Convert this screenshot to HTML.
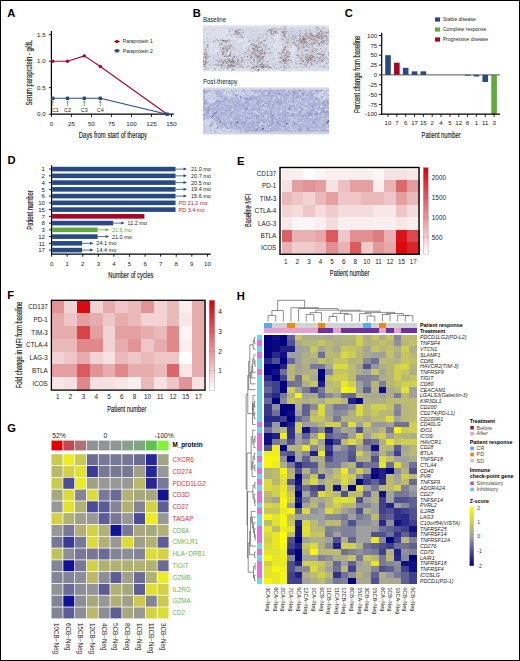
<!DOCTYPE html>
<html><head><meta charset="utf-8"><style>
html,body{margin:0;padding:0;background:#fff;}
svg{display:block;font-family:"Liberation Sans",sans-serif;}
.ce rect{shape-rendering:crispEdges;}
</style></head><body>
<svg width="520" height="661" viewBox="0 0 520 661">
<rect x="0" y="0" width="520" height="661" fill="#fff"/>
<text x="7.3" y="16.7" font-size="11.2" font-weight="bold" fill="#000">A</text>
<line x1="51.40" y1="31.10" x2="51.40" y2="114.80" stroke="#000" stroke-width="1.2" />
<line x1="50.80" y1="114.20" x2="173.80" y2="114.20" stroke="#000" stroke-width="1.2" />
<line x1="48.80" y1="114.20" x2="51.40" y2="114.20" stroke="#000" stroke-width="0.9" />
<text x="45.60" y="116.40" font-size="6.2" text-anchor="end" fill="#222">0.0</text>
<line x1="48.80" y1="87.70" x2="51.40" y2="87.70" stroke="#000" stroke-width="0.9" />
<text x="45.60" y="89.90" font-size="6.2" text-anchor="end" fill="#222">0.5</text>
<line x1="48.80" y1="61.20" x2="51.40" y2="61.20" stroke="#000" stroke-width="0.9" />
<text x="45.60" y="63.40" font-size="6.2" text-anchor="end" fill="#222">1.0</text>
<line x1="48.80" y1="34.70" x2="51.40" y2="34.70" stroke="#000" stroke-width="0.9" />
<text x="45.60" y="36.90" font-size="6.2" text-anchor="end" fill="#222">1.5</text>
<line x1="51.50" y1="114.20" x2="51.50" y2="116.80" stroke="#000" stroke-width="0.9" />
<text x="51.50" y="125.80" font-size="6.2" text-anchor="middle" fill="#222">0</text>
<line x1="71.50" y1="114.20" x2="71.50" y2="116.80" stroke="#000" stroke-width="0.9" />
<text x="71.50" y="125.80" font-size="6.2" text-anchor="middle" fill="#222">25</text>
<line x1="91.50" y1="114.20" x2="91.50" y2="116.80" stroke="#000" stroke-width="0.9" />
<text x="91.50" y="125.80" font-size="6.2" text-anchor="middle" fill="#222">50</text>
<line x1="111.50" y1="114.20" x2="111.50" y2="116.80" stroke="#000" stroke-width="0.9" />
<text x="111.50" y="125.80" font-size="6.2" text-anchor="middle" fill="#222">75</text>
<line x1="131.50" y1="114.20" x2="131.50" y2="116.80" stroke="#000" stroke-width="0.9" />
<text x="131.50" y="125.80" font-size="6.2" text-anchor="middle" fill="#222">100</text>
<line x1="151.50" y1="114.20" x2="151.50" y2="116.80" stroke="#000" stroke-width="0.9" />
<text x="151.50" y="125.80" font-size="6.2" text-anchor="middle" fill="#222">125</text>
<line x1="171.50" y1="114.20" x2="171.50" y2="116.80" stroke="#000" stroke-width="0.9" />
<text x="171.50" y="125.80" font-size="6.2" text-anchor="middle" fill="#222">150</text>
<text x="112.90" y="137.50" font-size="9.0" font-weight="normal" text-anchor="middle" fill="#222" stroke="#222" stroke-width="0.16" textLength="68.2" lengthAdjust="spacingAndGlyphs">Days from start of therapy</text>
<text x="0" y="0" font-size="9.0" font-weight="normal" text-anchor="middle" fill="#222" stroke="#222" stroke-width="0.16" textLength="65.4" lengthAdjust="spacingAndGlyphs" transform="translate(31.60,72.80) rotate(-90)">Serum paraprotein - g/dL</text>
<polyline fill="none" stroke="#284a84" stroke-width="1.1" points="52.70,98.30 67.50,98.30 84.30,98.30 100.30,98.30 167.18,114.20"/>
<polyline fill="none" stroke="#a80424" stroke-width="1.1" points="52.70,61.20 67.50,61.20 84.30,55.90 100.30,66.50 167.18,114.20"/>
<rect x="51.00" y="96.60" width="3.40" height="3.40" fill="#284a84" />
<rect x="65.80" y="96.60" width="3.40" height="3.40" fill="#284a84" />
<rect x="82.60" y="96.60" width="3.40" height="3.40" fill="#284a84" />
<rect x="98.60" y="96.60" width="3.40" height="3.40" fill="#284a84" />
<rect x="165.48" y="112.50" width="3.40" height="3.40" fill="#284a84" />
<circle cx="52.70" cy="61.20" r="1.7" fill="#a80424"/>
<circle cx="67.50" cy="61.20" r="1.7" fill="#a80424"/>
<circle cx="84.30" cy="55.90" r="1.7" fill="#a80424"/>
<circle cx="100.30" cy="66.50" r="1.7" fill="#a80424"/>
<line x1="52.70" y1="106.20" x2="52.70" y2="101.80" stroke="#64a840" stroke-width="0.8" />
<path d="M51.30,102.60 L52.70,100.30 L54.10,102.60 Z" fill="#64a840"/>
<text x="55.40" y="111.72" font-size="5.4" text-anchor="middle" fill="#222">C1</text>
<line x1="67.50" y1="106.20" x2="67.50" y2="101.80" stroke="#64a840" stroke-width="0.8" />
<path d="M66.10,102.60 L67.50,100.30 L68.90,102.60 Z" fill="#64a840"/>
<text x="67.50" y="111.72" font-size="5.4" text-anchor="middle" fill="#222">C2</text>
<line x1="84.30" y1="106.20" x2="84.30" y2="101.80" stroke="#64a840" stroke-width="0.8" />
<path d="M82.90,102.60 L84.30,100.30 L85.70,102.60 Z" fill="#64a840"/>
<text x="84.30" y="111.72" font-size="5.4" text-anchor="middle" fill="#222">C3</text>
<line x1="100.30" y1="106.20" x2="100.30" y2="101.80" stroke="#64a840" stroke-width="0.8" />
<path d="M98.90,102.60 L100.30,100.30 L101.70,102.60 Z" fill="#64a840"/>
<text x="100.30" y="111.72" font-size="5.4" text-anchor="middle" fill="#222">C4</text>
<line x1="114.20" y1="41.50" x2="119.80" y2="41.50" stroke="#a80424" stroke-width="1.1" />
<circle cx="117" cy="41.5" r="1.7" fill="#a80424"/>
<line x1="114.20" y1="50.80" x2="119.80" y2="50.80" stroke="#284a84" stroke-width="1.1" />
<rect x="115.30" y="49.10" width="3.40" height="3.40" fill="#284a84" />
<text x="122.80" y="43.27" font-size="5.0" text-anchor="start" fill="#222">Paraprotein 1</text>
<text x="122.80" y="52.57" font-size="5.0" text-anchor="start" fill="#222">Paraprotein 2</text>
<text x="192.8" y="16.7" font-size="11.2" font-weight="bold" fill="#000">B</text>
<text x="202.90" y="22.27" font-size="6.4" text-anchor="start" fill="#222" textLength="23.2" lengthAdjust="spacingAndGlyphs">Baseline</text>
<text x="202.90" y="84.27" font-size="6.4" text-anchor="start" fill="#222" textLength="34.5" lengthAdjust="spacingAndGlyphs">Post-therapy</text>
<svg x="203" y="25.2" width="126.3" height="46.2" viewBox="0 0 126.3 46.2" overflow="hidden"><defs><filter id="hb0" x="0" y="0" width="1" height="1"><feGaussianBlur stdDeviation="0.35"/></filter></defs><g filter="url(#hb0)">
<rect width="126.3" height="46.2" fill="#d5d8e6"/>
<rect width="126.3" height="2.5" fill="#dfe2ec"/>
<rect y="43.2" width="126.3" height="3" fill="#dde0ea"/>
<ellipse cx="14" cy="9" rx="16" ry="6" fill="#dfe1ec" opacity="0.9"/>
<ellipse cx="74" cy="20" rx="4" ry="13" fill="#dfe1ec" opacity="0.9"/>
<ellipse cx="90" cy="26" rx="4" ry="10" fill="#dfe1ec" opacity="0.9"/>
<ellipse cx="40" cy="18" rx="7" ry="5" fill="#dfe1ec" opacity="0.9"/>
<ellipse cx="12" cy="24" rx="8" ry="6" fill="#dfe1ec" opacity="0.9"/>
<ellipse cx="30" cy="12" rx="4" ry="3" fill="#dfe1ec" opacity="0.9"/>
<path d="M40.9 9.1h0M11.5 20.1h0M72.9 18.9h0M14.9 15.4h0M83.2 3.5h0M3.2 38.1h0M43.3 13.6h0M77.5 34.7h0M101.8 35.9h0M25.2 22.8h0M2.7 35.1h0M19.2 23.5h0M111.8 9.5h0M10.6 13.9h0M118.5 28.5h0M78.5 4.7h0M92.1 8.6h0M40.9 4.4h0M10.7 41.5h0M106.9 12.4h0M48.9 39.8h0M8.2 18.7h0M15.9 23.2h0M56.3 41.3h0M28.3 9.1h0M13.8 28.1h0M45.8 16.5h0M119.5 5.6h0M99.8 39.7h0M10.0 10.9h0M41.1 42.4h0M29.2 35.5h0M6.4 27.1h0M76.2 34.2h0M13.4 27.0h0M4.8 32.4h0M39.7 27.4h0M114.2 27.9h0M15.5 12.9h0M5.2 25.6h0M113.0 29.2h0M108.2 43.0h0M113.1 9.8h0M70.1 26.3h0M56.0 40.7h0M1.6 25.1h0M122.7 14.9h0M78.6 6.1h0M4.2 7.5h0M119.9 39.6h0M67.9 11.7h0M25.5 33.6h0M43.9 6.8h0M104.4 27.8h0M125.7 9.6h0M88.6 26.6h0M65.9 19.5h0M24.4 28.8h0M98.5 21.9h0M104.6 39.4h0M76.8 26.3h0M20.8 27.1h0M9.5 28.6h0M103.8 22.1h0M53.2 7.0h0M40.2 20.3h0M2.0 3.2h0M16.3 3.7h0M41.9 27.4h0M47.6 30.5h0M33.9 9.3h0M73.0 17.4h0M7.0 8.8h0M100.9 9.3h0M118.0 37.8h0M62.0 15.8h0M116.9 25.5h0" stroke="#e4e6ee" stroke-opacity="0.75" stroke-width="1.6" stroke-linecap="round" fill="none"/>
<path d="M103.7 6.8h0M70.3 8.4h0M88.3 12.8h0M62.5 16.8h0M8.7 6.8h0M73.0 30.4h0M59.4 16.6h0M63.3 33.7h0M53.1 39.9h0M56.0 27.6h0M34.2 8.2h0M86.9 42.5h0M94.5 23.2h0M118.2 13.0h0M59.6 16.8h0M11.7 39.1h0M119.2 10.7h0M18.5 18.8h0M37.6 32.0h0M41.4 15.8h0M51.5 29.1h0M37.1 25.8h0M8.2 13.1h0M103.4 19.4h0M38.8 41.3h0M11.2 28.0h0M124.5 21.7h0M77.1 13.1h0M121.8 22.3h0M71.6 15.2h0M103.7 38.9h0M22.2 43.1h0M106.3 24.6h0M88.1 37.5h0M25.2 41.4h0M72.6 14.5h0M29.5 21.5h0M65.9 37.9h0M73.1 8.1h0M30.1 10.7h0M15.7 20.4h0M57.5 28.0h0M65.6 7.1h0M67.0 16.9h0M106.2 21.8h0M37.5 21.7h0M11.9 29.5h0M50.4 25.3h0M68.2 22.5h0M121.2 13.3h0M85.5 15.0h0" stroke="#bfc2da" stroke-opacity="0.75" stroke-width="1.2" stroke-linecap="round" fill="none"/>
<path d="M27.1 6.5h0M119.7 28.4h0M74.0 21.2h0M44.9 27.6h0M65.5 39.5h0M67.3 34.3h0M120.6 17.7h0M83.0 17.1h0M66.5 40.5h0M86.2 24.3h0M97.5 23.4h0M17.3 7.9h0M81.3 17.7h0M2.5 25.3h0M48.5 23.8h0M14.3 39.9h0M76.8 11.9h0M63.2 10.2h0M109.9 30.0h0M35.2 29.4h0M5.3 3.9h0M17.6 24.1h0M30.9 13.6h0M66.4 33.0h0M9.7 39.6h0M16.7 36.0h0M45.6 20.2h0M61.3 39.7h0M93.3 29.2h0M38.0 25.4h0M54.0 25.0h0M108.0 42.1h0M84.3 40.2h0M8.5 22.9h0M56.8 31.6h0M126.0 40.5h0M115.5 4.6h0M81.4 18.7h0M51.3 38.5h0M116.9 7.4h0M11.6 20.8h0M24.5 42.5h0M28.3 26.5h0M104.2 28.4h0M65.5 7.0h0M32.9 40.9h0M91.3 27.2h0M35.5 38.6h0M98.3 18.6h0M125.1 10.4h0M59.1 14.8h0M19.3 15.2h0M111.5 25.3h0M102.1 6.8h0M72.7 39.9h0M123.9 22.1h0M124.6 37.5h0M58.2 40.5h0M99.1 25.8h0M75.9 15.4h0M86.5 39.7h0M94.9 34.8h0M40.5 23.3h0M31.1 40.1h0M75.4 16.9h0M70.4 38.0h0M11.3 40.0h0M13.3 16.0h0M47.4 18.3h0M115.5 38.9h0M57.0 38.8h0" stroke="#e4e6ee" stroke-opacity="0.75" stroke-width="1.2" stroke-linecap="round" fill="none"/>
<path d="M13.0 26.0h0M69.2 5.5h0M121.0 9.1h0M20.5 16.7h0M58.5 32.9h0M76.9 34.2h0M111.6 5.3h0M72.1 31.2h0M120.8 28.8h0M77.9 28.8h0M94.8 36.7h0M10.7 34.2h0M111.8 29.0h0M55.9 7.4h0M44.4 41.4h0M5.1 4.4h0M38.3 30.8h0M124.8 42.1h0M32.9 20.7h0M69.5 28.7h0M54.8 9.3h0M21.7 17.0h0M106.9 36.3h0M63.9 15.8h0M18.5 16.3h0M28.7 29.3h0M46.3 36.3h0M118.3 12.8h0M20.9 3.0h0M51.3 12.6h0M10.8 23.4h0M43.6 8.7h0M17.5 28.9h0M13.5 11.3h0M37.6 14.0h0M4.8 24.8h0M16.1 42.1h0M6.3 15.1h0M96.3 7.1h0M89.7 37.7h0M55.4 30.2h0M121.7 13.2h0M125.6 18.2h0M7.5 25.2h0" stroke="#e4e6ee" stroke-opacity="0.75" stroke-width="0.8" stroke-linecap="round" fill="none"/>
<path d="M62.7 24.4h0M9.8 25.4h0M120.0 29.3h0M50.6 10.7h0M80.1 41.4h0M15.5 37.1h0M65.2 11.2h0M120.8 21.0h0M42.0 35.2h0M101.9 8.9h0M52.9 8.3h0M122.2 11.8h0M101.0 10.4h0M68.9 38.7h0M105.7 3.6h0M54.4 5.2h0M83.0 31.8h0M9.7 23.4h0M88.8 12.3h0M39.9 34.1h0M16.1 20.1h0M118.9 32.0h0M29.4 40.0h0M0.1 24.6h0M121.1 28.9h0M29.2 11.9h0M3.8 19.5h0M32.5 33.0h0M60.0 41.5h0M68.0 34.1h0M12.9 22.1h0M117.5 18.0h0M5.1 8.2h0M97.0 5.0h0M4.3 9.0h0M8.0 8.8h0M94.1 21.7h0M24.2 18.6h0M29.5 38.6h0M8.3 37.9h0M16.8 34.8h0M117.5 4.9h0M117.3 38.9h0M76.2 19.3h0M90.0 9.3h0M83.5 38.1h0M92.1 27.7h0M122.7 43.0h0M44.6 28.7h0M85.7 22.4h0M54.1 28.6h0M1.4 41.3h0M2.6 4.8h0M4.3 31.9h0M53.3 25.3h0M62.9 24.0h0M56.9 32.9h0M92.1 9.7h0M45.9 28.9h0M24.3 10.3h0M32.6 23.6h0M98.3 41.5h0M72.1 14.9h0" stroke="#c4c7dc" stroke-opacity="0.75" stroke-width="1.6" stroke-linecap="round" fill="none"/>
<path d="M123.8 7.7h0M43.0 17.1h0M97.0 8.2h0M35.2 19.7h0M33.2 3.2h0M104.3 11.5h0M59.8 32.2h0M25.2 14.1h0M64.1 13.0h0M116.5 38.9h0M84.8 20.2h0M20.4 20.3h0M57.3 16.6h0M79.4 24.3h0M69.6 10.6h0M13.4 35.9h0M45.0 3.0h0M96.5 32.0h0M93.4 42.2h0M122.8 7.0h0M36.7 23.8h0M96.9 42.9h0M73.4 8.7h0M47.5 7.9h0M90.1 39.2h0M81.2 6.0h0M69.5 21.2h0M43.2 6.7h0M48.4 33.0h0M42.7 5.5h0M121.6 28.2h0M87.9 31.9h0M82.4 24.1h0M83.9 18.2h0M48.0 33.9h0M116.1 10.8h0M33.1 31.8h0M19.4 38.5h0M84.4 16.0h0M69.5 28.2h0M38.9 13.0h0M50.6 5.7h0M86.7 32.0h0M51.0 28.6h0M93.1 5.6h0M97.2 27.2h0M78.1 4.2h0M99.4 28.2h0M112.2 4.0h0M95.1 29.0h0M93.7 9.8h0M33.8 18.1h0M45.2 29.3h0M104.5 22.0h0M59.0 8.8h0M70.0 39.7h0M44.9 22.8h0M110.3 16.9h0M100.0 16.3h0M95.9 14.8h0M86.7 27.9h0M60.2 34.3h0M61.4 25.8h0M28.0 4.6h0M106.4 28.3h0" stroke="#c4c7dc" stroke-opacity="0.75" stroke-width="1.2" stroke-linecap="round" fill="none"/>
<path d="M19.2 22.7h0M77.0 15.8h0M49.6 19.0h0M60.7 15.5h0M18.5 24.8h0M99.8 22.0h0M94.7 22.2h0M99.0 39.1h0M103.4 13.4h0M125.6 4.5h0M11.5 35.8h0M91.5 28.9h0M69.4 31.9h0M122.3 22.7h0M88.2 7.5h0M61.3 39.6h0M11.1 31.4h0M56.4 20.6h0M98.2 23.6h0M34.7 35.8h0M22.3 32.9h0M50.8 13.6h0M119.1 13.6h0M118.5 12.3h0M54.1 24.9h0M99.5 36.7h0M90.6 3.5h0M18.0 11.9h0" stroke="#bfc2da" stroke-opacity="0.75" stroke-width="0.8" stroke-linecap="round" fill="none"/>
<path d="M83.9 5.4h0M69.4 38.5h0M113.6 34.4h0M71.6 24.6h0M106.1 22.3h0M10.7 29.6h0M113.4 29.6h0M56.3 13.6h0M112.7 28.2h0M104.4 26.5h0M70.5 28.2h0M41.9 29.2h0M49.8 9.4h0M35.4 5.1h0M111.7 35.6h0M25.0 35.0h0M117.2 10.4h0M52.6 27.9h0M39.4 11.2h0M61.1 19.4h0M50.2 13.9h0M80.9 37.4h0M31.8 24.5h0M100.7 13.6h0M32.0 28.7h0M117.3 39.0h0M52.2 23.8h0M8.1 28.2h0M4.9 16.5h0M69.9 20.5h0M114.6 28.4h0M122.2 26.8h0M96.8 22.7h0M41.4 10.6h0M48.5 42.6h0M50.4 34.8h0M84.4 29.2h0M88.4 37.3h0M12.4 19.9h0M115.6 28.3h0M33.5 12.0h0M26.8 8.2h0M100.0 9.8h0M123.4 6.6h0M26.9 6.2h0M99.7 39.6h0M18.6 30.1h0M10.5 4.6h0M46.6 36.1h0M85.9 26.9h0M10.5 22.0h0M97.8 31.7h0M76.9 15.7h0M78.5 29.2h0M36.4 8.7h0M18.6 42.2h0M117.7 12.4h0M50.0 31.5h0M73.2 39.1h0M11.9 11.2h0M53.8 41.0h0M109.0 28.7h0M56.6 9.4h0M19.4 23.6h0" stroke="#bfc2da" stroke-opacity="0.75" stroke-width="1.6" stroke-linecap="round" fill="none"/>
<path d="M48.7 29.9h0M115.8 23.0h0M37.6 28.8h0M21.5 8.1h0M53.2 17.3h0M122.4 13.5h0M87.5 4.8h0M16.8 17.5h0M71.7 3.5h0M123.5 40.6h0M56.9 15.1h0M51.9 27.7h0M102.2 11.1h0M66.5 25.0h0M89.0 15.4h0M17.9 5.1h0M33.5 6.4h0M4.7 16.7h0M111.6 19.6h0M16.4 5.1h0M38.1 36.7h0M5.3 40.7h0M98.5 21.4h0M52.8 17.6h0M81.0 35.7h0M98.9 31.8h0M106.3 11.2h0M40.3 20.0h0M123.9 14.9h0M25.9 22.1h0M34.7 19.1h0M98.0 16.9h0M102.0 14.4h0M67.7 17.3h0M46.9 21.6h0M40.7 12.4h0M33.6 19.6h0" stroke="#c4c7dc" stroke-opacity="0.75" stroke-width="0.8" stroke-linecap="round" fill="none"/>
<path d="M2.4 39.2h0M4.2 29.3h0M3.0 37.2h0M28.9 20.7h0M24.7 25.1h0M25.6 40.3h0M18.5 39.1h0M25.0 40.5h0M35.3 34.5h0M54.8 15.0h0M51.2 25.6h0M60.2 31.3h0M57.2 17.8h0M51.2 23.5h0M70.6 9.4h0M82.4 8.9h0M83.2 42.3h0M80.4 23.8h0M102.6 8.5h0M106.1 12.6h0M97.0 15.1h0M91.0 6.5h0M109.2 21.2h0M121.7 16.0h0M117.8 10.3h0M116.0 20.6h0M102.4 41.3h0M86.2 28.0h0M102.9 31.0h0M128.6 32.9h0M119.5 35.6h0M117.8 34.2h0M102.9 25.9h0M107.8 30.9h0M105.4 33.8h0M104.1 33.9h0M119.1 33.0h0M88.3 35.4h0M123.4 32.4h0M50.4 46.3h0M49.1 46.0h0M13.6 14.7h0" stroke="#6c5450" stroke-opacity="0.75" stroke-width="0.8" stroke-linecap="round" fill="none"/>
<path d="M3.2 32.4h0M3.7 24.5h0M2.7 32.2h0M3.6 26.6h0M3.1 26.1h0M-0.5 31.8h0M5.0 19.3h0M35.0 7.2h0M32.5 5.2h0M34.7 5.4h0M33.8 6.4h0M24.4 25.8h0M20.5 22.7h0M19.2 24.9h0M21.9 23.5h0M27.2 21.8h0M19.7 27.2h0M23.2 23.9h0M28.6 21.1h0M30.5 35.7h0M35.6 42.0h0M43.5 32.9h0M38.8 34.5h0M24.8 43.1h0M23.4 38.2h0M33.9 37.4h0M29.4 40.7h0M41.1 36.7h0M29.4 39.5h0M33.8 38.7h0M25.5 30.7h0M24.8 34.6h0M26.1 35.2h0M27.7 40.2h0M23.9 37.5h0M34.9 39.8h0M25.4 40.1h0M44.5 38.5h0M42.4 36.6h0M24.2 38.6h0M37.0 39.7h0M25.5 37.0h0M15.8 30.2h0M58.6 27.7h0M59.0 31.9h0M61.7 24.7h0M58.7 38.9h0M61.7 30.8h0M58.3 18.4h0M59.5 39.4h0M51.6 34.1h0M56.5 34.3h0M51.1 34.5h0M42.5 22.5h0M59.7 32.3h0M58.9 28.4h0M55.7 35.0h0M68.3 4.0h0M71.9 3.9h0M80.3 4.3h0M81.6 5.6h0M85.1 31.7h0M81.4 33.2h0M83.5 26.9h0M87.6 35.7h0M83.8 41.2h0M81.0 30.7h0M81.5 27.6h0M100.0 8.0h0M112.8 14.7h0M107.2 1.5h0M94.7 21.4h0M90.1 17.2h0M114.4 8.9h0M110.1 10.9h0M106.8 24.6h0M100.9 14.0h0M98.6 17.7h0M103.6 16.2h0M110.1 11.3h0M87.3 20.5h0M98.5 16.7h0M92.8 12.9h0M104.0 18.0h0M108.6 10.0h0M97.3 20.7h0M106.5 12.5h0M110.3 5.8h0M96.3 15.5h0M102.9 4.6h0M96.6 19.5h0M117.3 18.0h0M112.5 9.7h0M112.1 18.5h0M114.6 5.1h0M113.4 20.8h0M116.1 9.1h0M124.7 7.7h0M114.7 12.4h0M122.0 11.8h0M119.2 6.6h0M113.0 44.3h0M115.0 34.2h0M98.4 26.8h0M106.6 34.1h0M122.6 37.8h0M105.8 32.8h0M117.2 41.1h0M114.5 31.8h0M98.4 35.0h0M106.8 40.4h0M112.2 24.5h0M102.6 37.0h0M110.1 32.5h0M106.5 43.0h0M65.7 41.0h0M58.2 46.3h0M64.5 39.1h0M65.0 41.4h0M14.2 14.1h0M25.4 14.8h0M14.7 15.4h0" stroke="#806860" stroke-opacity="0.5" stroke-width="0.8" stroke-linecap="round" fill="none"/>
<path d="M2.3 27.6h0M5.1 43.5h0M0.4 36.3h0M1.9 28.4h0M3.3 28.9h0M3.0 41.9h0M33.8 6.5h0M37.2 4.0h0M19.8 15.1h0M16.1 22.4h0M19.4 18.5h0M23.6 25.6h0M22.1 34.7h0M16.4 36.4h0M39.2 32.4h0M25.2 35.6h0M25.2 41.0h0M39.2 35.4h0M32.7 41.3h0M29.5 40.7h0M26.2 36.0h0M31.0 44.4h0M26.7 41.8h0M27.0 39.6h0M38.1 36.6h0M30.9 37.8h0M25.3 40.0h0M26.3 33.5h0M28.6 40.0h0M17.9 39.9h0M35.3 37.0h0M46.0 34.7h0M30.2 42.1h0M7.0 39.5h0M29.8 35.5h0M41.5 31.5h0M58.9 31.7h0M59.8 12.4h0M59.3 26.4h0M46.4 30.1h0M50.0 23.5h0M58.6 28.1h0M56.3 41.8h0M54.7 36.2h0M63.8 13.5h0M62.4 21.8h0M53.5 33.4h0M57.7 29.5h0M50.5 42.7h0M52.0 26.4h0M53.4 42.7h0M56.1 30.7h0M63.1 19.4h0M61.8 27.4h0M51.3 38.8h0M60.0 27.9h0M52.1 27.8h0M71.3 17.2h0M52.4 21.2h0M58.6 32.7h0M70.4 33.5h0M54.1 15.2h0M60.7 31.4h0M59.3 33.1h0M61.1 29.2h0M70.3 2.8h0M65.0 5.3h0M69.1 5.2h0M81.4 7.6h0M79.7 6.7h0M78.3 13.9h0M83.6 25.4h0M78.3 37.8h0M81.2 38.0h0M85.7 31.0h0M76.8 29.0h0M76.5 43.3h0M80.2 35.3h0M78.2 35.9h0M83.7 14.1h0M81.2 21.4h0M109.1 14.5h0M90.0 14.3h0M79.8 13.5h0M103.9 11.4h0M102.5 6.1h0M99.5 17.2h0M97.8 15.3h0M95.8 24.8h0M101.9 16.5h0M104.2 7.5h0M87.7 6.2h0M99.3 14.3h0M98.1 26.6h0M113.4 14.3h0M106.6 19.3h0M92.0 17.5h0M101.2 14.9h0M123.7 18.6h0M114.8 15.3h0M119.1 17.1h0M113.2 10.1h0M122.5 15.1h0M103.8 13.8h0M129.0 -4.8h0M110.0 25.2h0M121.0 11.6h0M117.3 -1.8h0M129.1 10.1h0M126.4 11.5h0M108.1 34.3h0M109.5 32.0h0M107.3 30.3h0M120.5 34.7h0M92.5 33.6h0M119.3 35.5h0M97.3 33.3h0M92.6 37.3h0M104.9 28.7h0M104.7 37.2h0M98.4 30.2h0M105.6 34.4h0M110.8 34.0h0M107.1 33.9h0M102.8 36.7h0M117.7 23.4h0M61.7 40.8h0M62.4 41.0h0M56.9 39.1h0M67.3 41.9h0" stroke="#7a6058" stroke-opacity="0.5" stroke-width="1.2" stroke-linecap="round" fill="none"/>
<path d="M0.6 33.5h0M0.5 39.2h0M5.0 23.2h0M5.6 26.0h0M3.2 44.2h0M2.7 23.7h0M2.0 29.5h0M1.8 36.1h0M2.7 31.4h0M35.5 11.5h0M32.6 6.0h0M23.7 26.3h0M18.4 27.1h0M19.8 26.4h0M26.5 23.0h0M21.3 27.8h0M24.1 25.2h0M23.2 24.1h0M5.0 32.7h0M20.8 29.7h0M16.3 40.4h0M37.0 30.4h0M28.0 40.1h0M13.0 36.8h0M25.4 37.3h0M40.8 41.3h0M27.7 41.1h0M29.3 40.3h0M36.5 41.8h0M20.5 37.3h0M21.5 39.7h0M39.9 43.3h0M37.8 33.8h0M29.3 34.1h0M22.5 32.8h0M14.1 40.0h0M31.3 38.1h0M61.1 35.4h0M47.9 15.1h0M54.5 24.3h0M53.8 37.3h0M56.7 25.8h0M57.5 27.5h0M68.1 27.0h0M51.6 29.9h0M56.7 25.7h0M71.8 6.5h0M81.2 3.9h0M79.9 14.5h0M80.2 14.7h0M84.7 39.1h0M88.8 31.6h0M84.6 27.0h0M85.1 30.8h0M81.9 38.0h0M83.2 28.0h0M105.9 22.5h0M92.6 20.6h0M108.8 21.7h0M105.7 9.8h0M96.0 23.0h0M97.0 13.4h0M105.1 17.8h0M102.7 10.6h0M95.4 10.4h0M108.7 9.6h0M91.9 10.5h0M105.7 13.9h0M108.6 12.1h0M97.4 16.5h0M97.3 14.9h0M103.9 20.9h0M113.0 15.6h0M125.0 16.0h0M112.4 13.0h0M110.0 18.7h0M129.1 7.6h0M115.1 17.7h0M119.6 25.4h0M120.4 26.0h0M107.4 13.3h0M94.4 28.2h0M102.4 30.9h0M97.5 37.9h0M110.3 39.3h0M99.8 24.1h0M105.9 31.9h0M105.1 30.5h0M111.6 25.5h0M112.8 33.4h0M120.5 29.5h0M90.9 31.4h0M113.7 24.8h0M100.4 32.1h0M104.4 25.5h0M66.5 42.3h0M53.9 41.4h0M65.5 42.5h0M51.4 42.1h0M55.5 45.4h0M19.2 13.7h0M20.8 16.2h0M20.2 15.3h0M22.1 15.6h0M23.8 16.5h0" stroke="#7a6470" stroke-opacity="0.5" stroke-width="0.8" stroke-linecap="round" fill="none"/>
<path d="M2.2 35.7h0M2.7 38.9h0M0.9 40.9h0M3.9 32.0h0M0.8 17.7h0M0.9 37.7h0M-0.4 31.3h0M3.7 37.1h0M2.2 26.9h0M30.0 9.3h0M34.5 9.5h0M34.2 9.7h0M24.6 22.3h0M24.6 25.9h0M17.4 24.1h0M16.8 19.9h0M22.2 22.9h0M21.5 21.1h0M22.0 24.7h0M21.3 42.3h0M41.2 38.9h0M49.2 42.9h0M24.4 38.1h0M26.2 39.0h0M30.3 38.8h0M24.4 31.0h0M39.6 35.7h0M22.9 35.4h0M35.3 38.9h0M27.4 30.2h0M30.3 36.3h0M39.0 40.1h0M54.9 34.6h0M57.0 18.8h0M57.7 28.2h0M53.2 29.2h0M61.5 28.0h0M58.7 26.8h0M53.5 20.6h0M48.3 43.5h0M48.6 19.5h0M55.1 13.1h0M58.2 24.9h0M61.0 31.3h0M51.4 23.5h0M57.1 21.5h0M55.1 28.0h0M57.4 12.6h0M46.6 15.8h0M61.3 20.1h0M59.9 36.1h0M55.9 25.0h0M45.6 28.5h0M58.9 28.9h0M63.0 8.8h0M63.5 41.7h0M60.6 32.9h0M48.9 33.3h0M60.5 19.7h0M48.3 26.9h0M52.1 42.1h0M54.5 22.6h0M53.4 22.2h0M70.6 7.6h0M73.3 6.1h0M82.4 5.9h0M81.7 8.0h0M80.5 6.6h0M77.2 2.8h0M79.1 32.4h0M81.4 44.4h0M81.0 35.2h0M82.7 34.6h0M81.5 32.5h0M78.9 26.6h0M82.3 47.3h0M74.9 28.6h0M84.4 26.2h0M79.0 36.8h0M81.5 29.8h0M80.5 34.5h0M84.5 35.2h0M97.8 18.1h0M103.4 11.2h0M100.0 21.8h0M101.9 18.0h0M95.0 19.0h0M99.5 12.4h0M85.0 15.0h0M94.0 7.3h0M90.2 12.1h0M105.0 11.9h0M103.6 9.5h0M93.9 20.7h0M97.1 7.7h0M110.3 19.5h0M100.0 11.3h0M108.7 13.9h0M98.5 16.9h0M118.7 20.7h0M124.5 15.2h0M108.7 14.8h0M121.5 17.1h0M120.7 19.3h0M111.5 16.4h0M116.7 18.2h0M119.3 8.9h0M124.6 12.6h0M119.0 11.9h0M118.9 16.5h0M115.3 19.6h0M117.0 11.4h0M110.4 9.5h0M107.2 7.7h0M111.6 15.4h0M106.0 30.9h0M116.6 36.7h0M99.2 36.0h0M109.6 32.6h0M121.4 40.7h0M108.0 34.3h0M105.3 25.6h0M97.8 38.9h0M108.3 26.1h0M110.6 36.8h0M110.5 32.1h0M96.5 30.9h0M102.9 32.7h0M105.3 34.7h0M115.0 37.8h0M113.7 38.4h0M51.9 40.8h0M52.5 44.2h0M57.2 40.5h0M65.9 42.0h0M56.9 42.5h0M68.2 42.8h0M52.0 43.3h0M50.9 41.3h0M58.6 42.0h0M18.8 15.1h0M15.1 15.5h0M20.0 15.3h0" stroke="#6c5450" stroke-opacity="0.5" stroke-width="0.8" stroke-linecap="round" fill="none"/>
<path d="M3.2 37.7h0M2.9 37.8h0M2.8 33.6h0M1.8 36.4h0M2.0 38.7h0M3.9 33.5h0M4.9 22.0h0M39.0 4.9h0M37.1 4.9h0M33.0 5.6h0M37.4 9.7h0M35.6 4.4h0M21.3 26.0h0M23.1 29.3h0M14.7 27.1h0M19.9 26.0h0M27.6 20.4h0M23.3 16.6h0M17.1 33.4h0M12.0 43.5h0M24.6 34.1h0M39.3 35.3h0M30.1 36.7h0M19.7 39.7h0M30.6 35.8h0M36.1 38.9h0M13.8 39.4h0M24.2 37.8h0M29.8 36.5h0M29.1 35.5h0M31.1 30.0h0M34.6 35.0h0M27.0 36.8h0M38.6 32.4h0M7.7 31.1h0M20.3 38.0h0M15.5 37.1h0M30.8 31.3h0M22.0 37.4h0M35.3 34.5h0M15.9 39.8h0M44.9 26.4h0M59.3 37.9h0M49.7 39.1h0M56.6 35.7h0M58.4 16.9h0M48.9 18.9h0M60.7 42.9h0M65.3 40.0h0M62.5 28.0h0M60.2 39.8h0M55.7 30.6h0M73.8 24.0h0M58.1 21.9h0M54.8 27.3h0M54.8 32.7h0M56.0 22.2h0M45.7 23.6h0M53.9 34.8h0M58.5 25.8h0M51.1 24.0h0M63.2 27.6h0M41.7 27.7h0M56.8 28.6h0M74.2 7.8h0M72.4 3.4h0M83.2 5.8h0M81.7 10.0h0M78.5 10.2h0M82.9 36.3h0M84.0 47.0h0M80.9 24.7h0M82.1 42.9h0M86.2 41.1h0M78.1 33.0h0M77.7 36.7h0M97.8 10.9h0M88.1 17.9h0M106.5 15.6h0M88.7 3.4h0M101.5 14.1h0M102.7 13.6h0M93.8 15.6h0M96.1 23.1h0M108.7 19.0h0M101.9 22.2h0M87.9 15.2h0M89.0 19.4h0M102.6 13.8h0M97.4 16.6h0M102.9 12.8h0M110.9 13.3h0M102.7 20.8h0M100.0 22.4h0M119.9 8.7h0M123.2 5.8h0M114.3 15.9h0M108.9 9.5h0M125.2 14.6h0M115.1 13.1h0M109.2 12.0h0M118.4 10.1h0M115.4 10.6h0M116.9 13.3h0M112.8 18.2h0M111.5 27.4h0M110.5 26.5h0M116.5 32.8h0M113.7 37.1h0M86.5 35.3h0M101.4 39.9h0M108.2 37.1h0M101.3 33.3h0M100.4 36.2h0M102.6 29.7h0M120.6 29.3h0M105.9 21.0h0M113.7 29.0h0M111.0 35.7h0M106.9 32.2h0M112.0 32.1h0M100.0 28.9h0M115.0 29.2h0M119.8 26.8h0M63.2 42.2h0M65.3 40.3h0M17.6 16.6h0" stroke="#806860" stroke-opacity="0.5" stroke-width="1.2" stroke-linecap="round" fill="none"/>
<path d="M3.1 35.6h0M2.7 36.7h0M39.1 12.2h0M30.4 22.7h0M22.5 22.7h0M29.5 44.3h0M21.0 40.8h0M24.3 42.3h0M2.7 37.9h0M18.8 39.2h0M29.1 37.5h0M19.8 28.1h0M27.6 36.9h0M56.8 32.0h0M46.7 25.8h0M48.6 27.3h0M63.9 9.9h0M49.8 23.5h0M54.3 20.8h0M54.5 31.8h0M79.9 6.7h0M81.8 33.8h0M100.0 13.5h0M81.2 6.6h0M93.2 13.2h0M107.4 8.1h0M107.7 17.8h0M100.3 11.4h0M89.0 18.6h0M124.4 18.5h0M111.9 11.8h0M107.8 9.7h0M130.3 15.4h0M116.1 11.9h0M109.3 11.6h0M119.8 30.0h0M122.4 33.6h0M107.0 32.6h0M102.8 31.6h0M115.8 28.3h0M98.5 33.2h0M56.1 46.3h0M57.6 40.6h0M11.0 16.0h0" stroke="#907a74" stroke-opacity="0.75" stroke-width="1.2" stroke-linecap="round" fill="none"/>
<path d="M3.7 27.2h0M3.6 30.1h0M3.0 33.5h0M0.1 37.4h0M3.1 34.2h0M39.8 5.1h0M31.2 8.7h0M33.2 11.3h0M28.1 11.0h0M33.1 8.5h0M39.0 7.6h0M20.9 23.6h0M23.7 23.7h0M19.1 19.5h0M26.5 23.0h0M29.9 24.3h0M20.1 43.8h0M28.7 31.5h0M17.1 44.9h0M24.5 38.6h0M18.1 36.7h0M31.7 32.2h0M26.1 36.3h0M31.8 40.9h0M22.5 30.2h0M27.2 36.4h0M26.4 33.9h0M14.2 31.8h0M18.6 34.9h0M24.7 34.1h0M33.3 47.5h0M27.5 39.9h0M32.7 36.3h0M53.9 30.4h0M52.9 31.3h0M55.9 12.8h0M61.2 29.5h0M45.8 31.1h0M47.8 34.8h0M58.0 44.5h0M62.2 24.4h0M68.6 29.5h0M54.3 22.6h0M47.8 30.6h0M62.7 25.1h0M51.8 22.8h0M67.4 27.8h0M51.4 24.4h0M51.3 34.5h0M58.7 23.9h0M58.2 22.6h0M52.0 26.4h0M62.4 14.7h0M50.0 29.3h0M59.3 38.1h0M55.4 27.6h0M54.1 39.6h0M61.8 15.2h0M63.7 5.6h0M70.4 7.7h0M69.0 8.4h0M62.9 8.4h0M81.5 3.8h0M85.3 13.9h0M82.9 15.3h0M80.9 10.5h0M82.3 7.9h0M79.4 3.2h0M80.7 4.3h0M81.6 19.2h0M81.0 41.2h0M85.0 48.4h0M87.2 28.7h0M78.8 32.4h0M79.0 29.4h0M81.6 36.1h0M85.0 26.0h0M77.1 29.3h0M84.3 32.4h0M79.4 24.6h0M103.9 21.8h0M82.2 17.2h0M100.2 14.0h0M92.3 9.1h0M108.0 13.9h0M98.2 17.5h0M95.1 18.4h0M103.2 13.8h0M99.0 14.8h0M106.7 17.8h0M103.4 14.1h0M99.4 24.6h0M110.1 18.9h0M110.2 22.9h0M102.6 20.0h0M101.3 18.2h0M82.3 21.4h0M105.4 12.4h0M102.9 14.8h0M119.2 16.2h0M125.0 9.7h0M110.9 18.5h0M116.9 2.6h0M120.3 6.6h0M115.6 19.1h0M116.2 4.3h0M104.0 10.7h0M116.0 12.1h0M119.7 3.7h0M113.3 32.5h0M112.0 37.9h0M118.2 26.7h0M109.3 35.5h0M93.2 43.1h0M103.4 28.7h0M101.0 39.1h0M112.8 25.4h0M108.0 26.6h0M103.0 18.9h0M113.5 48.0h0M97.7 33.2h0M99.4 32.6h0M100.4 35.1h0M94.2 29.3h0M102.1 33.8h0M119.2 37.0h0M86.4 32.8h0M105.5 32.4h0M119.9 27.7h0M116.9 42.1h0M58.8 43.2h0M59.7 38.2h0M52.5 44.8h0M59.8 40.4h0M59.5 41.8h0M46.7 44.6h0M66.2 43.8h0M62.9 41.1h0M23.5 17.8h0" stroke="#907a74" stroke-opacity="0.5" stroke-width="0.8" stroke-linecap="round" fill="none"/>
<path d="M1.9 28.9h0M1.9 24.3h0M2.8 31.9h0M0.8 36.5h0M32.7 8.1h0M32.1 8.6h0M35.5 7.5h0M36.8 7.5h0M26.3 23.0h0M26.9 21.7h0M18.4 18.6h0M22.2 30.6h0M19.7 28.9h0M25.3 30.9h0M15.8 39.0h0M28.7 39.4h0M17.7 36.4h0M30.3 37.2h0M31.7 31.6h0M34.3 38.9h0M24.3 34.0h0M16.3 35.6h0M12.2 44.6h0M27.3 29.6h0M24.3 31.2h0M27.0 36.3h0M24.9 40.1h0M11.2 33.5h0M54.6 24.6h0M53.4 45.9h0M54.5 23.8h0M55.7 37.1h0M59.7 10.2h0M50.0 27.0h0M50.6 34.1h0M60.1 33.3h0M55.7 17.4h0M50.0 42.7h0M57.0 33.9h0M58.4 33.9h0M54.8 38.7h0M48.2 20.6h0M44.4 31.3h0M48.1 37.9h0M52.9 31.1h0M54.4 41.4h0M54.1 30.3h0M53.1 21.0h0M53.4 41.2h0M61.2 27.1h0M72.6 8.3h0M68.1 6.6h0M66.2 3.9h0M72.2 6.0h0M73.0 6.7h0M68.5 5.2h0M75.7 4.6h0M83.1 7.7h0M81.1 1.6h0M80.3 6.6h0M80.3 8.2h0M81.4 9.5h0M76.0 32.5h0M80.0 31.0h0M80.4 35.4h0M79.9 25.8h0M83.7 28.3h0M85.3 38.8h0M82.0 33.3h0M82.1 24.3h0M95.0 15.2h0M104.9 17.3h0M96.2 9.5h0M91.5 18.6h0M106.6 10.7h0M101.4 24.3h0M106.7 11.9h0M103.2 20.6h0M114.6 12.0h0M108.5 8.3h0M103.7 9.7h0M93.2 20.6h0M102.4 17.6h0M101.0 15.7h0M101.9 12.3h0M91.2 14.7h0M120.2 15.3h0M127.5 16.8h0M115.0 12.2h0M119.7 13.7h0M118.2 12.4h0M113.1 15.6h0M129.9 4.5h0M121.4 9.0h0M125.6 6.6h0M120.2 3.1h0M122.6 7.4h0M109.4 10.4h0M120.8 2.6h0M107.2 12.4h0M121.0 29.9h0M104.2 35.1h0M115.6 28.4h0M106.4 36.0h0M125.6 36.8h0M120.2 34.6h0M105.3 36.8h0M103.3 34.8h0M102.2 37.6h0M109.6 30.9h0M113.5 25.1h0M93.9 29.9h0M93.4 38.6h0M119.5 30.3h0M108.5 40.0h0M78.6 44.8h0M55.5 44.7h0M62.6 41.2h0M60.6 42.0h0M50.1 41.9h0M60.9 44.8h0" stroke="#6c5450" stroke-opacity="0.5" stroke-width="1.2" stroke-linecap="round" fill="none"/>
<path d="M0.7 37.1h0M5.4 36.3h0M0.0 38.7h0M18.9 25.4h0M26.1 21.3h0M29.4 33.2h0M39.3 28.3h0M44.0 42.5h0M20.4 36.8h0M47.7 37.0h0M49.0 28.4h0M57.7 22.4h0M55.5 22.2h0M48.7 19.1h0M62.0 38.8h0M52.0 18.9h0M52.6 28.9h0M51.8 32.5h0M75.6 4.2h0M70.1 4.1h0M81.2 16.0h0M79.9 8.2h0M78.5 29.7h0M83.0 36.9h0M101.4 17.1h0M90.5 13.8h0M103.2 5.1h0M102.7 16.8h0M100.2 15.4h0M126.1 5.9h0M110.3 10.7h0M117.6 13.8h0M103.0 8.9h0M109.2 8.1h0M108.5 30.0h0M114.9 36.7h0M104.8 38.8h0M120.4 31.8h0M107.9 34.1h0M120.7 30.8h0M97.5 35.8h0M59.1 42.9h0M25.8 16.3h0M20.9 15.8h0" stroke="#806860" stroke-opacity="0.75" stroke-width="0.8" stroke-linecap="round" fill="none"/>
<path d="M3.4 28.9h0M4.6 12.6h0M3.3 36.8h0M24.8 9.5h0M33.7 8.0h0M31.9 9.3h0M33.3 8.1h0M21.3 21.3h0M20.5 28.0h0M19.7 24.3h0M20.2 26.5h0M25.7 23.8h0M28.4 36.0h0M29.2 34.1h0M16.5 43.8h0M33.7 32.0h0M34.8 33.5h0M31.0 41.6h0M31.7 44.1h0M29.1 36.5h0M35.4 34.7h0M27.1 33.5h0M33.8 38.3h0M55.4 11.8h0M43.0 27.0h0M50.9 28.5h0M48.1 29.3h0M49.8 22.5h0M52.9 29.5h0M61.1 20.8h0M58.1 41.1h0M56.7 22.5h0M48.8 29.1h0M50.8 35.8h0M58.4 40.1h0M45.4 21.8h0M50.5 31.1h0M51.4 45.6h0M55.1 45.8h0M72.0 5.9h0M82.2 11.9h0M82.3 9.8h0M83.2 40.1h0M81.7 36.7h0M84.9 37.5h0M78.7 33.8h0M83.9 30.0h0M83.4 36.0h0M77.4 41.4h0M80.5 38.6h0M101.5 16.4h0M107.3 5.6h0M111.9 23.3h0M97.8 6.4h0M96.3 11.0h0M90.9 17.2h0M84.7 20.7h0M101.7 13.6h0M101.4 17.2h0M106.3 5.6h0M120.5 11.6h0M101.3 16.1h0M95.4 19.9h0M107.5 19.5h0M95.9 18.7h0M103.5 9.6h0M110.0 14.7h0M115.7 17.7h0M125.1 18.3h0M127.6 16.9h0M109.8 13.8h0M128.6 9.5h0M126.0 8.5h0M121.7 10.7h0M113.4 17.4h0M114.1 9.2h0M119.5 12.1h0M105.8 35.3h0M99.8 42.2h0M99.3 36.2h0M117.1 33.3h0M109.2 38.9h0M116.3 28.9h0M102.4 31.8h0M127.0 37.2h0M111.5 29.4h0M96.5 38.3h0M107.4 32.6h0M104.6 21.2h0M102.5 31.3h0M109.5 28.6h0M104.2 29.1h0M95.0 32.0h0M94.6 37.0h0M128.8 35.3h0M108.9 39.4h0M105.0 32.0h0M103.4 35.1h0M124.4 38.3h0M54.5 44.5h0M48.4 43.1h0M54.8 41.4h0M58.8 39.1h0M54.6 38.6h0M56.0 40.9h0M60.8 42.2h0M60.4 41.6h0M71.1 42.3h0M56.1 43.7h0M23.4 15.3h0M26.4 14.8h0M22.7 17.5h0M20.2 15.2h0M12.6 16.3h0M12.4 13.6h0" stroke="#907a74" stroke-opacity="0.5" stroke-width="1.2" stroke-linecap="round" fill="none"/>
<path d="M0.1 28.3h0M26.5 23.9h0M20.2 24.0h0M17.1 26.7h0M20.5 38.5h0M30.3 34.8h0M20.0 28.6h0M37.9 39.0h0M33.0 38.8h0M27.9 42.5h0M29.2 48.5h0M57.8 17.0h0M54.4 24.6h0M55.6 19.8h0M61.2 27.6h0M56.2 36.2h0M51.3 20.1h0M44.4 34.9h0M51.8 30.0h0M77.9 3.9h0M85.5 8.9h0M85.5 26.4h0M80.8 42.3h0M80.6 35.0h0M100.3 14.6h0M98.1 8.7h0M111.2 17.3h0M120.9 17.7h0M128.0 9.8h0M116.0 7.4h0M117.7 31.6h0M104.2 32.8h0M117.9 36.9h0M98.8 34.5h0M117.5 31.0h0M95.7 35.1h0M58.5 39.8h0M27.6 15.4h0" stroke="#7a6058" stroke-opacity="0.75" stroke-width="0.8" stroke-linecap="round" fill="none"/>
<path d="M1.2 39.2h0M1.3 31.1h0M2.1 25.6h0M1.3 29.5h0M-3.1 27.3h0M0.8 34.7h0M34.1 5.7h0M32.7 5.9h0M26.7 6.3h0M37.0 12.2h0M25.8 5.3h0M18.0 22.5h0M20.3 23.3h0M24.4 24.5h0M20.7 23.2h0M27.6 29.1h0M28.8 40.5h0M18.8 39.6h0M23.0 41.6h0M30.4 41.9h0M29.8 35.1h0M27.5 29.4h0M18.9 42.3h0M14.7 40.4h0M28.3 36.7h0M29.6 31.9h0M20.0 35.8h0M28.4 38.7h0M30.4 41.4h0M20.6 28.7h0M13.3 35.1h0M30.7 32.5h0M9.8 46.6h0M50.1 19.8h0M53.2 30.0h0M57.3 29.5h0M57.7 35.2h0M48.7 32.6h0M55.3 31.4h0M58.5 16.9h0M62.7 23.0h0M66.8 28.2h0M59.1 34.7h0M52.6 21.6h0M55.7 25.2h0M49.3 24.1h0M55.5 17.8h0M46.0 40.7h0M60.3 22.8h0M63.6 20.6h0M64.8 24.1h0M38.5 19.4h0M70.2 6.4h0M81.3 11.0h0M76.9 28.0h0M78.7 33.3h0M80.8 34.7h0M79.4 27.8h0M80.5 45.8h0M83.0 34.5h0M82.5 17.8h0M81.5 27.1h0M84.2 18.1h0M100.6 20.8h0M92.3 11.8h0M83.8 16.8h0M103.2 18.9h0M98.4 11.6h0M96.5 13.4h0M100.1 18.1h0M109.0 24.2h0M99.0 16.6h0M104.3 13.4h0M100.6 12.0h0M115.2 7.9h0M100.8 14.2h0M95.6 17.2h0M108.0 14.4h0M111.8 17.5h0M103.9 15.6h0M94.6 25.7h0M101.3 14.6h0M98.0 17.4h0M119.1 17.9h0M96.5 14.7h0M116.9 13.3h0M123.3 13.3h0M118.0 6.5h0M127.1 12.5h0M120.6 -0.2h0M127.7 2.2h0M128.0 22.3h0M115.8 14.6h0M123.7 12.6h0M108.8 17.7h0M110.0 18.3h0M107.3 10.5h0M119.7 13.6h0M115.1 9.1h0M114.7 10.5h0M112.2 10.7h0M115.8 3.7h0M114.1 4.5h0M110.4 14.5h0M124.9 11.4h0M113.3 2.0h0M113.0 12.5h0M103.8 34.8h0M118.3 28.7h0M109.5 34.8h0M107.4 31.1h0M118.8 29.4h0M113.3 31.8h0M96.9 22.9h0M127.0 37.0h0M106.6 42.3h0M125.2 42.2h0M103.8 32.7h0M120.0 35.8h0M105.0 30.8h0M107.7 33.3h0M102.9 32.3h0M106.4 33.8h0M94.0 30.4h0M120.8 41.0h0M110.9 31.9h0M104.1 33.7h0M62.4 41.5h0M66.6 42.2h0M73.1 43.2h0M54.6 40.8h0M70.9 40.5h0M53.4 41.1h0M55.2 41.7h0M59.6 43.1h0M64.0 39.8h0M68.2 42.3h0M60.3 41.5h0" stroke="#7a6470" stroke-opacity="0.5" stroke-width="1.2" stroke-linecap="round" fill="none"/>
<path d="M1.6 41.2h0M4.8 20.2h0M35.4 8.9h0M40.2 7.0h0M23.5 36.9h0M27.9 35.6h0M21.3 31.3h0M25.2 43.1h0M64.8 6.6h0M48.5 31.0h0M53.7 26.1h0M53.1 21.7h0M51.0 36.7h0M47.6 32.1h0M67.7 8.3h0M85.4 34.5h0M81.8 22.7h0M82.6 21.9h0M90.3 17.6h0M92.5 19.6h0M101.3 13.3h0M116.3 19.4h0M116.8 9.0h0M113.8 10.5h0M118.2 16.7h0M125.2 34.3h0M100.3 35.8h0M117.3 29.3h0M125.7 27.7h0M59.5 41.1h0M66.0 42.8h0M20.2 15.2h0" stroke="#6c5450" stroke-opacity="0.75" stroke-width="1.2" stroke-linecap="round" fill="none"/>
<path d="M5.3 31.4h0M0.3 32.3h0M17.0 19.7h0M27.1 28.9h0M21.2 16.1h0M14.5 28.6h0M31.3 36.8h0M40.0 42.0h0M18.3 41.0h0M26.3 35.0h0M28.6 45.9h0M19.5 36.7h0M27.1 40.7h0M21.6 35.4h0M37.4 41.5h0M30.7 40.4h0M22.9 36.3h0M10.9 39.8h0M36.0 36.8h0M39.9 34.3h0M56.6 35.4h0M48.0 46.6h0M66.4 23.5h0M44.2 31.2h0M52.5 24.9h0M57.1 39.2h0M66.9 5.4h0M80.6 11.0h0M82.3 35.2h0M82.9 38.0h0M82.7 35.2h0M95.1 21.6h0M90.2 10.7h0M101.2 14.4h0M88.0 13.0h0M98.8 21.0h0M120.7 17.0h0M119.9 10.9h0M106.1 8.8h0M117.6 5.8h0M114.2 2.0h0M114.3 2.4h0M123.7 7.6h0M103.5 41.3h0M118.7 35.9h0M102.7 39.2h0M111.5 35.1h0M123.7 37.8h0M108.7 35.9h0M120.3 32.4h0M109.6 26.2h0M58.1 41.4h0M54.8 45.0h0M23.9 15.7h0" stroke="#7a6058" stroke-opacity="0.75" stroke-width="1.2" stroke-linecap="round" fill="none"/>
<path d="M2.5 43.5h0M1.6 17.3h0M2.2 32.3h0M2.4 33.4h0M27.4 3.5h0M31.4 6.2h0M34.4 5.4h0M35.9 6.7h0M23.6 21.9h0M22.9 20.7h0M27.9 28.2h0M24.5 23.6h0M19.1 16.3h0M33.6 25.3h0M24.4 23.0h0M32.7 40.9h0M27.4 39.0h0M30.2 37.8h0M21.9 37.9h0M45.1 40.9h0M25.4 49.8h0M20.5 36.5h0M32.4 40.2h0M33.0 36.5h0M19.9 44.2h0M24.6 43.7h0M31.8 39.8h0M27.6 35.2h0M12.5 39.3h0M36.8 26.7h0M15.2 35.0h0M35.4 30.7h0M54.9 30.4h0M50.6 19.7h0M61.7 27.1h0M58.2 28.0h0M55.7 33.3h0M60.0 18.9h0M52.4 19.8h0M60.0 32.0h0M52.2 22.8h0M56.9 28.6h0M53.8 23.5h0M54.6 37.3h0M43.8 24.8h0M49.8 23.8h0M48.7 33.1h0M57.8 33.5h0M56.2 25.6h0M40.9 17.9h0M73.2 5.8h0M72.2 7.1h0M66.4 4.7h0M69.3 9.3h0M73.4 3.8h0M67.2 5.7h0M68.5 3.8h0M78.8 -0.5h0M82.8 6.4h0M79.6 7.6h0M82.1 27.7h0M81.1 45.3h0M76.9 37.1h0M83.7 13.0h0M88.4 34.0h0M79.1 34.4h0M85.3 35.5h0M78.2 33.5h0M82.6 24.1h0M82.3 31.0h0M79.5 27.0h0M77.7 41.7h0M79.6 19.2h0M99.5 13.5h0M102.6 6.8h0M100.6 14.9h0M106.9 15.5h0M93.5 11.5h0M98.4 19.1h0M108.5 10.0h0M95.8 23.0h0M111.3 14.7h0M100.3 16.1h0M97.1 5.6h0M99.6 15.9h0M97.6 10.5h0M85.9 11.3h0M114.9 16.7h0M96.4 12.1h0M85.3 16.3h0M106.7 7.7h0M99.0 22.7h0M96.8 6.0h0M116.6 8.4h0M116.0 12.8h0M122.2 23.5h0M120.4 18.1h0M118.5 19.5h0M119.4 13.4h0M107.9 12.8h0M110.5 23.9h0M110.6 11.6h0M114.3 11.8h0M114.6 11.6h0M114.9 18.6h0M112.5 6.7h0M125.0 16.0h0M111.4 13.4h0M117.5 5.5h0M118.2 5.7h0M120.8 11.0h0M113.9 11.9h0M121.4 10.9h0M118.8 8.2h0M119.1 6.7h0M110.6 18.1h0M118.7 14.2h0M125.4 7.6h0M108.6 30.2h0M102.6 29.2h0M108.0 37.6h0M106.7 30.9h0M129.6 36.9h0M107.9 32.9h0M116.7 35.8h0M86.8 28.2h0M127.3 33.3h0M108.3 28.3h0M117.9 34.6h0M107.7 26.9h0M105.5 38.0h0M103.7 39.8h0M107.2 35.6h0M111.5 36.8h0M124.2 33.4h0M105.0 25.5h0M105.9 29.5h0M117.2 27.8h0M98.5 35.4h0M104.3 36.1h0M127.7 29.4h0M97.1 31.3h0M100.8 35.0h0M129.5 34.3h0M69.7 44.2h0M51.8 40.9h0M64.1 44.9h0M63.9 40.9h0M17.1 15.0h0M24.6 15.9h0" stroke="#7a6058" stroke-opacity="0.5" stroke-width="0.8" stroke-linecap="round" fill="none"/>
<path d="M1.7 44.6h0M2.4 50.6h0M4.4 37.7h0M38.3 8.8h0M23.6 21.5h0M22.7 27.1h0M33.7 32.0h0M28.4 26.0h0M27.9 37.4h0M31.6 34.7h0M32.0 40.2h0M62.2 28.8h0M60.8 40.5h0M58.5 25.6h0M57.2 20.1h0M60.5 15.8h0M57.2 31.6h0M67.3 5.0h0M83.7 6.2h0M78.0 6.0h0M81.8 43.1h0M86.5 41.9h0M73.5 43.3h0M104.5 19.1h0M94.0 16.0h0M101.3 13.7h0M91.4 16.3h0M109.6 20.8h0M99.7 14.4h0M85.7 10.8h0M91.7 12.0h0M101.6 10.2h0M97.9 16.4h0M107.9 8.1h0M98.9 15.9h0M116.8 11.4h0M111.4 14.1h0M119.0 13.0h0M118.4 16.0h0M113.9 26.8h0M107.2 32.9h0M120.5 41.8h0M126.4 32.0h0M119.6 29.3h0M108.2 33.7h0M60.6 39.6h0M60.8 42.4h0" stroke="#7a6470" stroke-opacity="0.75" stroke-width="0.8" stroke-linecap="round" fill="none"/>
<path d="M3.8 30.7h0M0.8 39.8h0M28.2 9.8h0M25.5 20.1h0M26.6 30.4h0M38.9 37.0h0M59.6 24.7h0M55.2 31.9h0M56.8 26.3h0M62.0 15.1h0M55.5 45.5h0M61.3 15.4h0M57.0 29.3h0M58.6 37.5h0M79.2 7.0h0M77.6 32.3h0M80.6 25.3h0M75.3 27.1h0M76.6 36.9h0M82.9 30.2h0M100.2 19.0h0M94.8 24.6h0M100.8 21.9h0M97.4 13.7h0M74.9 8.3h0M122.8 10.7h0M114.2 8.0h0M118.4 10.6h0M119.0 8.5h0M98.3 38.1h0M116.6 34.6h0M114.8 31.9h0M116.3 32.8h0M105.2 35.7h0M109.8 30.6h0M95.3 30.1h0M108.4 32.6h0M55.5 44.1h0M49.7 41.6h0" stroke="#806860" stroke-opacity="0.75" stroke-width="1.2" stroke-linecap="round" fill="none"/>
<path d="M33.2 7.5h0M20.2 23.1h0M19.8 29.2h0M31.9 36.3h0M18.8 34.9h0M29.7 44.7h0M26.9 31.2h0M64.8 36.5h0M51.2 28.3h0M56.0 31.7h0M50.6 16.3h0M55.0 26.8h0M45.9 16.2h0M50.8 20.7h0M54.2 20.1h0M49.6 27.3h0M59.2 25.5h0M54.9 31.6h0M72.0 7.0h0M68.3 7.0h0M68.2 8.7h0M82.2 1.9h0M86.1 31.1h0M84.3 31.3h0M85.8 29.3h0M80.1 27.2h0M80.3 36.2h0M83.7 32.2h0M85.6 46.6h0M111.7 10.8h0M87.7 21.8h0M104.6 11.3h0M84.7 17.0h0M88.0 8.4h0M116.8 7.9h0M123.5 14.3h0M120.3 7.0h0M115.3 11.9h0M123.4 10.6h0M115.3 11.2h0M120.9 15.5h0M110.8 31.6h0M103.2 24.8h0M113.1 23.7h0M107.8 38.4h0M125.8 29.9h0M82.2 30.0h0M22.3 15.4h0" stroke="#7a6470" stroke-opacity="0.75" stroke-width="1.2" stroke-linecap="round" fill="none"/>
<path d="M27.7 26.5h0M34.3 36.3h0M25.8 41.2h0M22.7 31.4h0M34.5 42.5h0M27.3 41.8h0M53.9 31.3h0M49.7 18.2h0M58.6 30.7h0M59.9 31.2h0M61.0 39.3h0M52.9 16.0h0M45.7 24.7h0M83.4 12.3h0M82.1 4.1h0M81.4 47.7h0M76.8 32.7h0M83.4 33.2h0M81.5 35.8h0M78.6 31.2h0M83.4 34.7h0M80.6 40.3h0M81.6 35.5h0M81.6 23.9h0M81.6 40.3h0M86.5 26.6h0M87.4 35.5h0M85.6 14.0h0M82.2 11.5h0M103.7 17.7h0M93.7 19.6h0M101.0 12.9h0M91.9 18.5h0M93.8 16.0h0M106.9 14.6h0M102.5 9.4h0M103.2 15.7h0M116.4 7.0h0M128.1 17.1h0M108.9 10.5h0M109.4 16.2h0M107.9 12.9h0M116.1 24.9h0M98.0 38.9h0M112.5 35.4h0M87.7 29.3h0M94.7 32.5h0M128.1 27.9h0M104.0 34.3h0M100.2 30.4h0M56.5 42.4h0M17.4 14.2h0M15.9 16.0h0" stroke="#907a74" stroke-opacity="0.75" stroke-width="0.8" stroke-linecap="round" fill="none"/>
<path d="M110.3 40.4h0M104.5 25.1h0M100.3 38.9h0M119.4 18.0h0M24.2 37.2h0M28.3 41.4h0M76.1 40.1h0M5.8 24.6h0M36.0 30.8h0M35.9 39.7h0M87.5 17.7h0M75.2 16.6h0M82.8 3.1h0M103.4 37.9h0M39.0 41.4h0M114.3 5.3h0M72.4 39.9h0M56.6 9.7h0M101.4 25.9h0M121.1 41.7h0M118.3 20.7h0M36.1 7.3h0M33.3 10.7h0M46.5 3.1h0M69.7 4.2h0M3.2 21.9h0M122.7 17.8h0M52.3 34.6h0M28.6 21.1h0M125.1 16.5h0M49.0 38.2h0M122.8 25.7h0M44.4 12.3h0M69.9 9.8h0M37.6 18.0h0M123.1 24.2h0M66.0 23.6h0M23.4 11.6h0M35.9 4.6h0M57.1 28.1h0M100.3 30.3h0M46.8 12.0h0M124.5 7.8h0M117.6 5.0h0M123.1 15.8h0M27.2 3.2h0M78.3 38.9h0M33.9 38.8h0M50.5 5.9h0M27.4 27.8h0M63.5 35.9h0M36.3 19.6h0M92.9 30.3h0M42.7 28.2h0M117.4 24.3h0M84.1 22.4h0M102.9 25.3h0M22.6 19.7h0M54.6 13.3h0M72.5 7.1h0M89.7 10.9h0" stroke="#8a7a88" stroke-opacity="0.5" stroke-width="0.8" stroke-linecap="round" fill="none"/>
<path d="M20.3 22.3h0M53.8 24.7h0M29.5 4.0h0M17.2 23.9h0M18.8 26.9h0M50.0 18.9h0M38.0 10.7h0M28.2 20.1h0M122.7 32.0h0M44.4 41.4h0M34.7 34.0h0M27.0 18.7h0M110.5 13.5h0M0.2 7.7h0M114.8 35.9h0M39.7 11.7h0M68.2 11.7h0M122.8 35.7h0M65.5 27.1h0M41.3 27.4h0M82.1 32.4h0M85.3 18.5h0M50.6 25.0h0M72.4 7.6h0M69.3 13.6h0M54.7 30.3h0M83.8 27.1h0M38.6 22.9h0M4.8 22.0h0" stroke="#8a7a88" stroke-opacity="0.5" stroke-width="1.2" stroke-linecap="round" fill="none"/>
</g></svg>
<svg x="203" y="87.4" width="126.3" height="47.0" viewBox="0 0 126.3 47.0" overflow="hidden"><defs><filter id="hb1" x="0" y="0" width="1" height="1"><feGaussianBlur stdDeviation="0.35"/></filter></defs><g filter="url(#hb1)">
<rect width="126.3" height="47.0" fill="#aeb5d8"/>
<rect width="126.3" height="2.5" fill="#d4d8e7"/>
<rect y="44.5" width="126.3" height="2.5" fill="#cdd2e4"/>
<ellipse cx="6" cy="38" rx="8" ry="7" fill="#cfd3e5" opacity="0.85"/>
<ellipse cx="35" cy="6" rx="16" ry="4" fill="#cfd3e5" opacity="0.85"/>
<ellipse cx="20" cy="44" rx="15" ry="3" fill="#cfd3e5" opacity="0.85"/>
<ellipse cx="120" cy="8" rx="8" ry="4" fill="#cfd3e5" opacity="0.85"/>
<ellipse cx="8" cy="10" rx="6" ry="6" fill="#cfd3e5" opacity="0.85"/>
<ellipse cx="5" cy="22" rx="1.5" ry="3" fill="#a89098" opacity="0.6"/>
<ellipse cx="31" cy="36" rx="3" ry="1.5" fill="#a89098" opacity="0.5"/>
<path d="M9,30 L13,24" stroke="#4a4a98" stroke-width="1"/>
<path d="M52.0 27.3h0M10.8 13.9h0M1.3 7.2h0M24.6 23.0h0M28.8 22.7h0M38.4 14.7h0M18.2 31.1h0M102.2 18.6h0M30.5 30.1h0M22.0 12.0h0M91.2 11.8h0M23.4 33.1h0M46.4 40.6h0M13.4 16.9h0M41.9 9.4h0M52.5 8.0h0M19.1 34.0h0M37.9 30.5h0M80.0 41.3h0M65.1 21.1h0M40.1 14.1h0M26.6 43.0h0M112.5 27.7h0M51.3 33.9h0M38.3 6.9h0M49.2 6.0h0M76.6 9.0h0M17.8 24.7h0M28.0 32.2h0M10.0 44.1h0M111.5 8.3h0M27.8 24.9h0M97.7 13.2h0M25.3 10.2h0M46.8 14.6h0M2.7 29.1h0M90.2 2.7h0M115.3 44.7h0M53.7 25.6h0M62.4 13.2h0M67.7 40.2h0M46.3 35.0h0M40.8 32.6h0M79.8 11.2h0M73.3 28.7h0M14.1 10.6h0M91.8 35.4h0M63.0 5.4h0M40.7 10.3h0M5.1 17.6h0M73.8 18.6h0M101.3 24.7h0M84.5 6.7h0M14.4 30.6h0M16.8 18.1h0M48.4 12.2h0M34.0 33.0h0M64.6 9.9h0M88.5 13.0h0M105.1 18.3h0M21.3 19.8h0M121.6 6.0h0M51.7 15.9h0M63.2 27.6h0M115.6 9.7h0M99.6 9.6h0M43.9 27.6h0M58.7 17.3h0M10.3 36.3h0M12.5 24.4h0M123.8 22.1h0M10.2 36.9h0M117.0 8.2h0M24.1 27.6h0M75.9 10.7h0M92.8 25.0h0M11.1 13.2h0M120.7 26.2h0M27.3 7.6h0M116.6 43.0h0M118.4 13.0h0M95.7 35.8h0M65.4 30.5h0M91.2 2.7h0M116.5 23.3h0M33.6 6.4h0M103.0 42.1h0M84.5 23.6h0M105.1 4.6h0M72.6 26.0h0M35.3 17.8h0M96.7 26.7h0M86.6 9.7h0M0.5 43.4h0M27.7 32.9h0M41.7 10.3h0M121.4 3.8h0M109.8 27.1h0M2.6 37.6h0M102.1 20.4h0M121.6 2.0h0M10.8 39.9h0M43.4 27.4h0M8.7 10.1h0M89.0 30.1h0M24.8 3.1h0M69.3 15.9h0M30.5 44.1h0M9.2 32.7h0M103.7 44.0h0" stroke="#dde1ef" stroke-opacity="0.75" stroke-width="1.6" stroke-linecap="round" fill="none"/>
<path d="M17.4 36.6h0M66.4 31.7h0M119.7 18.5h0M98.0 5.0h0M56.5 26.6h0M90.9 43.4h0M1.1 25.1h0M123.0 21.6h0M6.8 27.6h0M96.7 6.4h0M20.2 41.3h0M88.5 12.9h0M101.8 21.3h0M94.5 24.4h0M25.5 10.9h0M95.4 21.0h0M112.8 19.9h0M6.1 9.4h0M6.3 42.8h0M93.9 33.3h0M9.3 3.0h0M41.1 12.9h0M101.5 7.3h0M113.9 5.3h0M107.0 36.1h0M26.8 3.8h0M65.7 36.8h0M86.8 41.9h0M48.2 14.7h0M99.3 25.8h0M122.5 5.8h0M18.4 12.8h0M31.3 18.6h0M15.2 42.1h0M81.8 28.6h0M9.9 41.3h0M100.5 19.6h0M57.7 38.7h0M8.8 40.8h0M30.9 27.2h0M28.7 44.9h0M17.0 44.0h0M12.0 39.4h0M71.2 32.6h0M92.7 41.3h0M96.5 35.0h0M93.9 15.9h0M50.7 27.9h0M45.2 35.0h0M119.3 35.0h0M89.0 19.3h0M23.3 42.7h0M119.7 31.4h0M89.9 22.4h0M42.6 36.2h0M45.8 29.1h0M102.1 8.0h0M81.9 17.0h0M40.3 42.2h0M84.2 3.2h0M21.9 4.8h0M53.6 7.0h0M59.6 36.7h0M71.0 44.1h0M53.3 40.1h0M27.9 16.8h0M87.9 17.6h0M36.7 43.2h0M36.0 11.1h0M25.3 7.5h0M104.1 2.8h0M5.7 5.9h0M6.6 14.2h0M60.0 10.6h0M125.8 8.9h0M98.2 14.6h0M48.5 14.0h0M59.9 24.2h0M124.8 4.3h0M102.4 10.2h0M38.6 26.6h0M27.5 30.8h0M64.4 21.4h0M113.7 28.1h0M92.6 33.2h0M63.6 29.4h0M62.8 29.1h0M103.0 17.0h0M115.8 29.3h0M123.7 38.2h0M58.1 36.2h0M53.0 6.9h0M38.5 23.3h0" stroke="#e4e7f2" stroke-opacity="0.75" stroke-width="1.6" stroke-linecap="round" fill="none"/>
<path d="M89.2 21.2h0M84.3 14.8h0M68.8 35.5h0M28.1 31.0h0M80.9 6.6h0M96.4 17.8h0M117.7 38.1h0M10.9 8.0h0M16.3 20.7h0M81.1 7.9h0M2.0 34.8h0M119.8 10.3h0M88.9 8.1h0M70.2 7.0h0M76.0 43.8h0M61.0 23.6h0M119.5 3.8h0M90.2 19.6h0M122.7 10.2h0M23.1 17.6h0M97.2 10.8h0M95.9 25.2h0M55.7 5.1h0M31.5 40.2h0M40.5 4.3h0M118.7 17.2h0M101.5 40.6h0M89.7 2.3h0M117.7 6.2h0M38.0 44.0h0M103.4 42.6h0M36.4 21.6h0M11.6 39.8h0M72.5 28.6h0M80.3 11.7h0M125.6 31.8h0M36.6 37.9h0M35.3 43.1h0M95.1 19.8h0M39.4 6.1h0M11.1 39.4h0M50.4 32.6h0M85.0 43.7h0M106.2 38.3h0M89.0 7.3h0M117.6 33.2h0M19.2 32.8h0M31.4 41.3h0M103.4 30.9h0M23.8 18.5h0M122.1 2.3h0M27.5 37.1h0M113.2 22.5h0M89.7 17.8h0M102.2 33.5h0M107.5 41.0h0M36.8 10.9h0M89.0 37.9h0M119.9 29.0h0M21.0 36.6h0M25.5 28.3h0M54.6 4.6h0M11.6 30.7h0M16.3 22.0h0M79.3 19.2h0M21.5 32.1h0M88.2 32.4h0M3.9 2.3h0M80.9 44.7h0M83.7 39.9h0M48.6 32.0h0M79.9 19.4h0M67.8 38.2h0M57.4 12.9h0M15.4 40.6h0M9.9 12.0h0M58.0 9.2h0M12.2 18.6h0M87.1 8.3h0M23.9 33.2h0M2.5 31.7h0M10.7 29.0h0M106.7 42.4h0M49.4 22.7h0M117.9 20.6h0M55.3 26.6h0M59.9 14.0h0M15.0 37.9h0M108.2 20.1h0M116.5 19.8h0M76.6 9.5h0M26.8 3.5h0M84.3 18.9h0M47.3 28.8h0M93.6 11.2h0M35.1 42.6h0M89.1 21.8h0" stroke="#d6dbec" stroke-opacity="0.75" stroke-width="1.2" stroke-linecap="round" fill="none"/>
<path d="M50.6 40.2h0M113.2 41.3h0M49.8 4.3h0M69.6 23.6h0M98.9 19.4h0M53.3 44.2h0M64.7 40.0h0M72.8 26.7h0M67.0 9.6h0M29.3 18.0h0M73.0 33.4h0M112.5 30.5h0M23.6 5.7h0M101.4 35.7h0M95.9 5.4h0M41.1 28.6h0M82.9 26.2h0M52.7 18.5h0M33.6 20.0h0M78.2 22.0h0M104.8 3.3h0M62.8 14.1h0M87.4 3.6h0M1.5 11.4h0M14.4 27.3h0M56.9 36.9h0M92.9 38.9h0M69.8 22.9h0M62.6 16.5h0M111.1 6.4h0M29.0 23.7h0M27.7 32.2h0M57.4 8.0h0M86.3 4.5h0M72.4 23.7h0M78.0 29.7h0M14.6 7.8h0M89.1 32.7h0M7.5 19.8h0M108.4 34.7h0M14.1 26.6h0M118.9 9.7h0M35.1 25.4h0M92.6 12.9h0M78.4 40.2h0M41.4 7.4h0M59.2 34.2h0M107.3 14.7h0M114.7 19.3h0M29.3 4.6h0M57.7 41.0h0M90.0 15.8h0M48.0 31.6h0M12.7 40.6h0M48.7 19.3h0M42.4 16.8h0M100.7 23.8h0M86.2 36.9h0M53.6 7.6h0M113.5 2.7h0M78.7 42.5h0M26.4 43.9h0M55.8 42.7h0M43.0 8.2h0M81.6 27.1h0M35.3 33.9h0M63.5 41.7h0M29.0 28.8h0M30.4 41.8h0M38.5 2.5h0" stroke="#dde1ef" stroke-opacity="0.75" stroke-width="1.2" stroke-linecap="round" fill="none"/>
<path d="M10.0 18.7h0M40.3 11.8h0M50.4 35.7h0M82.5 45.0h0M94.0 35.9h0M17.8 3.8h0M99.7 33.6h0M120.8 5.4h0M123.8 40.9h0M100.7 43.5h0M57.8 23.7h0M20.4 18.5h0M93.0 29.7h0M105.3 10.3h0M57.0 30.3h0M91.2 24.5h0M112.8 24.8h0M31.3 11.7h0M26.2 25.1h0M110.1 10.4h0M113.2 27.1h0M44.8 5.1h0M21.1 10.5h0M87.2 38.0h0M40.7 27.2h0M125.6 23.9h0M62.6 18.8h0M0.4 34.4h0M19.3 10.8h0M7.2 6.5h0M92.3 25.3h0M5.7 37.7h0M123.2 2.6h0M125.0 8.1h0M106.9 44.9h0M16.0 27.0h0M68.4 19.2h0M109.9 4.8h0M103.0 36.8h0M19.1 23.1h0M45.8 21.1h0M74.7 13.5h0M73.0 22.0h0M72.6 16.7h0M58.8 19.9h0M60.0 20.4h0M9.1 37.9h0M84.5 37.8h0M110.5 30.2h0M52.8 25.5h0M46.5 19.8h0M86.5 36.3h0M26.5 43.6h0M1.7 24.3h0M87.7 34.2h0M29.4 32.4h0M92.8 8.7h0M110.2 37.4h0M103.4 5.1h0M65.8 42.0h0M116.8 37.3h0M53.5 29.8h0M22.9 30.2h0M119.4 6.8h0M43.3 8.6h0M65.8 29.3h0M88.9 3.5h0M81.1 5.7h0M77.0 43.4h0M111.6 44.7h0M98.6 3.9h0M31.3 34.4h0M23.0 31.2h0M110.2 41.9h0M66.4 23.1h0M29.5 2.8h0M52.9 24.3h0M103.5 20.8h0M117.7 10.3h0M32.6 31.9h0M87.4 9.1h0M40.8 36.0h0M92.3 18.3h0M63.0 6.8h0M61.2 12.5h0M104.7 44.2h0M22.7 20.3h0M40.3 43.0h0M97.7 35.8h0M121.1 32.7h0M28.1 8.3h0M54.4 43.1h0M51.6 2.2h0" stroke="#d6dbec" stroke-opacity="0.75" stroke-width="1.6" stroke-linecap="round" fill="none"/>
<path d="M10.9 14.3h0M43.4 3.8h0M110.9 15.4h0M93.5 31.3h0M14.7 14.9h0M57.2 44.5h0M83.3 20.7h0M46.3 33.0h0M65.2 18.7h0M88.2 32.8h0M120.0 6.1h0M104.4 10.1h0M107.0 18.6h0M90.1 40.4h0M94.5 40.1h0M91.4 32.9h0M22.5 2.9h0M125.9 14.9h0M28.3 23.6h0M18.0 12.7h0M103.9 15.7h0M46.0 35.9h0M68.8 29.3h0M4.5 21.0h0M20.9 5.9h0M93.9 25.4h0M38.5 34.9h0M100.9 31.5h0M85.5 18.4h0M37.1 20.0h0M58.1 2.6h0M99.7 19.6h0M32.1 16.2h0M115.5 15.6h0M114.1 9.4h0M14.1 5.1h0M52.0 44.1h0M80.0 44.1h0M16.4 40.1h0M88.8 24.7h0M64.5 23.3h0M58.3 20.2h0M16.3 35.3h0M62.9 37.0h0M117.8 20.3h0M6.6 31.1h0M74.9 25.5h0M73.7 20.3h0M27.2 41.8h0M80.4 15.6h0M74.5 3.7h0M61.4 39.3h0M106.3 8.7h0M0.2 8.8h0M76.7 40.0h0M30.3 38.6h0M119.8 15.4h0M83.8 24.3h0M42.9 27.5h0M123.8 9.5h0M7.9 16.1h0M78.9 14.3h0M40.3 2.5h0M89.8 3.4h0M88.6 31.9h0M102.6 22.5h0M9.3 33.3h0M119.2 11.8h0M120.0 5.5h0M104.7 21.8h0M61.6 37.2h0M102.3 31.5h0M12.7 44.5h0M94.6 12.1h0M39.3 42.1h0M74.9 23.6h0M29.6 44.5h0M68.3 14.9h0M9.0 12.5h0M41.8 14.0h0M11.5 27.4h0M5.3 12.4h0M17.2 38.2h0M22.5 19.7h0M56.4 5.3h0M79.3 16.7h0M27.2 24.8h0M41.0 30.3h0M28.1 15.3h0M48.3 11.9h0M89.6 11.5h0M111.4 27.7h0M48.2 32.9h0M68.9 42.0h0M0.9 42.1h0M52.7 35.6h0M63.7 19.7h0M114.2 40.1h0M81.3 39.7h0" stroke="#d0d5ea" stroke-opacity="0.75" stroke-width="1.2" stroke-linecap="round" fill="none"/>
<path d="M33.3 3.4h0M96.4 25.1h0M126.0 37.3h0M54.9 35.1h0M119.0 21.4h0M35.0 34.0h0M96.4 20.0h0M22.6 12.0h0M53.6 30.5h0M37.2 9.2h0M17.5 14.6h0M70.1 31.2h0M47.3 11.2h0M69.7 28.6h0M68.2 23.8h0M110.3 41.1h0M76.4 6.5h0M21.9 11.1h0M103.9 31.2h0M54.4 15.2h0M59.2 13.9h0M1.0 3.1h0M1.8 16.1h0M33.3 9.0h0M53.6 43.2h0M46.4 31.1h0M124.8 30.7h0M96.2 2.6h0M23.4 20.1h0M24.3 23.5h0M62.8 26.2h0M89.7 18.7h0M100.8 28.9h0M111.5 16.3h0M74.4 15.3h0M12.4 44.0h0M114.4 25.1h0M53.3 29.1h0M125.0 40.0h0M42.9 11.0h0M101.0 27.2h0M7.3 9.8h0M38.0 44.4h0M23.9 17.7h0M95.7 34.4h0M36.5 18.1h0M87.2 18.3h0M97.6 3.7h0M76.1 31.2h0M40.4 2.6h0M91.5 5.4h0M24.4 13.9h0M104.7 41.4h0M66.9 38.0h0M103.1 28.5h0M111.1 21.4h0M118.3 3.4h0M1.5 4.8h0M119.0 25.0h0M73.5 31.8h0M15.3 27.1h0M96.1 23.9h0M44.1 21.4h0M77.1 16.4h0M116.9 20.0h0M90.3 26.6h0M60.9 34.6h0M66.2 6.1h0M13.2 25.5h0M50.1 35.8h0M18.3 25.4h0M121.8 17.7h0M69.0 34.4h0M51.6 28.1h0M40.2 35.1h0M121.5 6.0h0M28.7 3.4h0M7.1 38.5h0M62.9 15.9h0M45.2 13.2h0M43.9 7.4h0M50.4 40.6h0M46.2 40.3h0M68.3 26.2h0M27.0 23.0h0M100.7 7.9h0M89.7 13.6h0M32.9 7.5h0M112.1 14.9h0M27.8 25.3h0M97.9 41.7h0M88.5 18.6h0M49.0 38.1h0" stroke="#7e88c0" stroke-opacity="0.75" stroke-width="1.6" stroke-linecap="round" fill="none"/>
<path d="M7.2 15.4h0M114.7 23.0h0M52.4 6.4h0M109.0 14.0h0M11.1 39.3h0M83.6 38.9h0M118.0 36.5h0M34.0 41.4h0M95.4 4.2h0M78.2 4.9h0M3.8 40.7h0M86.4 11.5h0M60.8 20.2h0M13.0 43.3h0M21.0 40.5h0M108.0 20.8h0M60.8 40.9h0M112.6 22.3h0M72.1 36.1h0M10.0 27.2h0M117.5 23.0h0M103.1 17.8h0M45.3 2.9h0M14.8 28.0h0M53.7 25.2h0M66.7 15.6h0M77.9 24.4h0M16.4 4.2h0M101.4 43.3h0M88.3 25.3h0M31.6 44.9h0M55.1 10.7h0M86.6 35.6h0M62.4 9.2h0M113.0 3.1h0M110.5 41.5h0M29.8 22.0h0M75.4 44.3h0M33.6 23.1h0M116.0 35.6h0M32.2 27.0h0M20.2 13.0h0M119.4 41.4h0M2.0 7.1h0M95.4 17.2h0M100.5 15.3h0M62.7 40.3h0M125.3 36.8h0M51.2 13.3h0M27.0 9.7h0M103.2 19.7h0M9.3 4.1h0M107.1 13.9h0M116.1 5.3h0M40.1 13.4h0M110.8 28.8h0M84.6 12.5h0M46.7 6.3h0M103.4 31.9h0M124.1 30.7h0M17.3 24.9h0M101.0 3.7h0M4.5 31.9h0M30.0 36.9h0M13.2 2.3h0M64.0 30.9h0M45.1 34.1h0M77.1 9.7h0M65.6 12.2h0M88.2 23.5h0M20.7 39.1h0M23.4 29.1h0M79.0 26.5h0M124.0 5.2h0M105.5 23.4h0M103.0 23.8h0M30.3 29.5h0M90.3 25.0h0M64.4 10.5h0M99.8 41.6h0M72.2 19.4h0" stroke="#d0d5ea" stroke-opacity="0.75" stroke-width="1.6" stroke-linecap="round" fill="none"/>
<path d="M78.2 17.2h0M45.4 31.7h0M16.1 12.4h0M27.9 3.6h0M92.4 16.6h0M119.1 34.1h0M50.4 16.7h0M89.2 18.6h0M51.3 33.0h0M36.0 9.3h0M70.0 10.1h0M33.5 32.9h0M58.5 37.0h0M44.1 23.5h0M99.7 34.7h0M8.5 31.1h0M85.2 16.3h0M115.4 24.9h0M93.6 43.7h0M40.7 22.4h0M85.7 27.1h0M30.4 22.1h0M109.0 41.5h0M43.1 42.7h0M102.0 6.8h0M80.3 25.4h0M20.2 24.1h0M52.2 24.5h0M119.0 32.2h0M48.1 38.8h0M93.4 32.3h0M33.2 12.1h0M44.0 25.6h0M25.1 39.3h0M90.2 16.7h0M68.3 5.8h0M52.3 37.0h0M70.1 25.5h0M19.0 15.5h0M80.2 41.4h0M28.6 30.7h0M36.7 42.7h0M24.5 35.9h0M11.4 24.6h0M59.0 39.6h0M58.0 20.4h0M3.4 8.3h0M17.6 7.6h0M16.2 24.7h0M54.7 25.9h0M46.8 33.5h0M76.0 11.1h0M39.3 10.6h0M97.6 7.2h0M124.9 40.1h0M94.8 14.4h0M48.5 24.4h0M125.6 23.4h0M52.9 5.8h0M58.8 35.4h0M35.0 22.5h0M104.8 4.2h0M94.6 11.6h0M47.9 20.7h0M52.7 14.0h0M78.4 20.3h0M98.8 20.4h0M109.8 25.4h0M34.4 4.5h0M125.9 13.3h0M66.3 40.4h0M91.9 14.5h0M48.6 16.5h0M44.8 24.1h0M29.8 36.3h0M74.9 8.7h0M9.5 13.6h0M54.9 7.5h0M107.9 13.3h0M112.8 45.0h0M34.2 2.3h0M84.9 13.2h0M7.6 9.5h0M113.2 13.7h0M30.3 8.7h0M112.9 34.0h0M100.3 31.9h0M49.6 40.9h0" stroke="#e4e7f2" stroke-opacity="0.75" stroke-width="1.2" stroke-linecap="round" fill="none"/>
<path d="M49.0 42.7h0M80.5 38.3h0M47.4 8.9h0M64.9 44.7h0M69.8 18.9h0M102.5 31.2h0M105.6 44.2h0M99.5 11.6h0M71.9 13.7h0M40.9 10.9h0M116.5 11.9h0M8.0 18.3h0M86.9 19.8h0M123.9 7.4h0M108.3 7.2h0M69.7 35.3h0M14.0 18.8h0M31.1 42.6h0M66.3 13.5h0M92.4 3.9h0M70.1 36.3h0M21.9 30.6h0M89.0 28.2h0M90.3 11.7h0M56.9 2.0h0M66.0 19.8h0M89.6 13.2h0M90.8 18.4h0M42.9 4.0h0M89.2 3.5h0M54.0 10.7h0M11.6 27.2h0M34.4 21.9h0M75.8 37.4h0M68.6 10.3h0M56.4 16.2h0M43.5 32.9h0M113.1 16.3h0M61.0 7.0h0M41.9 34.6h0M78.7 15.7h0M111.4 12.9h0M61.7 13.6h0M63.5 9.0h0M50.2 34.3h0M98.4 12.3h0M125.8 38.0h0M17.9 36.7h0M111.4 2.8h0M110.2 10.3h0M34.9 15.6h0M13.2 15.8h0M74.6 2.8h0M22.0 18.0h0M45.7 8.5h0M52.4 3.9h0M28.1 22.2h0M51.3 27.0h0M95.4 27.6h0M21.1 43.3h0M11.7 5.4h0M46.8 35.5h0M55.8 19.7h0M55.3 5.5h0M67.1 6.2h0M110.1 23.0h0M11.5 10.6h0M20.1 19.9h0M103.7 14.0h0M121.6 25.8h0M49.4 25.3h0M47.0 5.6h0M38.5 35.1h0M70.2 17.0h0M102.1 19.5h0M59.5 37.7h0M18.5 9.5h0M111.5 34.3h0M105.1 41.4h0M78.0 2.1h0M99.9 27.2h0M107.1 18.2h0M42.0 23.9h0M124.5 36.9h0M86.2 28.1h0M52.2 36.3h0M19.8 13.8h0M82.3 2.2h0M28.4 44.0h0M55.5 9.7h0M32.5 37.8h0M15.7 16.6h0M20.3 36.2h0M14.0 26.1h0" stroke="#8a94c6" stroke-opacity="0.75" stroke-width="1.2" stroke-linecap="round" fill="none"/>
<path d="M15.7 13.9h0M64.2 19.4h0M93.6 10.0h0M87.8 21.9h0M108.9 7.9h0M103.3 43.5h0M121.5 20.6h0M88.2 38.1h0M108.1 24.9h0M82.7 7.5h0M99.1 21.4h0M124.6 14.1h0M118.9 15.9h0M102.4 7.9h0M66.9 15.6h0M90.0 7.8h0M6.2 22.6h0M93.6 36.3h0M102.7 18.4h0M59.1 19.0h0M40.3 2.6h0M93.8 32.5h0M102.1 11.1h0M75.6 36.0h0M84.5 25.4h0M82.2 39.1h0M16.1 22.5h0M75.5 6.0h0M14.6 13.5h0M115.1 40.9h0M55.7 13.2h0M125.6 33.9h0M120.1 37.1h0M13.6 29.7h0M13.4 4.6h0M28.9 19.7h0M25.6 4.9h0M3.2 12.9h0M117.3 26.9h0M99.2 21.5h0M41.5 10.4h0M9.6 35.0h0M7.5 42.8h0M97.3 43.7h0M24.6 41.1h0M27.5 37.5h0M3.2 13.9h0M61.4 39.4h0M52.2 43.6h0M67.7 2.1h0M119.4 15.2h0M1.9 27.7h0M44.7 43.6h0M69.3 8.3h0M85.7 3.5h0M55.1 29.5h0M81.5 33.2h0M84.8 7.8h0M42.6 35.9h0M27.9 34.9h0M122.5 24.7h0M64.8 30.0h0M125.2 15.6h0M8.7 38.6h0M45.8 35.3h0M38.4 37.3h0M82.0 34.8h0M64.6 8.4h0M28.9 30.4h0M120.1 16.4h0M5.0 25.1h0M51.1 10.7h0" stroke="#8a94c6" stroke-opacity="0.75" stroke-width="1.6" stroke-linecap="round" fill="none"/>
<path d="M110.5 35.6h0M112.9 32.3h0M30.6 7.1h0M22.1 37.0h0M41.4 36.7h0M109.9 18.9h0M89.8 27.6h0M34.2 7.9h0M100.5 6.4h0M75.3 14.0h0M45.2 12.7h0M15.2 31.7h0M48.9 11.8h0M89.0 37.8h0M91.1 2.1h0" stroke="#8a94c6" stroke-opacity="0.75" stroke-width="2.0" stroke-linecap="round" fill="none"/>
<path d="M88.5 38.9h0M120.8 23.8h0M86.2 21.3h0M50.0 21.8h0M82.0 27.9h0M91.8 35.9h0M32.5 32.2h0M32.7 18.3h0M9.0 36.7h0M56.0 20.9h0M108.3 27.4h0M42.8 22.0h0M59.0 33.2h0M54.2 41.9h0M106.4 26.2h0M59.5 41.9h0M79.5 25.8h0M124.8 24.6h0M74.7 34.8h0M113.8 3.7h0" stroke="#7e88c0" stroke-opacity="0.75" stroke-width="2.0" stroke-linecap="round" fill="none"/>
<path d="M114.4 28.9h0M48.6 11.1h0M56.6 41.9h0M81.1 3.3h0M114.7 5.5h0M44.0 30.9h0M90.6 12.5h0M67.5 40.9h0M58.8 38.4h0M68.3 36.5h0M78.3 17.6h0M106.2 27.4h0M101.9 8.1h0M20.7 12.8h0M42.0 42.3h0M41.6 8.5h0M25.2 27.6h0M100.6 27.7h0M56.1 40.2h0M35.2 40.6h0M69.6 28.0h0M19.9 29.4h0M75.2 26.9h0M59.9 28.5h0M67.0 5.4h0M88.1 37.7h0M15.3 31.9h0M15.4 17.8h0M79.4 6.8h0M61.9 38.3h0M63.4 23.8h0M64.7 39.6h0M100.2 5.9h0M69.2 20.1h0M0.4 8.6h0M82.1 24.3h0M95.2 8.9h0M37.5 38.5h0M56.8 8.0h0M58.2 26.6h0M97.2 42.6h0M109.6 26.3h0M30.0 4.5h0M43.5 44.6h0M15.4 40.6h0M99.9 32.0h0M77.9 13.5h0M121.0 14.3h0M90.8 3.9h0M81.8 28.5h0M51.0 33.9h0M69.0 32.2h0M32.7 21.4h0M75.1 11.2h0M11.1 17.1h0M100.1 2.0h0M28.2 26.5h0M125.1 33.1h0M87.4 21.1h0M21.3 12.8h0M44.1 20.3h0M76.3 31.0h0M52.8 44.9h0M110.4 34.7h0M18.7 24.6h0M81.7 24.6h0M42.6 15.3h0M14.6 40.2h0M69.0 36.5h0M64.6 30.7h0M49.8 2.2h0M41.8 4.8h0M61.4 22.6h0M66.0 38.5h0M42.4 26.9h0M44.0 11.2h0M44.3 36.7h0M119.4 18.5h0M71.4 28.7h0M70.6 12.6h0M40.3 17.8h0" stroke="#7e88c0" stroke-opacity="0.75" stroke-width="1.2" stroke-linecap="round" fill="none"/>
<path d="M17.5 44.0h0M125.1 41.1h0M21.6 40.8h0M62.7 5.6h0M11.5 4.6h0M88.0 39.3h0M4.3 36.2h0M120.9 12.2h0M88.3 38.9h0M78.3 23.8h0M89.1 42.0h0M125.5 4.5h0M23.6 14.5h0M56.4 6.6h0M16.3 10.5h0M86.2 30.3h0M25.6 37.5h0M3.3 18.8h0M112.6 14.9h0M62.4 38.5h0M119.2 4.5h0M119.1 27.7h0M62.6 30.1h0M96.1 22.6h0M40.4 23.6h0M7.2 24.6h0" stroke="#e4e7f2" stroke-opacity="0.75" stroke-width="2.0" stroke-linecap="round" fill="none"/>
<path d="M51.1 21.2h0M0.3 36.3h0M72.8 11.4h0M73.7 38.9h0M22.3 12.5h0M55.1 8.4h0M94.3 29.9h0M94.1 10.9h0M36.0 19.4h0M63.0 23.5h0M71.9 9.8h0M39.2 39.0h0M6.5 34.1h0M32.7 5.8h0M121.3 40.0h0M73.7 40.3h0M43.5 36.6h0M20.1 3.4h0M54.2 4.0h0" stroke="#d0d5ea" stroke-opacity="0.75" stroke-width="0.8" stroke-linecap="round" fill="none"/>
<path d="M43.4 16.0h0M119.5 42.7h0M69.1 42.7h0M1.1 22.0h0M37.0 8.2h0M11.6 40.7h0M35.7 31.3h0M104.6 24.3h0M18.6 41.9h0M54.1 27.3h0M85.7 43.6h0M64.3 38.6h0M109.7 11.0h0M118.2 43.6h0M101.7 34.0h0M0.1 42.2h0M36.0 40.5h0M60.6 17.1h0M11.2 41.3h0" stroke="#7e88c0" stroke-opacity="0.75" stroke-width="0.8" stroke-linecap="round" fill="none"/>
<path d="M125.0 30.5h0M37.0 25.2h0M52.5 30.3h0M101.4 29.6h0M85.4 23.7h0M61.4 22.0h0M77.4 24.2h0M62.2 17.4h0M23.9 45.0h0M122.2 22.6h0M39.2 44.5h0M46.0 9.6h0M63.1 36.2h0M11.9 8.6h0M6.0 33.1h0M96.0 12.7h0" stroke="#d0d5ea" stroke-opacity="0.75" stroke-width="2.0" stroke-linecap="round" fill="none"/>
<path d="M49.9 11.5h0M87.3 18.7h0M39.2 43.0h0M27.6 21.9h0M51.0 15.8h0M84.0 22.6h0M87.0 14.6h0M102.6 35.4h0M40.7 15.7h0M58.8 32.6h0M108.7 24.9h0M70.2 39.2h0M49.7 7.1h0M104.1 3.4h0M40.7 41.8h0M80.6 21.4h0M52.6 11.7h0M77.8 18.8h0M97.6 30.9h0M40.6 41.6h0M15.9 37.4h0" stroke="#d6dbec" stroke-opacity="0.75" stroke-width="0.8" stroke-linecap="round" fill="none"/>
<path d="M13.9 41.2h0M62.4 2.9h0M106.1 42.3h0M94.0 9.6h0M41.2 36.8h0M27.8 36.8h0M55.6 20.7h0M107.8 24.5h0M31.0 39.0h0M125.7 8.1h0M73.4 10.7h0M98.4 21.8h0M75.7 32.8h0M62.4 2.6h0M31.1 17.4h0M61.0 18.5h0M68.6 29.0h0M106.6 42.6h0" stroke="#8a94c6" stroke-opacity="0.75" stroke-width="0.8" stroke-linecap="round" fill="none"/>
<path d="M24.8 16.6h0M115.0 41.8h0M55.0 19.8h0M20.6 29.5h0M87.3 24.8h0M103.4 13.2h0M111.4 11.1h0M79.8 12.0h0M100.7 26.6h0M82.9 4.0h0M51.2 23.8h0M37.8 38.3h0M101.4 8.7h0M115.9 24.5h0M118.9 19.4h0M80.4 37.2h0M72.2 10.4h0M62.1 21.0h0M16.3 40.7h0M53.8 7.2h0M75.0 31.0h0M102.8 15.3h0" stroke="#d6dbec" stroke-opacity="0.75" stroke-width="2.0" stroke-linecap="round" fill="none"/>
<path d="M103.6 15.0h0M40.5 30.1h0M95.6 30.2h0M111.4 20.5h0M60.4 21.2h0M83.8 19.2h0M24.7 23.9h0M38.0 15.1h0M60.1 29.9h0M14.5 31.7h0M62.0 6.4h0M46.7 7.4h0M9.1 40.1h0M93.8 19.5h0M94.2 35.3h0M47.0 4.0h0M75.9 32.0h0M62.1 27.8h0M100.0 44.1h0M70.1 20.5h0" stroke="#e4e7f2" stroke-opacity="0.75" stroke-width="0.8" stroke-linecap="round" fill="none"/>
<path d="M79.7 9.3h0M89.3 11.6h0M44.5 37.4h0M21.1 23.3h0M92.1 27.1h0M81.9 12.7h0M97.5 11.9h0M115.8 28.0h0M52.1 32.7h0M48.9 37.3h0M69.9 37.9h0M6.4 44.5h0M25.2 26.7h0M76.0 29.5h0M57.3 21.1h0M84.9 13.2h0M0.5 21.1h0M94.4 39.3h0M49.3 9.8h0" stroke="#dde1ef" stroke-opacity="0.75" stroke-width="0.8" stroke-linecap="round" fill="none"/>
<path d="M59.8 15.9h0M118.4 14.7h0M126.3 18.3h0M93.5 32.6h0M107.5 29.5h0M2.5 33.4h0M87.5 16.4h0M111.3 4.1h0M117.8 19.2h0M89.6 31.5h0M70.2 12.6h0M5.3 34.9h0M88.7 36.7h0M120.8 9.9h0" stroke="#dde1ef" stroke-opacity="0.75" stroke-width="2.0" stroke-linecap="round" fill="none"/>
<path d="M113.0 27.0h0M17.6 34.4h0M125.5 33.9h0M124.2 35.1h0M34.3 34.7h0M60.0 41.2h0M83.8 36.3h0" stroke="#4a4a98" stroke-opacity="1.0" stroke-width="1.6" stroke-linecap="round" fill="none"/>
<path d="M38.1 9.7h0M119.1 9.5h0M113.8 10.8h0" stroke="#4a4a98" stroke-opacity="1.0" stroke-width="1.2" stroke-linecap="round" fill="none"/>
<path d="M81.1 12.0h0M97.4 26.5h0M67.8 29.2h0M15.2 30.8h0" stroke="#4a4a98" stroke-opacity="1.0" stroke-width="0.8" stroke-linecap="round" fill="none"/>
</g></svg>
<text x="344.8" y="17.1" font-size="11.2" font-weight="bold" fill="#000">C</text>
<line x1="381.70" y1="32.80" x2="381.70" y2="114.80" stroke="#000" stroke-width="1.2" />
<line x1="378.80" y1="35.50" x2="381.70" y2="35.50" stroke="#000" stroke-width="0.9" />
<text x="377.20" y="37.67" font-size="6.1" text-anchor="end" fill="#222">100</text>
<line x1="378.80" y1="45.35" x2="381.70" y2="45.35" stroke="#000" stroke-width="0.9" />
<text x="377.20" y="47.52" font-size="6.1" text-anchor="end" fill="#222">75</text>
<line x1="378.80" y1="55.20" x2="381.70" y2="55.20" stroke="#000" stroke-width="0.9" />
<text x="377.20" y="57.37" font-size="6.1" text-anchor="end" fill="#222">50</text>
<line x1="378.80" y1="65.05" x2="381.70" y2="65.05" stroke="#000" stroke-width="0.9" />
<text x="377.20" y="67.22" font-size="6.1" text-anchor="end" fill="#222">25</text>
<line x1="378.80" y1="74.90" x2="381.70" y2="74.90" stroke="#000" stroke-width="0.9" />
<text x="377.20" y="77.07" font-size="6.1" text-anchor="end" fill="#222">0</text>
<line x1="378.80" y1="84.75" x2="381.70" y2="84.75" stroke="#000" stroke-width="0.9" />
<text x="377.20" y="86.92" font-size="6.1" text-anchor="end" fill="#222">-25</text>
<line x1="378.80" y1="94.60" x2="381.70" y2="94.60" stroke="#000" stroke-width="0.9" />
<text x="377.20" y="96.77" font-size="6.1" text-anchor="end" fill="#222">-50</text>
<line x1="378.80" y1="104.45" x2="381.70" y2="104.45" stroke="#000" stroke-width="0.9" />
<text x="377.20" y="106.62" font-size="6.1" text-anchor="end" fill="#222">-75</text>
<line x1="378.80" y1="114.30" x2="381.70" y2="114.30" stroke="#000" stroke-width="0.9" />
<text x="377.20" y="116.47" font-size="6.1" text-anchor="end" fill="#222">-100</text>
<rect x="385.20" y="55.20" width="5.60" height="19.70" fill="#284a84" />
<line x1="388.00" y1="114.20" x2="388.00" y2="116.80" stroke="#000" stroke-width="0.9" />
<text x="388.00" y="125.17" font-size="6.1" text-anchor="middle" fill="#222">10</text>
<rect x="394.04" y="62.69" width="5.60" height="12.21" fill="#a80424" />
<line x1="396.84" y1="114.20" x2="396.84" y2="116.80" stroke="#000" stroke-width="0.9" />
<text x="396.84" y="125.17" font-size="6.1" text-anchor="middle" fill="#222">7</text>
<rect x="402.88" y="67.81" width="5.60" height="7.09" fill="#284a84" />
<line x1="405.68" y1="114.20" x2="405.68" y2="116.80" stroke="#000" stroke-width="0.9" />
<text x="405.68" y="125.17" font-size="6.1" text-anchor="middle" fill="#222">6</text>
<rect x="411.72" y="71.35" width="5.60" height="3.55" fill="#284a84" />
<line x1="414.52" y1="114.20" x2="414.52" y2="116.80" stroke="#000" stroke-width="0.9" />
<text x="414.52" y="125.17" font-size="6.1" text-anchor="middle" fill="#222">17</text>
<rect x="420.56" y="71.35" width="5.60" height="3.55" fill="#284a84" />
<line x1="423.36" y1="114.20" x2="423.36" y2="116.80" stroke="#000" stroke-width="0.9" />
<text x="423.36" y="125.17" font-size="6.1" text-anchor="middle" fill="#222">15</text>
<line x1="432.20" y1="114.20" x2="432.20" y2="116.80" stroke="#000" stroke-width="0.9" />
<text x="432.20" y="125.17" font-size="6.1" text-anchor="middle" fill="#222">2</text>
<line x1="441.04" y1="114.20" x2="441.04" y2="116.80" stroke="#000" stroke-width="0.9" />
<text x="441.04" y="125.17" font-size="6.1" text-anchor="middle" fill="#222">4</text>
<line x1="449.88" y1="114.20" x2="449.88" y2="116.80" stroke="#000" stroke-width="0.9" />
<text x="449.88" y="125.17" font-size="6.1" text-anchor="middle" fill="#222">5</text>
<line x1="458.72" y1="114.20" x2="458.72" y2="116.80" stroke="#000" stroke-width="0.9" />
<text x="458.72" y="125.17" font-size="6.1" text-anchor="middle" fill="#222">12</text>
<rect x="464.76" y="74.90" width="5.60" height="0.79" fill="#284a84" />
<line x1="467.56" y1="114.20" x2="467.56" y2="116.80" stroke="#000" stroke-width="0.9" />
<text x="467.56" y="125.17" font-size="6.1" text-anchor="middle" fill="#222">8</text>
<rect x="473.60" y="74.90" width="5.60" height="1.58" fill="#284a84" />
<line x1="476.40" y1="114.20" x2="476.40" y2="116.80" stroke="#000" stroke-width="0.9" />
<text x="476.40" y="125.17" font-size="6.1" text-anchor="middle" fill="#222">1</text>
<rect x="482.44" y="74.90" width="5.60" height="7.09" fill="#284a84" />
<line x1="485.24" y1="114.20" x2="485.24" y2="116.80" stroke="#000" stroke-width="0.9" />
<text x="485.24" y="125.17" font-size="6.1" text-anchor="middle" fill="#222">11</text>
<rect x="491.28" y="74.90" width="5.60" height="39.40" fill="#64a840" />
<line x1="494.08" y1="114.20" x2="494.08" y2="116.80" stroke="#000" stroke-width="0.9" />
<text x="494.08" y="125.17" font-size="6.1" text-anchor="middle" fill="#222">3</text>
<line x1="381.70" y1="74.90" x2="500.00" y2="74.90" stroke="#444" stroke-width="0.9" />
<line x1="381.10" y1="114.20" x2="500.00" y2="114.20" stroke="#000" stroke-width="1.2" />
<text x="441.10" y="138.30" font-size="9.0" font-weight="normal" text-anchor="middle" fill="#222" stroke="#222" stroke-width="0.16" textLength="39.1" lengthAdjust="spacingAndGlyphs">Patient number</text>
<text x="0" y="0" font-size="9.0" font-weight="normal" text-anchor="middle" fill="#222" stroke="#222" stroke-width="0.16" textLength="77.2" lengthAdjust="spacingAndGlyphs" transform="translate(359.80,74.40) rotate(-90)">Percent change from baseline</text>
<rect x="435.00" y="17.40" width="5.00" height="4.20" fill="#284a84" />
<text x="443.00" y="21.27" font-size="5.0" text-anchor="start" fill="#222">Stable disease</text>
<rect x="435.00" y="27.40" width="5.00" height="4.20" fill="#64a840" />
<text x="443.00" y="31.27" font-size="5.0" text-anchor="start" fill="#222">Complete response</text>
<rect x="435.00" y="37.40" width="5.00" height="4.20" fill="#a80424" />
<text x="443.00" y="41.27" font-size="5.0" text-anchor="start" fill="#222">Progressive disease</text>
<text x="7.5" y="164.4" font-size="11.2" font-weight="bold" fill="#000">D</text>
<line x1="51.60" y1="165.20" x2="51.60" y2="254.70" stroke="#000" stroke-width="1.2" />
<line x1="51.00" y1="254.10" x2="210.80" y2="254.10" stroke="#000" stroke-width="1.2" />
<line x1="49.00" y1="169.10" x2="51.60" y2="169.10" stroke="#000" stroke-width="0.9" />
<text x="45.00" y="171.27" font-size="6.1" text-anchor="end" fill="#222">1</text>
<rect x="52.10" y="166.80" width="123.44" height="4.60" fill="#284a84" />
<line x1="175.54" y1="169.10" x2="184.54" y2="169.10" stroke="#284a84" stroke-width="0.8" />
<path d="M183.54,167.60 L187.04,169.10 L183.54,170.60 Z" fill="#284a84"/>
<text x="191.04" y="171.05" font-size="5.5" text-anchor="start" fill="#222">21.0 mo</text>
<line x1="49.00" y1="175.85" x2="51.60" y2="175.85" stroke="#000" stroke-width="0.9" />
<text x="45.00" y="178.02" font-size="6.1" text-anchor="end" fill="#222">2</text>
<rect x="52.10" y="173.55" width="123.44" height="4.60" fill="#284a84" />
<line x1="175.54" y1="175.85" x2="184.54" y2="175.85" stroke="#284a84" stroke-width="0.8" />
<path d="M183.54,174.35 L187.04,175.85 L183.54,177.35 Z" fill="#284a84"/>
<text x="191.04" y="177.80" font-size="5.5" text-anchor="start" fill="#222">20.7 mo</text>
<line x1="49.00" y1="182.60" x2="51.60" y2="182.60" stroke="#000" stroke-width="0.9" />
<text x="45.00" y="184.77" font-size="6.1" text-anchor="end" fill="#222">4</text>
<rect x="52.10" y="180.30" width="123.44" height="4.60" fill="#284a84" />
<line x1="175.54" y1="182.60" x2="184.54" y2="182.60" stroke="#284a84" stroke-width="0.8" />
<path d="M183.54,181.10 L187.04,182.60 L183.54,184.10 Z" fill="#284a84"/>
<text x="191.04" y="184.55" font-size="5.5" text-anchor="start" fill="#222">20.5 mo</text>
<line x1="49.00" y1="189.35" x2="51.60" y2="189.35" stroke="#000" stroke-width="0.9" />
<text x="45.00" y="191.52" font-size="6.1" text-anchor="end" fill="#222">5</text>
<rect x="52.10" y="187.05" width="123.44" height="4.60" fill="#284a84" />
<line x1="175.54" y1="189.35" x2="184.54" y2="189.35" stroke="#284a84" stroke-width="0.8" />
<path d="M183.54,187.85 L187.04,189.35 L183.54,190.85 Z" fill="#284a84"/>
<text x="191.04" y="191.30" font-size="5.5" text-anchor="start" fill="#222">19.4 mo</text>
<line x1="49.00" y1="196.10" x2="51.60" y2="196.10" stroke="#000" stroke-width="0.9" />
<text x="45.00" y="198.27" font-size="6.1" text-anchor="end" fill="#222">6</text>
<rect x="52.10" y="193.80" width="123.44" height="4.60" fill="#284a84" />
<line x1="175.54" y1="196.10" x2="184.54" y2="196.10" stroke="#284a84" stroke-width="0.8" />
<path d="M183.54,194.60 L187.04,196.10 L183.54,197.60 Z" fill="#284a84"/>
<text x="191.04" y="198.05" font-size="5.5" text-anchor="start" fill="#222">15.6 mo</text>
<line x1="49.00" y1="202.85" x2="51.60" y2="202.85" stroke="#000" stroke-width="0.9" />
<text x="45.00" y="205.02" font-size="6.1" text-anchor="end" fill="#222">10</text>
<rect x="52.10" y="200.55" width="123.44" height="4.60" fill="#284a84" />
<text x="178.50" y="204.80" font-size="5.5" text-anchor="start" fill="#b8183c">PD 21.2 mo</text>
<line x1="49.00" y1="209.60" x2="51.60" y2="209.60" stroke="#000" stroke-width="0.9" />
<text x="45.00" y="211.77" font-size="6.1" text-anchor="end" fill="#222">15</text>
<rect x="52.10" y="207.30" width="123.44" height="4.60" fill="#284a84" />
<text x="178.50" y="211.55" font-size="5.5" text-anchor="start" fill="#b8183c">PD 3.4 mo</text>
<line x1="49.00" y1="216.35" x2="51.60" y2="216.35" stroke="#000" stroke-width="0.9" />
<text x="45.00" y="218.52" font-size="6.1" text-anchor="end" fill="#222">7</text>
<rect x="52.10" y="214.05" width="92.28" height="4.60" fill="#a80424" />
<line x1="49.00" y1="223.10" x2="51.60" y2="223.10" stroke="#000" stroke-width="0.9" />
<text x="45.00" y="225.27" font-size="6.1" text-anchor="end" fill="#222">8</text>
<rect x="52.10" y="220.80" width="61.12" height="4.60" fill="#284a84" />
<line x1="113.22" y1="223.10" x2="122.22" y2="223.10" stroke="#284a84" stroke-width="0.8" />
<path d="M121.22,221.60 L124.72,223.10 L121.22,224.60 Z" fill="#284a84"/>
<text x="127.52" y="225.05" font-size="5.5" text-anchor="start" fill="#222">11.2 mo</text>
<line x1="49.00" y1="229.85" x2="51.60" y2="229.85" stroke="#000" stroke-width="0.9" />
<text x="45.00" y="232.02" font-size="6.1" text-anchor="end" fill="#222">3</text>
<rect x="52.10" y="227.55" width="45.54" height="4.60" fill="#64a840" />
<line x1="97.64" y1="229.85" x2="106.64" y2="229.85" stroke="#64a840" stroke-width="0.8" />
<path d="M105.64,228.35 L109.14,229.85 L105.64,231.35 Z" fill="#64a840"/>
<text x="111.94" y="231.80" font-size="5.5" text-anchor="start" fill="#64a840">21.6 mo</text>
<line x1="49.00" y1="236.60" x2="51.60" y2="236.60" stroke="#000" stroke-width="0.9" />
<text x="45.00" y="238.77" font-size="6.1" text-anchor="end" fill="#222">12</text>
<rect x="52.10" y="234.30" width="45.54" height="4.60" fill="#284a84" />
<line x1="97.64" y1="236.60" x2="106.64" y2="236.60" stroke="#284a84" stroke-width="0.8" />
<path d="M105.64,235.10 L109.14,236.60 L105.64,238.10 Z" fill="#284a84"/>
<text x="111.94" y="238.55" font-size="5.5" text-anchor="start" fill="#222">21.0 mo</text>
<line x1="49.00" y1="243.35" x2="51.60" y2="243.35" stroke="#000" stroke-width="0.9" />
<text x="45.00" y="245.52" font-size="6.1" text-anchor="end" fill="#222">11</text>
<rect x="52.10" y="241.05" width="29.96" height="4.60" fill="#284a84" />
<line x1="82.06" y1="243.35" x2="91.06" y2="243.35" stroke="#284a84" stroke-width="0.8" />
<path d="M90.06,241.85 L93.56,243.35 L90.06,244.85 Z" fill="#284a84"/>
<text x="96.36" y="245.30" font-size="5.5" text-anchor="start" fill="#222">24.1 mo</text>
<line x1="49.00" y1="250.10" x2="51.60" y2="250.10" stroke="#000" stroke-width="0.9" />
<text x="45.00" y="252.27" font-size="6.1" text-anchor="end" fill="#222">17</text>
<rect x="52.10" y="247.80" width="29.96" height="4.60" fill="#284a84" />
<line x1="82.06" y1="250.10" x2="91.06" y2="250.10" stroke="#284a84" stroke-width="0.8" />
<path d="M90.06,248.60 L93.56,250.10 L90.06,251.60 Z" fill="#284a84"/>
<text x="96.36" y="252.05" font-size="5.5" text-anchor="start" fill="#222">14.4 mo</text>
<line x1="51.60" y1="254.10" x2="51.60" y2="256.70" stroke="#000" stroke-width="0.9" />
<text x="51.60" y="266.27" font-size="6.1" text-anchor="middle" fill="#222">0</text>
<line x1="67.18" y1="254.10" x2="67.18" y2="256.70" stroke="#000" stroke-width="0.9" />
<text x="67.18" y="266.27" font-size="6.1" text-anchor="middle" fill="#222">1</text>
<line x1="82.76" y1="254.10" x2="82.76" y2="256.70" stroke="#000" stroke-width="0.9" />
<text x="82.76" y="266.27" font-size="6.1" text-anchor="middle" fill="#222">2</text>
<line x1="98.34" y1="254.10" x2="98.34" y2="256.70" stroke="#000" stroke-width="0.9" />
<text x="98.34" y="266.27" font-size="6.1" text-anchor="middle" fill="#222">3</text>
<line x1="113.92" y1="254.10" x2="113.92" y2="256.70" stroke="#000" stroke-width="0.9" />
<text x="113.92" y="266.27" font-size="6.1" text-anchor="middle" fill="#222">4</text>
<line x1="129.50" y1="254.10" x2="129.50" y2="256.70" stroke="#000" stroke-width="0.9" />
<text x="129.50" y="266.27" font-size="6.1" text-anchor="middle" fill="#222">5</text>
<line x1="145.08" y1="254.10" x2="145.08" y2="256.70" stroke="#000" stroke-width="0.9" />
<text x="145.08" y="266.27" font-size="6.1" text-anchor="middle" fill="#222">6</text>
<line x1="160.66" y1="254.10" x2="160.66" y2="256.70" stroke="#000" stroke-width="0.9" />
<text x="160.66" y="266.27" font-size="6.1" text-anchor="middle" fill="#222">7</text>
<line x1="176.24" y1="254.10" x2="176.24" y2="256.70" stroke="#000" stroke-width="0.9" />
<text x="176.24" y="266.27" font-size="6.1" text-anchor="middle" fill="#222">8</text>
<line x1="191.82" y1="254.10" x2="191.82" y2="256.70" stroke="#000" stroke-width="0.9" />
<text x="191.82" y="266.27" font-size="6.1" text-anchor="middle" fill="#222">9</text>
<line x1="207.40" y1="254.10" x2="207.40" y2="256.70" stroke="#000" stroke-width="0.9" />
<text x="207.40" y="266.27" font-size="6.1" text-anchor="middle" fill="#222">10</text>
<text x="130.80" y="278.40" font-size="9.0" font-weight="normal" text-anchor="middle" fill="#222" stroke="#222" stroke-width="0.16" textLength="45.0" lengthAdjust="spacingAndGlyphs">Number of cycles</text>
<text x="0" y="0" font-size="9.0" font-weight="normal" text-anchor="middle" fill="#222" stroke="#222" stroke-width="0.16" textLength="39.4" lengthAdjust="spacingAndGlyphs" transform="translate(32.60,210.00) rotate(-90)">Patient number</text>
<text x="236.9" y="164.8" font-size="11.2" font-weight="bold" fill="#000">E</text>
<g class="ce">
<rect x="280.00" y="167.50" width="12.08" height="12.90" fill="#faeff0" />
<rect x="291.58" y="167.50" width="12.08" height="12.90" fill="#faeff0" />
<rect x="303.17" y="167.50" width="12.08" height="12.90" fill="#ffffff" />
<rect x="314.75" y="167.50" width="12.08" height="12.90" fill="#fcf5f6" />
<rect x="326.33" y="167.50" width="12.08" height="12.90" fill="#faeff0" />
<rect x="337.92" y="167.50" width="12.08" height="12.90" fill="#faeff0" />
<rect x="349.50" y="167.50" width="12.08" height="12.90" fill="#faeff0" />
<rect x="361.08" y="167.50" width="12.08" height="12.90" fill="#faeff0" />
<rect x="372.67" y="167.50" width="12.08" height="12.90" fill="#fcf5f6" />
<rect x="384.25" y="167.50" width="12.08" height="12.90" fill="#f5e1e2" />
<rect x="395.83" y="167.50" width="12.08" height="12.90" fill="#f5e1e2" />
<rect x="407.42" y="167.50" width="12.08" height="12.90" fill="#f7e7e7" />
<text x="276.30" y="175.94" font-size="6.3" text-anchor="end" fill="#222">CD137</text>
<rect x="280.00" y="179.90" width="12.08" height="12.90" fill="#f5e1e2" />
<rect x="291.58" y="179.90" width="12.08" height="12.90" fill="#e4a0a1" />
<rect x="303.17" y="179.90" width="12.08" height="12.90" fill="#e29396" />
<rect x="314.75" y="179.90" width="12.08" height="12.90" fill="#e4a0a1" />
<rect x="326.33" y="179.90" width="12.08" height="12.90" fill="#f5e1e2" />
<rect x="337.92" y="179.90" width="12.08" height="12.90" fill="#ecc0c2" />
<rect x="349.50" y="179.90" width="12.08" height="12.90" fill="#e4a0a1" />
<rect x="361.08" y="179.90" width="12.08" height="12.90" fill="#e4a0a1" />
<rect x="372.67" y="179.90" width="12.08" height="12.90" fill="#f9eded" />
<rect x="384.25" y="179.90" width="12.08" height="12.90" fill="#e9b3b5" />
<rect x="395.83" y="179.90" width="12.08" height="12.90" fill="#db6a6d" />
<rect x="407.42" y="179.90" width="12.08" height="12.90" fill="#e39b9d" />
<text x="276.30" y="188.34" font-size="6.3" text-anchor="end" fill="#222">PD-1</text>
<rect x="280.00" y="192.30" width="12.08" height="12.90" fill="#eab9ba" />
<rect x="291.58" y="192.30" width="12.08" height="12.90" fill="#eec6c7" />
<rect x="303.17" y="192.30" width="12.08" height="12.90" fill="#f1d3d4" />
<rect x="314.75" y="192.30" width="12.08" height="12.90" fill="#eab9ba" />
<rect x="326.33" y="192.30" width="12.08" height="12.90" fill="#e4a0a1" />
<rect x="337.92" y="192.30" width="12.08" height="12.90" fill="#eec6c7" />
<rect x="349.50" y="192.30" width="12.08" height="12.90" fill="#eec6c7" />
<rect x="361.08" y="192.30" width="12.08" height="12.90" fill="#eab9ba" />
<rect x="372.67" y="192.30" width="12.08" height="12.90" fill="#eab9ba" />
<rect x="384.25" y="192.30" width="12.08" height="12.90" fill="#eec6c7" />
<rect x="395.83" y="192.30" width="12.08" height="12.90" fill="#e4a0a1" />
<rect x="407.42" y="192.30" width="12.08" height="12.90" fill="#eab9ba" />
<text x="276.30" y="200.74" font-size="6.3" text-anchor="end" fill="#222">TIM-3</text>
<rect x="280.00" y="204.70" width="12.08" height="12.90" fill="#f1d3d4" />
<rect x="291.58" y="204.70" width="12.08" height="12.90" fill="#f4dbdc" />
<rect x="303.17" y="204.70" width="12.08" height="12.90" fill="#eec6c7" />
<rect x="314.75" y="204.70" width="12.08" height="12.90" fill="#f4dbdc" />
<rect x="326.33" y="204.70" width="12.08" height="12.90" fill="#efcbcc" />
<rect x="337.92" y="204.70" width="12.08" height="12.90" fill="#f4dbdc" />
<rect x="349.50" y="204.70" width="12.08" height="12.90" fill="#f4dbdc" />
<rect x="361.08" y="204.70" width="12.08" height="12.90" fill="#f4dbdc" />
<rect x="372.67" y="204.70" width="12.08" height="12.90" fill="#f7e7e7" />
<rect x="384.25" y="204.70" width="12.08" height="12.90" fill="#f7e7e7" />
<rect x="395.83" y="204.70" width="12.08" height="12.90" fill="#eec6c7" />
<rect x="407.42" y="204.70" width="12.08" height="12.90" fill="#f4dbdc" />
<text x="276.30" y="213.14" font-size="6.3" text-anchor="end" fill="#222">CTLA-4</text>
<rect x="280.00" y="217.10" width="12.08" height="12.90" fill="#f7e7e7" />
<rect x="291.58" y="217.10" width="12.08" height="12.90" fill="#fcf5f6" />
<rect x="303.17" y="217.10" width="12.08" height="12.90" fill="#fcf5f6" />
<rect x="314.75" y="217.10" width="12.08" height="12.90" fill="#faeff0" />
<rect x="326.33" y="217.10" width="12.08" height="12.90" fill="#f4dbdc" />
<rect x="337.92" y="217.10" width="12.08" height="12.90" fill="#faeff0" />
<rect x="349.50" y="217.10" width="12.08" height="12.90" fill="#faeff0" />
<rect x="361.08" y="217.10" width="12.08" height="12.90" fill="#faeff0" />
<rect x="372.67" y="217.10" width="12.08" height="12.90" fill="#faeff0" />
<rect x="384.25" y="217.10" width="12.08" height="12.90" fill="#faeff0" />
<rect x="395.83" y="217.10" width="12.08" height="12.90" fill="#f7e7e7" />
<rect x="407.42" y="217.10" width="12.08" height="12.90" fill="#faeff0" />
<text x="276.30" y="225.54" font-size="6.3" text-anchor="end" fill="#222">LAG-3</text>
<rect x="280.00" y="229.50" width="12.08" height="12.90" fill="#da6164" />
<rect x="291.58" y="229.50" width="12.08" height="12.90" fill="#e8b1b2" />
<rect x="303.17" y="229.50" width="12.08" height="12.90" fill="#e8b1b2" />
<rect x="314.75" y="229.50" width="12.08" height="12.90" fill="#e6a7a9" />
<rect x="326.33" y="229.50" width="12.08" height="12.90" fill="#da5a5e" />
<rect x="337.92" y="229.50" width="12.08" height="12.90" fill="#eec6c7" />
<rect x="349.50" y="229.50" width="12.08" height="12.90" fill="#e18f91" />
<rect x="361.08" y="229.50" width="12.08" height="12.90" fill="#e18f91" />
<rect x="372.67" y="229.50" width="12.08" height="12.90" fill="#de7c7f" />
<rect x="384.25" y="229.50" width="12.08" height="12.90" fill="#e8b1b2" />
<rect x="395.83" y="229.50" width="12.08" height="12.90" fill="#d9151b" />
<rect x="407.42" y="229.50" width="12.08" height="12.90" fill="#d94a4e" />
<text x="276.30" y="237.94" font-size="6.3" text-anchor="end" fill="#222">BTLA</text>
<rect x="280.00" y="241.90" width="12.08" height="12.90" fill="#e8b1b2" />
<rect x="291.58" y="241.90" width="12.08" height="12.90" fill="#efcbcc" />
<rect x="303.17" y="241.90" width="12.08" height="12.90" fill="#efcbcc" />
<rect x="314.75" y="241.90" width="12.08" height="12.90" fill="#ecc0c2" />
<rect x="326.33" y="241.90" width="12.08" height="12.90" fill="#e18f91" />
<rect x="337.92" y="241.90" width="12.08" height="12.90" fill="#e8b1b2" />
<rect x="349.50" y="241.90" width="12.08" height="12.90" fill="#da5a5e" />
<rect x="361.08" y="241.90" width="12.08" height="12.90" fill="#efcbcc" />
<rect x="372.67" y="241.90" width="12.08" height="12.90" fill="#e3989a" />
<rect x="384.25" y="241.90" width="12.08" height="12.90" fill="#e6a7a9" />
<rect x="395.83" y="241.90" width="12.08" height="12.90" fill="#da0a10" />
<rect x="407.42" y="241.90" width="12.08" height="12.90" fill="#d8262b" />
<text x="276.30" y="250.34" font-size="6.3" text-anchor="end" fill="#222">ICOS</text>
</g>
<rect x="280.00" y="167.50" width="139.00" height="2.00" fill="#fff" />
<rect x="280.00" y="167.50" width="1.90" height="86.80" fill="#fff" />
<rect x="280.0" y="167.5" width="139" height="86.8" fill="none" stroke="#000" stroke-width="1.4"/>
<text x="285.79" y="264.04" font-size="6.3" text-anchor="middle" fill="#222">1</text>
<text x="297.38" y="264.04" font-size="6.3" text-anchor="middle" fill="#222">2</text>
<text x="308.96" y="264.04" font-size="6.3" text-anchor="middle" fill="#222">3</text>
<text x="320.54" y="264.04" font-size="6.3" text-anchor="middle" fill="#222">4</text>
<text x="332.12" y="264.04" font-size="6.3" text-anchor="middle" fill="#222">5</text>
<text x="343.71" y="264.04" font-size="6.3" text-anchor="middle" fill="#222">6</text>
<text x="355.29" y="264.04" font-size="6.3" text-anchor="middle" fill="#222">8</text>
<text x="366.88" y="264.04" font-size="6.3" text-anchor="middle" fill="#222">10</text>
<text x="378.46" y="264.04" font-size="6.3" text-anchor="middle" fill="#222">11</text>
<text x="390.04" y="264.04" font-size="6.3" text-anchor="middle" fill="#222">12</text>
<text x="401.62" y="264.04" font-size="6.3" text-anchor="middle" fill="#222">15</text>
<text x="413.21" y="264.04" font-size="6.3" text-anchor="middle" fill="#222">17</text>
<text x="349.60" y="275.50" font-size="9.0" font-weight="normal" text-anchor="middle" fill="#222" stroke="#222" stroke-width="0.16" textLength="39.6" lengthAdjust="spacingAndGlyphs">Patient number</text>
<text x="0" y="0" font-size="9.0" font-weight="normal" text-anchor="middle" fill="#222" stroke="#222" stroke-width="0.16" textLength="33.0" lengthAdjust="spacingAndGlyphs" transform="translate(251.00,210.50) rotate(-90)">Baseline MFI</text>
<defs><linearGradient id="gr" x1="0" y1="1" x2="0" y2="0"><stop offset="0" stop-color="#ffffff"/><stop offset="1" stop-color="#d7000a"/></linearGradient></defs>
<rect x="423.30" y="167.60" width="4.90" height="86.90" fill="url(#gr)" stroke="#999" stroke-width="0.4"/>
<line x1="423.30" y1="178.20" x2="424.50" y2="178.20" stroke="#555" stroke-width="0.5" />
<line x1="427.00" y1="178.20" x2="428.20" y2="178.20" stroke="#555" stroke-width="0.5" />
<text x="431.80" y="180.47" font-size="6.4" text-anchor="start" fill="#222">2000</text>
<line x1="423.30" y1="198.20" x2="424.50" y2="198.20" stroke="#555" stroke-width="0.5" />
<line x1="427.00" y1="198.20" x2="428.20" y2="198.20" stroke="#555" stroke-width="0.5" />
<text x="431.80" y="200.47" font-size="6.4" text-anchor="start" fill="#222">1500</text>
<line x1="423.30" y1="217.80" x2="424.50" y2="217.80" stroke="#555" stroke-width="0.5" />
<line x1="427.00" y1="217.80" x2="428.20" y2="217.80" stroke="#555" stroke-width="0.5" />
<text x="431.80" y="220.07" font-size="6.4" text-anchor="start" fill="#222">1000</text>
<line x1="423.30" y1="237.30" x2="424.50" y2="237.30" stroke="#555" stroke-width="0.5" />
<line x1="427.00" y1="237.30" x2="428.20" y2="237.30" stroke="#555" stroke-width="0.5" />
<text x="431.80" y="239.57" font-size="6.4" text-anchor="start" fill="#222">500</text>
<text x="7.3" y="298.9" font-size="11.2" font-weight="bold" fill="#000">F</text>
<g class="ce">
<rect x="51.40" y="300.30" width="13.30" height="13.33" fill="#e29396" />
<rect x="64.20" y="300.30" width="13.30" height="13.33" fill="#f1d3d4" />
<rect x="77.00" y="300.30" width="13.30" height="13.33" fill="#da0a10" />
<rect x="89.80" y="300.30" width="13.30" height="13.33" fill="#f1d3d4" />
<rect x="102.60" y="300.30" width="13.30" height="13.33" fill="#e7acae" />
<rect x="115.40" y="300.30" width="13.30" height="13.33" fill="#eec6c7" />
<rect x="128.20" y="300.30" width="13.30" height="13.33" fill="#eab9ba" />
<rect x="141.00" y="300.30" width="13.30" height="13.33" fill="#e29396" />
<rect x="153.80" y="300.30" width="13.30" height="13.33" fill="#f1d3d4" />
<rect x="166.60" y="300.30" width="13.30" height="13.33" fill="#eab9ba" />
<rect x="179.40" y="300.30" width="13.30" height="13.33" fill="#faeff0" />
<rect x="192.20" y="300.30" width="13.30" height="13.33" fill="#e7acae" />
<text x="47.80" y="308.95" font-size="6.3" text-anchor="end" fill="#222">CD137</text>
<rect x="51.40" y="313.13" width="13.30" height="13.33" fill="#e7acae" />
<rect x="64.20" y="313.13" width="13.30" height="13.33" fill="#eec6c7" />
<rect x="77.00" y="313.13" width="13.30" height="13.33" fill="#e4a0a1" />
<rect x="89.80" y="313.13" width="13.30" height="13.33" fill="#e7acae" />
<rect x="102.60" y="313.13" width="13.30" height="13.33" fill="#eec6c7" />
<rect x="115.40" y="313.13" width="13.30" height="13.33" fill="#e7acae" />
<rect x="128.20" y="313.13" width="13.30" height="13.33" fill="#eab9ba" />
<rect x="141.00" y="313.13" width="13.30" height="13.33" fill="#f1d3d4" />
<rect x="153.80" y="313.13" width="13.30" height="13.33" fill="#f1d3d4" />
<rect x="166.60" y="313.13" width="13.30" height="13.33" fill="#eab9ba" />
<rect x="179.40" y="313.13" width="13.30" height="13.33" fill="#f7e7e7" />
<rect x="192.20" y="313.13" width="13.30" height="13.33" fill="#e7acae" />
<text x="47.80" y="321.78" font-size="6.3" text-anchor="end" fill="#222">PD-1</text>
<rect x="51.40" y="325.96" width="13.30" height="13.33" fill="#e7acae" />
<rect x="64.20" y="325.96" width="13.30" height="13.33" fill="#e7acae" />
<rect x="77.00" y="325.96" width="13.30" height="13.33" fill="#d94448" />
<rect x="89.80" y="325.96" width="13.30" height="13.33" fill="#e4a0a1" />
<rect x="102.60" y="325.96" width="13.30" height="13.33" fill="#f1d3d4" />
<rect x="115.40" y="325.96" width="13.30" height="13.33" fill="#e4a0a1" />
<rect x="128.20" y="325.96" width="13.30" height="13.33" fill="#e4a0a1" />
<rect x="141.00" y="325.96" width="13.30" height="13.33" fill="#e7acae" />
<rect x="153.80" y="325.96" width="13.30" height="13.33" fill="#eab9ba" />
<rect x="166.60" y="325.96" width="13.30" height="13.33" fill="#e0888a" />
<rect x="179.40" y="325.96" width="13.30" height="13.33" fill="#fcf5f6" />
<rect x="192.20" y="325.96" width="13.30" height="13.33" fill="#e7acae" />
<text x="47.80" y="334.61" font-size="6.3" text-anchor="end" fill="#222">TIM-3</text>
<rect x="51.40" y="338.79" width="13.30" height="13.33" fill="#eab9ba" />
<rect x="64.20" y="338.79" width="13.30" height="13.33" fill="#eab9ba" />
<rect x="77.00" y="338.79" width="13.30" height="13.33" fill="#e0888a" />
<rect x="89.80" y="338.79" width="13.30" height="13.33" fill="#e0888a" />
<rect x="102.60" y="338.79" width="13.30" height="13.33" fill="#f1d3d4" />
<rect x="115.40" y="338.79" width="13.30" height="13.33" fill="#e7acae" />
<rect x="128.20" y="338.79" width="13.30" height="13.33" fill="#e29396" />
<rect x="141.00" y="338.79" width="13.30" height="13.33" fill="#eec6c7" />
<rect x="153.80" y="338.79" width="13.30" height="13.33" fill="#e7acae" />
<rect x="166.60" y="338.79" width="13.30" height="13.33" fill="#e0888a" />
<rect x="179.40" y="338.79" width="13.30" height="13.33" fill="#faeff0" />
<rect x="192.20" y="338.79" width="13.30" height="13.33" fill="#e7acae" />
<text x="47.80" y="347.44" font-size="6.3" text-anchor="end" fill="#222">CTLA-4</text>
<rect x="51.40" y="351.61" width="13.30" height="13.33" fill="#f1d3d4" />
<rect x="64.20" y="351.61" width="13.30" height="13.33" fill="#eec6c7" />
<rect x="77.00" y="351.61" width="13.30" height="13.33" fill="#e7acae" />
<rect x="89.80" y="351.61" width="13.30" height="13.33" fill="#f1d3d4" />
<rect x="102.60" y="351.61" width="13.30" height="13.33" fill="#f5e1e2" />
<rect x="115.40" y="351.61" width="13.30" height="13.33" fill="#eab9ba" />
<rect x="128.20" y="351.61" width="13.30" height="13.33" fill="#eec6c7" />
<rect x="141.00" y="351.61" width="13.30" height="13.33" fill="#eab9ba" />
<rect x="153.80" y="351.61" width="13.30" height="13.33" fill="#eec6c7" />
<rect x="166.60" y="351.61" width="13.30" height="13.33" fill="#eec6c7" />
<rect x="179.40" y="351.61" width="13.30" height="13.33" fill="#ffffff" />
<rect x="192.20" y="351.61" width="13.30" height="13.33" fill="#e7acae" />
<text x="47.80" y="360.27" font-size="6.3" text-anchor="end" fill="#222">LAG-3</text>
<rect x="51.40" y="364.44" width="13.30" height="13.33" fill="#e4a0a1" />
<rect x="64.20" y="364.44" width="13.30" height="13.33" fill="#e4a0a1" />
<rect x="77.00" y="364.44" width="13.30" height="13.33" fill="#da5a5e" />
<rect x="89.80" y="364.44" width="13.30" height="13.33" fill="#e29396" />
<rect x="102.60" y="364.44" width="13.30" height="13.33" fill="#e7acae" />
<rect x="115.40" y="364.44" width="13.30" height="13.33" fill="#e0888a" />
<rect x="128.20" y="364.44" width="13.30" height="13.33" fill="#e7acae" />
<rect x="141.00" y="364.44" width="13.30" height="13.33" fill="#e7acae" />
<rect x="153.80" y="364.44" width="13.30" height="13.33" fill="#eab9ba" />
<rect x="166.60" y="364.44" width="13.30" height="13.33" fill="#db6569" />
<rect x="179.40" y="364.44" width="13.30" height="13.33" fill="#f7e7e7" />
<rect x="192.20" y="364.44" width="13.30" height="13.33" fill="#e7acae" />
<text x="47.80" y="373.09" font-size="6.3" text-anchor="end" fill="#222">BTLA</text>
<rect x="51.40" y="377.27" width="13.30" height="13.33" fill="#f7e7e7" />
<rect x="64.20" y="377.27" width="13.30" height="13.33" fill="#f5e1e2" />
<rect x="77.00" y="377.27" width="13.30" height="13.33" fill="#e0888a" />
<rect x="89.80" y="377.27" width="13.30" height="13.33" fill="#f5e1e2" />
<rect x="102.60" y="377.27" width="13.30" height="13.33" fill="#f5e1e2" />
<rect x="115.40" y="377.27" width="13.30" height="13.33" fill="#f7e7e7" />
<rect x="128.20" y="377.27" width="13.30" height="13.33" fill="#faeff0" />
<rect x="141.00" y="377.27" width="13.30" height="13.33" fill="#eab9ba" />
<rect x="153.80" y="377.27" width="13.30" height="13.33" fill="#f5e1e2" />
<rect x="166.60" y="377.27" width="13.30" height="13.33" fill="#eec6c7" />
<rect x="179.40" y="377.27" width="13.30" height="13.33" fill="#e29396" />
<rect x="192.20" y="377.27" width="13.30" height="13.33" fill="#f5e1e2" />
<text x="47.80" y="385.92" font-size="6.3" text-anchor="end" fill="#222">ICOS</text>
</g>
<rect x="51.4" y="300.3" width="153.6" height="89.8" fill="none" stroke="#000" stroke-width="1.3"/>
<text x="57.80" y="399.44" font-size="6.3" text-anchor="middle" fill="#222">1</text>
<text x="70.60" y="399.44" font-size="6.3" text-anchor="middle" fill="#222">2</text>
<text x="83.40" y="399.44" font-size="6.3" text-anchor="middle" fill="#222">3</text>
<text x="96.20" y="399.44" font-size="6.3" text-anchor="middle" fill="#222">4</text>
<text x="109.00" y="399.44" font-size="6.3" text-anchor="middle" fill="#222">5</text>
<text x="121.80" y="399.44" font-size="6.3" text-anchor="middle" fill="#222">6</text>
<text x="134.60" y="399.44" font-size="6.3" text-anchor="middle" fill="#222">8</text>
<text x="147.40" y="399.44" font-size="6.3" text-anchor="middle" fill="#222">10</text>
<text x="160.20" y="399.44" font-size="6.3" text-anchor="middle" fill="#222">11</text>
<text x="173.00" y="399.44" font-size="6.3" text-anchor="middle" fill="#222">12</text>
<text x="185.80" y="399.44" font-size="6.3" text-anchor="middle" fill="#222">15</text>
<text x="198.60" y="399.44" font-size="6.3" text-anchor="middle" fill="#222">17</text>
<text x="126.80" y="411.50" font-size="9.0" font-weight="normal" text-anchor="middle" fill="#222" stroke="#222" stroke-width="0.16" textLength="39.3" lengthAdjust="spacingAndGlyphs">Patient number</text>
<text x="0" y="0" font-size="9.0" font-weight="normal" text-anchor="middle" fill="#222" stroke="#222" stroke-width="0.16" textLength="86.4" lengthAdjust="spacingAndGlyphs" transform="translate(21.60,345.00) rotate(-90)">Fold change in MFI from baseline</text>
<rect x="209.20" y="300.20" width="5.50" height="90.10" fill="url(#gr)" stroke="#999" stroke-width="0.4"/>
<line x1="209.20" y1="311.60" x2="210.40" y2="311.60" stroke="#555" stroke-width="0.5" />
<line x1="213.50" y1="311.60" x2="214.70" y2="311.60" stroke="#555" stroke-width="0.5" />
<text x="218.20" y="313.94" font-size="6.6" text-anchor="start" fill="#222">4</text>
<line x1="209.20" y1="331.70" x2="210.40" y2="331.70" stroke="#555" stroke-width="0.5" />
<line x1="213.50" y1="331.70" x2="214.70" y2="331.70" stroke="#555" stroke-width="0.5" />
<text x="218.20" y="334.04" font-size="6.6" text-anchor="start" fill="#222">3</text>
<line x1="209.20" y1="351.40" x2="210.40" y2="351.40" stroke="#555" stroke-width="0.5" />
<line x1="213.50" y1="351.40" x2="214.70" y2="351.40" stroke="#555" stroke-width="0.5" />
<text x="218.20" y="353.74" font-size="6.6" text-anchor="start" fill="#222">2</text>
<line x1="209.20" y1="370.60" x2="210.40" y2="370.60" stroke="#555" stroke-width="0.5" />
<line x1="213.50" y1="370.60" x2="214.70" y2="370.60" stroke="#555" stroke-width="0.5" />
<text x="218.20" y="372.94" font-size="6.6" text-anchor="start" fill="#222">1</text>
<text x="7.2" y="432.1" font-size="11.2" font-weight="bold" fill="#000">G</text>
<text x="52.30" y="438.11" font-size="6.8" text-anchor="start" fill="#222">52%</text>
<text x="105.40" y="438.08" font-size="6.7" text-anchor="middle" fill="#222">0</text>
<text x="173.80" y="438.08" font-size="6.7" text-anchor="end" fill="#222">-100%</text>
<rect x="51.50" y="440.60" width="10.99" height="9.80" fill="#e00000" />
<rect x="63.29" y="440.60" width="10.99" height="9.80" fill="#c04850" />
<rect x="75.08" y="440.60" width="10.99" height="9.80" fill="#b07074" />
<rect x="86.87" y="440.60" width="10.99" height="9.80" fill="#909292" />
<rect x="98.66" y="440.60" width="10.99" height="9.80" fill="#909494" />
<rect x="110.45" y="440.60" width="10.99" height="9.80" fill="#909696" />
<rect x="122.24" y="440.60" width="10.99" height="9.80" fill="#88a088" />
<rect x="134.03" y="440.60" width="10.99" height="9.80" fill="#84a484" />
<rect x="145.82" y="440.60" width="10.99" height="9.80" fill="#60c050" />
<rect x="157.61" y="440.60" width="10.99" height="9.80" fill="#84f040" />
<text x="172.50" y="447.44" font-size="6.3" text-anchor="start" fill="#000" font-weight="bold">M_protein</text>
<rect x="51.50" y="454.20" width="10.99" height="10.99" fill="#caca50" />
<rect x="63.29" y="454.20" width="10.99" height="10.99" fill="#ecec22" />
<rect x="75.08" y="454.20" width="10.99" height="10.99" fill="#caca50" />
<rect x="86.87" y="454.20" width="10.99" height="10.99" fill="#6b6b96" />
<rect x="98.66" y="454.20" width="10.99" height="10.99" fill="#787896" />
<rect x="110.45" y="454.20" width="10.99" height="10.99" fill="#787896" />
<rect x="122.24" y="454.20" width="10.99" height="10.99" fill="#787896" />
<rect x="134.03" y="454.20" width="10.99" height="10.99" fill="#6b6b96" />
<rect x="145.82" y="454.20" width="10.99" height="10.99" fill="#262696" />
<rect x="157.61" y="454.20" width="10.99" height="10.99" fill="#a4a484" />
<text x="172.50" y="461.93" font-size="6.3" text-anchor="start" fill="#d03434">CXCR6</text>
<rect x="51.50" y="465.99" width="10.99" height="10.99" fill="#b9b967" />
<rect x="63.29" y="465.99" width="10.99" height="10.99" fill="#d2d244" />
<rect x="75.08" y="465.99" width="10.99" height="10.99" fill="#e3e32d" />
<rect x="86.87" y="465.99" width="10.99" height="10.99" fill="#393996" />
<rect x="98.66" y="465.99" width="10.99" height="10.99" fill="#787896" />
<rect x="110.45" y="465.99" width="10.99" height="10.99" fill="#787896" />
<rect x="122.24" y="465.99" width="10.99" height="10.99" fill="#787896" />
<rect x="134.03" y="465.99" width="10.99" height="10.99" fill="#a0a08a" />
<rect x="145.82" y="465.99" width="10.99" height="10.99" fill="#262696" />
<rect x="157.61" y="465.99" width="10.99" height="10.99" fill="#989896" />
<text x="172.50" y="473.72" font-size="6.3" text-anchor="start" fill="#d03434">CD274</text>
<rect x="51.50" y="477.77" width="10.99" height="10.99" fill="#caca50" />
<rect x="63.29" y="477.77" width="10.99" height="10.99" fill="#4b4b96" />
<rect x="75.08" y="477.77" width="10.99" height="10.99" fill="#ecec22" />
<rect x="86.87" y="477.77" width="10.99" height="10.99" fill="#a0a08a" />
<rect x="98.66" y="477.77" width="10.99" height="10.99" fill="#989896" />
<rect x="110.45" y="477.77" width="10.99" height="10.99" fill="#989896" />
<rect x="122.24" y="477.77" width="10.99" height="10.99" fill="#989896" />
<rect x="134.03" y="477.77" width="10.99" height="10.99" fill="#b9b967" />
<rect x="145.82" y="477.77" width="10.99" height="10.99" fill="#262696" />
<rect x="157.61" y="477.77" width="10.99" height="10.99" fill="#787896" />
<text x="172.50" y="485.50" font-size="6.3" text-anchor="start" fill="#d03434">PDCD1LG2</text>
<rect x="51.50" y="489.56" width="10.99" height="10.99" fill="#a8a87e" />
<rect x="63.29" y="489.56" width="10.99" height="10.99" fill="#dbdb39" />
<rect x="75.08" y="489.56" width="10.99" height="10.99" fill="#848496" />
<rect x="86.87" y="489.56" width="10.99" height="10.99" fill="#dbdb39" />
<rect x="98.66" y="489.56" width="10.99" height="10.99" fill="#787896" />
<rect x="110.45" y="489.56" width="10.99" height="10.99" fill="#6b6b96" />
<rect x="122.24" y="489.56" width="10.99" height="10.99" fill="#b1b173" />
<rect x="134.03" y="489.56" width="10.99" height="10.99" fill="#a8a87e" />
<rect x="145.82" y="489.56" width="10.99" height="10.99" fill="#a8a87e" />
<rect x="157.61" y="489.56" width="10.99" height="10.99" fill="#111196" />
<text x="172.50" y="497.29" font-size="6.3" text-anchor="start" fill="#d03434">CD3D</text>
<rect x="51.50" y="501.34" width="10.99" height="10.99" fill="#989896" />
<rect x="63.29" y="501.34" width="10.99" height="10.99" fill="#e3e32d" />
<rect x="75.08" y="501.34" width="10.99" height="10.99" fill="#b1b173" />
<rect x="86.87" y="501.34" width="10.99" height="10.99" fill="#4b4b96" />
<rect x="98.66" y="501.34" width="10.99" height="10.99" fill="#5c5c96" />
<rect x="110.45" y="501.34" width="10.99" height="10.99" fill="#848496" />
<rect x="122.24" y="501.34" width="10.99" height="10.99" fill="#b1b173" />
<rect x="134.03" y="501.34" width="10.99" height="10.99" fill="#848496" />
<rect x="145.82" y="501.34" width="10.99" height="10.99" fill="#d2d244" />
<rect x="157.61" y="501.34" width="10.99" height="10.99" fill="#5c5c96" />
<text x="172.50" y="509.07" font-size="6.3" text-anchor="start" fill="#d03434">CD27</text>
<rect x="51.50" y="513.13" width="10.99" height="10.99" fill="#d2d244" />
<rect x="63.29" y="513.13" width="10.99" height="10.99" fill="#b1b173" />
<rect x="75.08" y="513.13" width="10.99" height="10.99" fill="#a0a08a" />
<rect x="86.87" y="513.13" width="10.99" height="10.99" fill="#989896" />
<rect x="98.66" y="513.13" width="10.99" height="10.99" fill="#5c5c96" />
<rect x="110.45" y="513.13" width="10.99" height="10.99" fill="#787896" />
<rect x="122.24" y="513.13" width="10.99" height="10.99" fill="#989896" />
<rect x="134.03" y="513.13" width="10.99" height="10.99" fill="#4b4b96" />
<rect x="145.82" y="513.13" width="10.99" height="10.99" fill="#ecec22" />
<rect x="157.61" y="513.13" width="10.99" height="10.99" fill="#989896" />
<text x="172.50" y="520.86" font-size="6.3" text-anchor="start" fill="#d03434">TAGAP</text>
<rect x="51.50" y="524.92" width="10.99" height="10.99" fill="#989896" />
<rect x="63.29" y="524.92" width="10.99" height="10.99" fill="#787896" />
<rect x="75.08" y="524.92" width="10.99" height="10.99" fill="#b1b173" />
<rect x="86.87" y="524.92" width="10.99" height="10.99" fill="#d2d244" />
<rect x="98.66" y="524.92" width="10.99" height="10.99" fill="#b1b173" />
<rect x="110.45" y="524.92" width="10.99" height="10.99" fill="#111196" />
<rect x="122.24" y="524.92" width="10.99" height="10.99" fill="#787896" />
<rect x="134.03" y="524.92" width="10.99" height="10.99" fill="#a8a87e" />
<rect x="145.82" y="524.92" width="10.99" height="10.99" fill="#a8a87e" />
<rect x="157.61" y="524.92" width="10.99" height="10.99" fill="#b1b173" />
<text x="172.50" y="532.65" font-size="6.3" text-anchor="start" fill="#78b048">CD8A</text>
<rect x="51.50" y="536.70" width="10.99" height="10.99" fill="#787896" />
<rect x="63.29" y="536.70" width="10.99" height="10.99" fill="#393996" />
<rect x="75.08" y="536.70" width="10.99" height="10.99" fill="#787896" />
<rect x="86.87" y="536.70" width="10.99" height="10.99" fill="#dbdb39" />
<rect x="98.66" y="536.70" width="10.99" height="10.99" fill="#b1b173" />
<rect x="110.45" y="536.70" width="10.99" height="10.99" fill="#989896" />
<rect x="122.24" y="536.70" width="10.99" height="10.99" fill="#dbdb39" />
<rect x="134.03" y="536.70" width="10.99" height="10.99" fill="#a0a08a" />
<rect x="145.82" y="536.70" width="10.99" height="10.99" fill="#b1b173" />
<rect x="157.61" y="536.70" width="10.99" height="10.99" fill="#5c5c96" />
<text x="172.50" y="544.43" font-size="6.3" text-anchor="start" fill="#78b048">CMKLR1</text>
<rect x="51.50" y="548.49" width="10.99" height="10.99" fill="#c2c25c" />
<rect x="63.29" y="548.49" width="10.99" height="10.99" fill="#8d8d96" />
<rect x="75.08" y="548.49" width="10.99" height="10.99" fill="#787896" />
<rect x="86.87" y="548.49" width="10.99" height="10.99" fill="#787896" />
<rect x="98.66" y="548.49" width="10.99" height="10.99" fill="#6b6b96" />
<rect x="110.45" y="548.49" width="10.99" height="10.99" fill="#848496" />
<rect x="122.24" y="548.49" width="10.99" height="10.99" fill="#8d8d96" />
<rect x="134.03" y="548.49" width="10.99" height="10.99" fill="#848496" />
<rect x="145.82" y="548.49" width="10.99" height="10.99" fill="#dbdb39" />
<rect x="157.61" y="548.49" width="10.99" height="10.99" fill="#d2d244" />
<text x="172.50" y="556.22" font-size="6.3" text-anchor="start" fill="#78b048">HLA−DRB1</text>
<rect x="51.50" y="560.27" width="10.99" height="10.99" fill="#848496" />
<rect x="63.29" y="560.27" width="10.99" height="10.99" fill="#111196" />
<rect x="75.08" y="560.27" width="10.99" height="10.99" fill="#787896" />
<rect x="86.87" y="560.27" width="10.99" height="10.99" fill="#d2d244" />
<rect x="98.66" y="560.27" width="10.99" height="10.99" fill="#b1b173" />
<rect x="110.45" y="560.27" width="10.99" height="10.99" fill="#b1b173" />
<rect x="122.24" y="560.27" width="10.99" height="10.99" fill="#b1b173" />
<rect x="134.03" y="560.27" width="10.99" height="10.99" fill="#b1b173" />
<rect x="145.82" y="560.27" width="10.99" height="10.99" fill="#b1b173" />
<rect x="157.61" y="560.27" width="10.99" height="10.99" fill="#6b6b96" />
<text x="172.50" y="568.00" font-size="6.3" text-anchor="start" fill="#78b048">TIGIT</text>
<rect x="51.50" y="572.06" width="10.99" height="10.99" fill="#848496" />
<rect x="63.29" y="572.06" width="10.99" height="10.99" fill="#848496" />
<rect x="75.08" y="572.06" width="10.99" height="10.99" fill="#8d8d96" />
<rect x="86.87" y="572.06" width="10.99" height="10.99" fill="#b9b967" />
<rect x="98.66" y="572.06" width="10.99" height="10.99" fill="#8d8d96" />
<rect x="110.45" y="572.06" width="10.99" height="10.99" fill="#5c5c96" />
<rect x="122.24" y="572.06" width="10.99" height="10.99" fill="#a0a08a" />
<rect x="134.03" y="572.06" width="10.99" height="10.99" fill="#6b6b96" />
<rect x="145.82" y="572.06" width="10.99" height="10.99" fill="#b1b173" />
<rect x="157.61" y="572.06" width="10.99" height="10.99" fill="#ecec22" />
<text x="172.50" y="579.79" font-size="6.3" text-anchor="start" fill="#78b048">GZMB</text>
<rect x="51.50" y="583.85" width="10.99" height="10.99" fill="#949496" />
<rect x="63.29" y="583.85" width="10.99" height="10.99" fill="#6b6b96" />
<rect x="75.08" y="583.85" width="10.99" height="10.99" fill="#8d8d96" />
<rect x="86.87" y="583.85" width="10.99" height="10.99" fill="#949496" />
<rect x="98.66" y="583.85" width="10.99" height="10.99" fill="#5c5c96" />
<rect x="110.45" y="583.85" width="10.99" height="10.99" fill="#b1b173" />
<rect x="122.24" y="583.85" width="10.99" height="10.99" fill="#a8a87e" />
<rect x="134.03" y="583.85" width="10.99" height="10.99" fill="#5c5c96" />
<rect x="145.82" y="583.85" width="10.99" height="10.99" fill="#dfdf33" />
<rect x="157.61" y="583.85" width="10.99" height="10.99" fill="#d2d244" />
<text x="172.50" y="591.58" font-size="6.3" text-anchor="start" fill="#78b048">IL2RG</text>
<rect x="51.50" y="595.63" width="10.99" height="10.99" fill="#848496" />
<rect x="63.29" y="595.63" width="10.99" height="10.99" fill="#111196" />
<rect x="75.08" y="595.63" width="10.99" height="10.99" fill="#8d8d96" />
<rect x="86.87" y="595.63" width="10.99" height="10.99" fill="#a8a87e" />
<rect x="98.66" y="595.63" width="10.99" height="10.99" fill="#989896" />
<rect x="110.45" y="595.63" width="10.99" height="10.99" fill="#b1b173" />
<rect x="122.24" y="595.63" width="10.99" height="10.99" fill="#a0a08a" />
<rect x="134.03" y="595.63" width="10.99" height="10.99" fill="#caca50" />
<rect x="145.82" y="595.63" width="10.99" height="10.99" fill="#848496" />
<rect x="157.61" y="595.63" width="10.99" height="10.99" fill="#caca50" />
<text x="172.50" y="603.36" font-size="6.3" text-anchor="start" fill="#78b048">GZMA</text>
<rect x="51.50" y="607.42" width="10.99" height="10.99" fill="#848496" />
<rect x="63.29" y="607.42" width="10.99" height="10.99" fill="#5c5c96" />
<rect x="75.08" y="607.42" width="10.99" height="10.99" fill="#8d8d96" />
<rect x="86.87" y="607.42" width="10.99" height="10.99" fill="#b9b967" />
<rect x="98.66" y="607.42" width="10.99" height="10.99" fill="#8d8d96" />
<rect x="110.45" y="607.42" width="10.99" height="10.99" fill="#5c5c96" />
<rect x="122.24" y="607.42" width="10.99" height="10.99" fill="#a8a87e" />
<rect x="134.03" y="607.42" width="10.99" height="10.99" fill="#989896" />
<rect x="145.82" y="607.42" width="10.99" height="10.99" fill="#d2d244" />
<rect x="157.61" y="607.42" width="10.99" height="10.99" fill="#dbdb39" />
<text x="172.50" y="615.15" font-size="6.3" text-anchor="start" fill="#78b048">CD2</text>
<text x="0" y="0" font-size="6.3" fill="#222" transform="translate(54.40,623) rotate(90)">10CB−Neg</text>
<text x="0" y="0" font-size="6.3" fill="#222" transform="translate(66.19,623) rotate(90)">6CB−Neg</text>
<text x="0" y="0" font-size="6.3" fill="#222" transform="translate(77.98,623) rotate(90)">15CB−Neg</text>
<text x="0" y="0" font-size="6.3" fill="#222" transform="translate(89.77,623) rotate(90)">12CB−Neg</text>
<text x="0" y="0" font-size="6.3" fill="#222" transform="translate(101.56,623) rotate(90)">4CB−Neg</text>
<text x="0" y="0" font-size="6.3" fill="#222" transform="translate(113.34,623) rotate(90)">5CB−Neg</text>
<text x="0" y="0" font-size="6.3" fill="#222" transform="translate(125.13,623) rotate(90)">8CB−Neg</text>
<text x="0" y="0" font-size="6.3" fill="#222" transform="translate(136.93,623) rotate(90)">1CB−Neg</text>
<text x="0" y="0" font-size="6.3" fill="#222" transform="translate(148.72,623) rotate(90)">11CB−Neg</text>
<text x="0" y="0" font-size="6.3" fill="#222" transform="translate(160.50,623) rotate(90)">3CB−Neg</text>
<text x="236.8" y="300.0" font-size="11.2" font-weight="bold" fill="#000">H</text>
<g class="ce">
<rect x="264.30" y="334.60" width="8.12" height="6.30" fill="#000080" />
<rect x="271.92" y="334.60" width="8.12" height="6.30" fill="#101083" />
<rect x="279.54" y="334.60" width="8.12" height="6.30" fill="#000080" />
<rect x="287.16" y="334.60" width="8.12" height="6.30" fill="#606093" />
<rect x="294.78" y="334.60" width="8.12" height="6.30" fill="#c6c660" />
<rect x="302.40" y="334.60" width="8.12" height="6.30" fill="#aeae88" />
<rect x="310.02" y="334.60" width="8.12" height="6.30" fill="#aeae88" />
<rect x="317.64" y="334.60" width="8.12" height="6.30" fill="#aeae88" />
<rect x="325.26" y="334.60" width="8.12" height="6.30" fill="#a9a990" />
<rect x="332.88" y="334.60" width="8.12" height="6.30" fill="#b3b380" />
<rect x="340.50" y="334.60" width="8.12" height="6.30" fill="#b7b778" />
<rect x="348.12" y="334.60" width="8.12" height="6.30" fill="#b7b778" />
<rect x="355.74" y="334.60" width="8.12" height="6.30" fill="#cfcf50" />
<rect x="363.36" y="334.60" width="8.12" height="6.30" fill="#aeae88" />
<rect x="370.98" y="334.60" width="8.12" height="6.30" fill="#c6c660" />
<rect x="378.60" y="334.60" width="8.12" height="6.30" fill="#aeae88" />
<rect x="386.22" y="334.60" width="8.12" height="6.30" fill="#c6c660" />
<rect x="393.84" y="334.60" width="8.12" height="6.30" fill="#88889b" />
<rect x="401.46" y="334.60" width="8.12" height="6.30" fill="#bcbc70" />
<rect x="409.08" y="334.60" width="8.12" height="6.30" fill="#bcbc70" />
<rect x="264.30" y="340.40" width="8.12" height="6.30" fill="#000080" />
<rect x="271.92" y="340.40" width="8.12" height="6.30" fill="#080881" />
<rect x="279.54" y="340.40" width="8.12" height="6.30" fill="#000080" />
<rect x="287.16" y="340.40" width="8.12" height="6.30" fill="#505090" />
<rect x="294.78" y="340.40" width="8.12" height="6.30" fill="#a9a990" />
<rect x="302.40" y="340.40" width="8.12" height="6.30" fill="#b7b778" />
<rect x="310.02" y="340.40" width="8.12" height="6.30" fill="#b7b778" />
<rect x="317.64" y="340.40" width="8.12" height="6.30" fill="#c6c660" />
<rect x="325.26" y="340.40" width="8.12" height="6.30" fill="#b7b778" />
<rect x="332.88" y="340.40" width="8.12" height="6.30" fill="#aeae88" />
<rect x="340.50" y="340.40" width="8.12" height="6.30" fill="#b3b380" />
<rect x="348.12" y="340.40" width="8.12" height="6.30" fill="#b3b380" />
<rect x="355.74" y="340.40" width="8.12" height="6.30" fill="#cfcf50" />
<rect x="363.36" y="340.40" width="8.12" height="6.30" fill="#b3b380" />
<rect x="370.98" y="340.40" width="8.12" height="6.30" fill="#b7b778" />
<rect x="378.60" y="340.40" width="8.12" height="6.30" fill="#c1c168" />
<rect x="386.22" y="340.40" width="8.12" height="6.30" fill="#b7b778" />
<rect x="393.84" y="340.40" width="8.12" height="6.30" fill="#90909c" />
<rect x="401.46" y="340.40" width="8.12" height="6.30" fill="#b7b778" />
<rect x="409.08" y="340.40" width="8.12" height="6.30" fill="#c1c168" />
<rect x="264.30" y="346.19" width="8.12" height="6.30" fill="#000080" />
<rect x="271.92" y="346.19" width="8.12" height="6.30" fill="#080881" />
<rect x="279.54" y="346.19" width="8.12" height="6.30" fill="#202086" />
<rect x="287.16" y="346.19" width="8.12" height="6.30" fill="#202086" />
<rect x="294.78" y="346.19" width="8.12" height="6.30" fill="#a0a0a0" />
<rect x="302.40" y="346.19" width="8.12" height="6.30" fill="#a4a498" />
<rect x="310.02" y="346.19" width="8.12" height="6.30" fill="#c6c660" />
<rect x="317.64" y="346.19" width="8.12" height="6.30" fill="#a4a498" />
<rect x="325.26" y="346.19" width="8.12" height="6.30" fill="#b7b778" />
<rect x="332.88" y="346.19" width="8.12" height="6.30" fill="#a9a990" />
<rect x="340.50" y="346.19" width="8.12" height="6.30" fill="#caca58" />
<rect x="348.12" y="346.19" width="8.12" height="6.30" fill="#c6c660" />
<rect x="355.74" y="346.19" width="8.12" height="6.30" fill="#bcbc70" />
<rect x="363.36" y="346.19" width="8.12" height="6.30" fill="#a4a498" />
<rect x="370.98" y="346.19" width="8.12" height="6.30" fill="#c6c660" />
<rect x="378.60" y="346.19" width="8.12" height="6.30" fill="#b7b778" />
<rect x="386.22" y="346.19" width="8.12" height="6.30" fill="#c1c168" />
<rect x="393.84" y="346.19" width="8.12" height="6.30" fill="#b3b380" />
<rect x="401.46" y="346.19" width="8.12" height="6.30" fill="#cfcf50" />
<rect x="409.08" y="346.19" width="8.12" height="6.30" fill="#aeae88" />
<rect x="264.30" y="351.99" width="8.12" height="6.30" fill="#000080" />
<rect x="271.92" y="351.99" width="8.12" height="6.30" fill="#282888" />
<rect x="279.54" y="351.99" width="8.12" height="6.30" fill="#101083" />
<rect x="287.16" y="351.99" width="8.12" height="6.30" fill="#a0a0a0" />
<rect x="294.78" y="351.99" width="8.12" height="6.30" fill="#a0a0a0" />
<rect x="302.40" y="351.99" width="8.12" height="6.30" fill="#aeae88" />
<rect x="310.02" y="351.99" width="8.12" height="6.30" fill="#b7b778" />
<rect x="317.64" y="351.99" width="8.12" height="6.30" fill="#707096" />
<rect x="325.26" y="351.99" width="8.12" height="6.30" fill="#bcbc70" />
<rect x="332.88" y="351.99" width="8.12" height="6.30" fill="#b7b778" />
<rect x="340.50" y="351.99" width="8.12" height="6.30" fill="#d9d940" />
<rect x="348.12" y="351.99" width="8.12" height="6.30" fill="#cfcf50" />
<rect x="355.74" y="351.99" width="8.12" height="6.30" fill="#b7b778" />
<rect x="363.36" y="351.99" width="8.12" height="6.30" fill="#a9a990" />
<rect x="370.98" y="351.99" width="8.12" height="6.30" fill="#a0a0a0" />
<rect x="378.60" y="351.99" width="8.12" height="6.30" fill="#a0a0a0" />
<rect x="386.22" y="351.99" width="8.12" height="6.30" fill="#c1c168" />
<rect x="393.84" y="351.99" width="8.12" height="6.30" fill="#a9a990" />
<rect x="401.46" y="351.99" width="8.12" height="6.30" fill="#c6c660" />
<rect x="409.08" y="351.99" width="8.12" height="6.30" fill="#b7b778" />
<rect x="264.30" y="357.78" width="8.12" height="6.30" fill="#282888" />
<rect x="271.92" y="357.78" width="8.12" height="6.30" fill="#505090" />
<rect x="279.54" y="357.78" width="8.12" height="6.30" fill="#000080" />
<rect x="287.16" y="357.78" width="8.12" height="6.30" fill="#686894" />
<rect x="294.78" y="357.78" width="8.12" height="6.30" fill="#a0a0a0" />
<rect x="302.40" y="357.78" width="8.12" height="6.30" fill="#b3b380" />
<rect x="310.02" y="357.78" width="8.12" height="6.30" fill="#a9a990" />
<rect x="317.64" y="357.78" width="8.12" height="6.30" fill="#c1c168" />
<rect x="325.26" y="357.78" width="8.12" height="6.30" fill="#b3b380" />
<rect x="332.88" y="357.78" width="8.12" height="6.30" fill="#c6c660" />
<rect x="340.50" y="357.78" width="8.12" height="6.30" fill="#c6c660" />
<rect x="348.12" y="357.78" width="8.12" height="6.30" fill="#b3b380" />
<rect x="355.74" y="357.78" width="8.12" height="6.30" fill="#b7b778" />
<rect x="363.36" y="357.78" width="8.12" height="6.30" fill="#88889b" />
<rect x="370.98" y="357.78" width="8.12" height="6.30" fill="#707096" />
<rect x="378.60" y="357.78" width="8.12" height="6.30" fill="#bcbc70" />
<rect x="386.22" y="357.78" width="8.12" height="6.30" fill="#b7b778" />
<rect x="393.84" y="357.78" width="8.12" height="6.30" fill="#b3b380" />
<rect x="401.46" y="357.78" width="8.12" height="6.30" fill="#c6c660" />
<rect x="409.08" y="357.78" width="8.12" height="6.30" fill="#c1c168" />
<rect x="264.30" y="363.58" width="8.12" height="6.30" fill="#000080" />
<rect x="271.92" y="363.58" width="8.12" height="6.30" fill="#000080" />
<rect x="279.54" y="363.58" width="8.12" height="6.30" fill="#202086" />
<rect x="287.16" y="363.58" width="8.12" height="6.30" fill="#b7b778" />
<rect x="294.78" y="363.58" width="8.12" height="6.30" fill="#a0a0a0" />
<rect x="302.40" y="363.58" width="8.12" height="6.30" fill="#aeae88" />
<rect x="310.02" y="363.58" width="8.12" height="6.30" fill="#787898" />
<rect x="317.64" y="363.58" width="8.12" height="6.30" fill="#787898" />
<rect x="325.26" y="363.58" width="8.12" height="6.30" fill="#a9a990" />
<rect x="332.88" y="363.58" width="8.12" height="6.30" fill="#d9d940" />
<rect x="340.50" y="363.58" width="8.12" height="6.30" fill="#d9d940" />
<rect x="348.12" y="363.58" width="8.12" height="6.30" fill="#bcbc70" />
<rect x="355.74" y="363.58" width="8.12" height="6.30" fill="#a4a498" />
<rect x="363.36" y="363.58" width="8.12" height="6.30" fill="#505090" />
<rect x="370.98" y="363.58" width="8.12" height="6.30" fill="#98989e" />
<rect x="378.60" y="363.58" width="8.12" height="6.30" fill="#aeae88" />
<rect x="386.22" y="363.58" width="8.12" height="6.30" fill="#b7b778" />
<rect x="393.84" y="363.58" width="8.12" height="6.30" fill="#cfcf50" />
<rect x="401.46" y="363.58" width="8.12" height="6.30" fill="#d9d940" />
<rect x="409.08" y="363.58" width="8.12" height="6.30" fill="#b7b778" />
<rect x="264.30" y="369.37" width="8.12" height="6.30" fill="#000080" />
<rect x="271.92" y="369.37" width="8.12" height="6.30" fill="#101083" />
<rect x="279.54" y="369.37" width="8.12" height="6.30" fill="#707096" />
<rect x="287.16" y="369.37" width="8.12" height="6.30" fill="#b7b778" />
<rect x="294.78" y="369.37" width="8.12" height="6.30" fill="#a4a498" />
<rect x="302.40" y="369.37" width="8.12" height="6.30" fill="#aeae88" />
<rect x="310.02" y="369.37" width="8.12" height="6.30" fill="#b3b380" />
<rect x="317.64" y="369.37" width="8.12" height="6.30" fill="#000080" />
<rect x="325.26" y="369.37" width="8.12" height="6.30" fill="#88889b" />
<rect x="332.88" y="369.37" width="8.12" height="6.30" fill="#c6c660" />
<rect x="340.50" y="369.37" width="8.12" height="6.30" fill="#c6c660" />
<rect x="348.12" y="369.37" width="8.12" height="6.30" fill="#bcbc70" />
<rect x="355.74" y="369.37" width="8.12" height="6.30" fill="#aeae88" />
<rect x="363.36" y="369.37" width="8.12" height="6.30" fill="#a0a0a0" />
<rect x="370.98" y="369.37" width="8.12" height="6.30" fill="#c6c660" />
<rect x="378.60" y="369.37" width="8.12" height="6.30" fill="#a4a498" />
<rect x="386.22" y="369.37" width="8.12" height="6.30" fill="#b7b778" />
<rect x="393.84" y="369.37" width="8.12" height="6.30" fill="#cfcf50" />
<rect x="401.46" y="369.37" width="8.12" height="6.30" fill="#c6c660" />
<rect x="409.08" y="369.37" width="8.12" height="6.30" fill="#aeae88" />
<rect x="264.30" y="375.17" width="8.12" height="6.30" fill="#282888" />
<rect x="271.92" y="375.17" width="8.12" height="6.30" fill="#000080" />
<rect x="279.54" y="375.17" width="8.12" height="6.30" fill="#40408c" />
<rect x="287.16" y="375.17" width="8.12" height="6.30" fill="#b7b778" />
<rect x="294.78" y="375.17" width="8.12" height="6.30" fill="#707096" />
<rect x="302.40" y="375.17" width="8.12" height="6.30" fill="#c1c168" />
<rect x="310.02" y="375.17" width="8.12" height="6.30" fill="#a9a990" />
<rect x="317.64" y="375.17" width="8.12" height="6.30" fill="#000080" />
<rect x="325.26" y="375.17" width="8.12" height="6.30" fill="#c6c660" />
<rect x="332.88" y="375.17" width="8.12" height="6.30" fill="#cfcf50" />
<rect x="340.50" y="375.17" width="8.12" height="6.30" fill="#cfcf50" />
<rect x="348.12" y="375.17" width="8.12" height="6.30" fill="#bcbc70" />
<rect x="355.74" y="375.17" width="8.12" height="6.30" fill="#808099" />
<rect x="363.36" y="375.17" width="8.12" height="6.30" fill="#808099" />
<rect x="370.98" y="375.17" width="8.12" height="6.30" fill="#88889b" />
<rect x="378.60" y="375.17" width="8.12" height="6.30" fill="#aeae88" />
<rect x="386.22" y="375.17" width="8.12" height="6.30" fill="#b3b380" />
<rect x="393.84" y="375.17" width="8.12" height="6.30" fill="#cfcf50" />
<rect x="401.46" y="375.17" width="8.12" height="6.30" fill="#b7b778" />
<rect x="409.08" y="375.17" width="8.12" height="6.30" fill="#c1c168" />
<rect x="264.30" y="380.96" width="8.12" height="6.30" fill="#505090" />
<rect x="271.92" y="380.96" width="8.12" height="6.30" fill="#40408c" />
<rect x="279.54" y="380.96" width="8.12" height="6.30" fill="#000080" />
<rect x="287.16" y="380.96" width="8.12" height="6.30" fill="#707096" />
<rect x="294.78" y="380.96" width="8.12" height="6.30" fill="#787898" />
<rect x="302.40" y="380.96" width="8.12" height="6.30" fill="#aeae88" />
<rect x="310.02" y="380.96" width="8.12" height="6.30" fill="#c6c660" />
<rect x="317.64" y="380.96" width="8.12" height="6.30" fill="#202086" />
<rect x="325.26" y="380.96" width="8.12" height="6.30" fill="#b7b778" />
<rect x="332.88" y="380.96" width="8.12" height="6.30" fill="#c1c168" />
<rect x="340.50" y="380.96" width="8.12" height="6.30" fill="#e7e728" />
<rect x="348.12" y="380.96" width="8.12" height="6.30" fill="#cfcf50" />
<rect x="355.74" y="380.96" width="8.12" height="6.30" fill="#a0a0a0" />
<rect x="363.36" y="380.96" width="8.12" height="6.30" fill="#808099" />
<rect x="370.98" y="380.96" width="8.12" height="6.30" fill="#b7b778" />
<rect x="378.60" y="380.96" width="8.12" height="6.30" fill="#808099" />
<rect x="386.22" y="380.96" width="8.12" height="6.30" fill="#b7b778" />
<rect x="393.84" y="380.96" width="8.12" height="6.30" fill="#c1c168" />
<rect x="401.46" y="380.96" width="8.12" height="6.30" fill="#cfcf50" />
<rect x="409.08" y="380.96" width="8.12" height="6.30" fill="#cfcf50" />
<rect x="264.30" y="386.76" width="8.12" height="6.30" fill="#686894" />
<rect x="271.92" y="386.76" width="8.12" height="6.30" fill="#40408c" />
<rect x="279.54" y="386.76" width="8.12" height="6.30" fill="#000080" />
<rect x="287.16" y="386.76" width="8.12" height="6.30" fill="#cfcf50" />
<rect x="294.78" y="386.76" width="8.12" height="6.30" fill="#a0a0a0" />
<rect x="302.40" y="386.76" width="8.12" height="6.30" fill="#787898" />
<rect x="310.02" y="386.76" width="8.12" height="6.30" fill="#40408c" />
<rect x="317.64" y="386.76" width="8.12" height="6.30" fill="#787898" />
<rect x="325.26" y="386.76" width="8.12" height="6.30" fill="#c1c168" />
<rect x="332.88" y="386.76" width="8.12" height="6.30" fill="#b7b778" />
<rect x="340.50" y="386.76" width="8.12" height="6.30" fill="#f5f510" />
<rect x="348.12" y="386.76" width="8.12" height="6.30" fill="#ecec20" />
<rect x="355.74" y="386.76" width="8.12" height="6.30" fill="#a0a0a0" />
<rect x="363.36" y="386.76" width="8.12" height="6.30" fill="#606093" />
<rect x="370.98" y="386.76" width="8.12" height="6.30" fill="#aeae88" />
<rect x="378.60" y="386.76" width="8.12" height="6.30" fill="#101083" />
<rect x="386.22" y="386.76" width="8.12" height="6.30" fill="#a9a990" />
<rect x="393.84" y="386.76" width="8.12" height="6.30" fill="#b7b778" />
<rect x="401.46" y="386.76" width="8.12" height="6.30" fill="#e2e230" />
<rect x="409.08" y="386.76" width="8.12" height="6.30" fill="#a0a0a0" />
<rect x="264.30" y="392.55" width="8.12" height="6.30" fill="#40408c" />
<rect x="271.92" y="392.55" width="8.12" height="6.30" fill="#282888" />
<rect x="279.54" y="392.55" width="8.12" height="6.30" fill="#787898" />
<rect x="287.16" y="392.55" width="8.12" height="6.30" fill="#b3b380" />
<rect x="294.78" y="392.55" width="8.12" height="6.30" fill="#f5f510" />
<rect x="302.40" y="392.55" width="8.12" height="6.30" fill="#a4a498" />
<rect x="310.02" y="392.55" width="8.12" height="6.30" fill="#a9a990" />
<rect x="317.64" y="392.55" width="8.12" height="6.30" fill="#686894" />
<rect x="325.26" y="392.55" width="8.12" height="6.30" fill="#88889b" />
<rect x="332.88" y="392.55" width="8.12" height="6.30" fill="#a0a0a0" />
<rect x="340.50" y="392.55" width="8.12" height="6.30" fill="#707096" />
<rect x="348.12" y="392.55" width="8.12" height="6.30" fill="#686894" />
<rect x="355.74" y="392.55" width="8.12" height="6.30" fill="#b7b778" />
<rect x="363.36" y="392.55" width="8.12" height="6.30" fill="#a9a990" />
<rect x="370.98" y="392.55" width="8.12" height="6.30" fill="#a9a990" />
<rect x="378.60" y="392.55" width="8.12" height="6.30" fill="#a0a0a0" />
<rect x="386.22" y="392.55" width="8.12" height="6.30" fill="#aeae88" />
<rect x="393.84" y="392.55" width="8.12" height="6.30" fill="#787898" />
<rect x="401.46" y="392.55" width="8.12" height="6.30" fill="#b7b778" />
<rect x="409.08" y="392.55" width="8.12" height="6.30" fill="#a0a0a0" />
<rect x="264.30" y="398.35" width="8.12" height="6.30" fill="#686894" />
<rect x="271.92" y="398.35" width="8.12" height="6.30" fill="#000080" />
<rect x="279.54" y="398.35" width="8.12" height="6.30" fill="#88889b" />
<rect x="287.16" y="398.35" width="8.12" height="6.30" fill="#c6c660" />
<rect x="294.78" y="398.35" width="8.12" height="6.30" fill="#b7b778" />
<rect x="302.40" y="398.35" width="8.12" height="6.30" fill="#aeae88" />
<rect x="310.02" y="398.35" width="8.12" height="6.30" fill="#b7b778" />
<rect x="317.64" y="398.35" width="8.12" height="6.30" fill="#a9a990" />
<rect x="325.26" y="398.35" width="8.12" height="6.30" fill="#c6c660" />
<rect x="332.88" y="398.35" width="8.12" height="6.30" fill="#c6c660" />
<rect x="340.50" y="398.35" width="8.12" height="6.30" fill="#b7b778" />
<rect x="348.12" y="398.35" width="8.12" height="6.30" fill="#202086" />
<rect x="355.74" y="398.35" width="8.12" height="6.30" fill="#000080" />
<rect x="363.36" y="398.35" width="8.12" height="6.30" fill="#aeae88" />
<rect x="370.98" y="398.35" width="8.12" height="6.30" fill="#aeae88" />
<rect x="378.60" y="398.35" width="8.12" height="6.30" fill="#aeae88" />
<rect x="386.22" y="398.35" width="8.12" height="6.30" fill="#bcbc70" />
<rect x="393.84" y="398.35" width="8.12" height="6.30" fill="#bcbc70" />
<rect x="401.46" y="398.35" width="8.12" height="6.30" fill="#bcbc70" />
<rect x="409.08" y="398.35" width="8.12" height="6.30" fill="#bcbc70" />
<rect x="264.30" y="404.14" width="8.12" height="6.30" fill="#38388b" />
<rect x="271.92" y="404.14" width="8.12" height="6.30" fill="#90909c" />
<rect x="279.54" y="404.14" width="8.12" height="6.30" fill="#000080" />
<rect x="287.16" y="404.14" width="8.12" height="6.30" fill="#000080" />
<rect x="294.78" y="404.14" width="8.12" height="6.30" fill="#aeae88" />
<rect x="302.40" y="404.14" width="8.12" height="6.30" fill="#606093" />
<rect x="310.02" y="404.14" width="8.12" height="6.30" fill="#88889b" />
<rect x="317.64" y="404.14" width="8.12" height="6.30" fill="#d9d940" />
<rect x="325.26" y="404.14" width="8.12" height="6.30" fill="#a0a0a0" />
<rect x="332.88" y="404.14" width="8.12" height="6.30" fill="#787898" />
<rect x="340.50" y="404.14" width="8.12" height="6.30" fill="#787898" />
<rect x="348.12" y="404.14" width="8.12" height="6.30" fill="#90909c" />
<rect x="355.74" y="404.14" width="8.12" height="6.30" fill="#d9d940" />
<rect x="363.36" y="404.14" width="8.12" height="6.30" fill="#b7b778" />
<rect x="370.98" y="404.14" width="8.12" height="6.30" fill="#cfcf50" />
<rect x="378.60" y="404.14" width="8.12" height="6.30" fill="#cfcf50" />
<rect x="386.22" y="404.14" width="8.12" height="6.30" fill="#c1c168" />
<rect x="393.84" y="404.14" width="8.12" height="6.30" fill="#88889b" />
<rect x="401.46" y="404.14" width="8.12" height="6.30" fill="#b7b778" />
<rect x="409.08" y="404.14" width="8.12" height="6.30" fill="#bcbc70" />
<rect x="264.30" y="409.94" width="8.12" height="6.30" fill="#38388b" />
<rect x="271.92" y="409.94" width="8.12" height="6.30" fill="#707096" />
<rect x="279.54" y="409.94" width="8.12" height="6.30" fill="#000080" />
<rect x="287.16" y="409.94" width="8.12" height="6.30" fill="#101083" />
<rect x="294.78" y="409.94" width="8.12" height="6.30" fill="#a0a0a0" />
<rect x="302.40" y="409.94" width="8.12" height="6.30" fill="#606093" />
<rect x="310.02" y="409.94" width="8.12" height="6.30" fill="#b7b778" />
<rect x="317.64" y="409.94" width="8.12" height="6.30" fill="#d9d940" />
<rect x="325.26" y="409.94" width="8.12" height="6.30" fill="#a0a0a0" />
<rect x="332.88" y="409.94" width="8.12" height="6.30" fill="#88889b" />
<rect x="340.50" y="409.94" width="8.12" height="6.30" fill="#90909c" />
<rect x="348.12" y="409.94" width="8.12" height="6.30" fill="#aeae88" />
<rect x="355.74" y="409.94" width="8.12" height="6.30" fill="#d9d940" />
<rect x="363.36" y="409.94" width="8.12" height="6.30" fill="#b7b778" />
<rect x="370.98" y="409.94" width="8.12" height="6.30" fill="#c6c660" />
<rect x="378.60" y="409.94" width="8.12" height="6.30" fill="#b7b778" />
<rect x="386.22" y="409.94" width="8.12" height="6.30" fill="#b7b778" />
<rect x="393.84" y="409.94" width="8.12" height="6.30" fill="#808099" />
<rect x="401.46" y="409.94" width="8.12" height="6.30" fill="#b7b778" />
<rect x="409.08" y="409.94" width="8.12" height="6.30" fill="#bcbc70" />
<rect x="264.30" y="415.73" width="8.12" height="6.30" fill="#282888" />
<rect x="271.92" y="415.73" width="8.12" height="6.30" fill="#282888" />
<rect x="279.54" y="415.73" width="8.12" height="6.30" fill="#40408c" />
<rect x="287.16" y="415.73" width="8.12" height="6.30" fill="#000080" />
<rect x="294.78" y="415.73" width="8.12" height="6.30" fill="#686894" />
<rect x="302.40" y="415.73" width="8.12" height="6.30" fill="#88889b" />
<rect x="310.02" y="415.73" width="8.12" height="6.30" fill="#c6c660" />
<rect x="317.64" y="415.73" width="8.12" height="6.30" fill="#c6c660" />
<rect x="325.26" y="415.73" width="8.12" height="6.30" fill="#a9a990" />
<rect x="332.88" y="415.73" width="8.12" height="6.30" fill="#787898" />
<rect x="340.50" y="415.73" width="8.12" height="6.30" fill="#b3b380" />
<rect x="348.12" y="415.73" width="8.12" height="6.30" fill="#b3b380" />
<rect x="355.74" y="415.73" width="8.12" height="6.30" fill="#b7b778" />
<rect x="363.36" y="415.73" width="8.12" height="6.30" fill="#a9a990" />
<rect x="370.98" y="415.73" width="8.12" height="6.30" fill="#bcbc70" />
<rect x="378.60" y="415.73" width="8.12" height="6.30" fill="#bcbc70" />
<rect x="386.22" y="415.73" width="8.12" height="6.30" fill="#dddd38" />
<rect x="393.84" y="415.73" width="8.12" height="6.30" fill="#a4a498" />
<rect x="401.46" y="415.73" width="8.12" height="6.30" fill="#b7b778" />
<rect x="409.08" y="415.73" width="8.12" height="6.30" fill="#bcbc70" />
<rect x="264.30" y="421.53" width="8.12" height="6.30" fill="#38388b" />
<rect x="271.92" y="421.53" width="8.12" height="6.30" fill="#98989e" />
<rect x="279.54" y="421.53" width="8.12" height="6.30" fill="#000080" />
<rect x="287.16" y="421.53" width="8.12" height="6.30" fill="#202086" />
<rect x="294.78" y="421.53" width="8.12" height="6.30" fill="#cfcf50" />
<rect x="302.40" y="421.53" width="8.12" height="6.30" fill="#a0a0a0" />
<rect x="310.02" y="421.53" width="8.12" height="6.30" fill="#a0a0a0" />
<rect x="317.64" y="421.53" width="8.12" height="6.30" fill="#b7b778" />
<rect x="325.26" y="421.53" width="8.12" height="6.30" fill="#cfcf50" />
<rect x="332.88" y="421.53" width="8.12" height="6.30" fill="#cfcf50" />
<rect x="340.50" y="421.53" width="8.12" height="6.30" fill="#88889b" />
<rect x="348.12" y="421.53" width="8.12" height="6.30" fill="#dddd38" />
<rect x="355.74" y="421.53" width="8.12" height="6.30" fill="#a4a498" />
<rect x="363.36" y="421.53" width="8.12" height="6.30" fill="#cfcf50" />
<rect x="370.98" y="421.53" width="8.12" height="6.30" fill="#98989e" />
<rect x="378.60" y="421.53" width="8.12" height="6.30" fill="#98989e" />
<rect x="386.22" y="421.53" width="8.12" height="6.30" fill="#a0a0a0" />
<rect x="393.84" y="421.53" width="8.12" height="6.30" fill="#707096" />
<rect x="401.46" y="421.53" width="8.12" height="6.30" fill="#707096" />
<rect x="409.08" y="421.53" width="8.12" height="6.30" fill="#cfcf50" />
<rect x="264.30" y="427.33" width="8.12" height="6.30" fill="#707096" />
<rect x="271.92" y="427.33" width="8.12" height="6.30" fill="#a0a0a0" />
<rect x="279.54" y="427.33" width="8.12" height="6.30" fill="#b7b778" />
<rect x="287.16" y="427.33" width="8.12" height="6.30" fill="#303089" />
<rect x="294.78" y="427.33" width="8.12" height="6.30" fill="#cfcf50" />
<rect x="302.40" y="427.33" width="8.12" height="6.30" fill="#101083" />
<rect x="310.02" y="427.33" width="8.12" height="6.30" fill="#686894" />
<rect x="317.64" y="427.33" width="8.12" height="6.30" fill="#88889b" />
<rect x="325.26" y="427.33" width="8.12" height="6.30" fill="#282888" />
<rect x="332.88" y="427.33" width="8.12" height="6.30" fill="#88889b" />
<rect x="340.50" y="427.33" width="8.12" height="6.30" fill="#a9a990" />
<rect x="348.12" y="427.33" width="8.12" height="6.30" fill="#a0a0a0" />
<rect x="355.74" y="427.33" width="8.12" height="6.30" fill="#505090" />
<rect x="363.36" y="427.33" width="8.12" height="6.30" fill="#aeae88" />
<rect x="370.98" y="427.33" width="8.12" height="6.30" fill="#a4a498" />
<rect x="378.60" y="427.33" width="8.12" height="6.30" fill="#b7b778" />
<rect x="386.22" y="427.33" width="8.12" height="6.30" fill="#787898" />
<rect x="393.84" y="427.33" width="8.12" height="6.30" fill="#f5f510" />
<rect x="401.46" y="427.33" width="8.12" height="6.30" fill="#caca58" />
<rect x="409.08" y="427.33" width="8.12" height="6.30" fill="#cfcf50" />
<rect x="264.30" y="433.12" width="8.12" height="6.30" fill="#101083" />
<rect x="271.92" y="433.12" width="8.12" height="6.30" fill="#202086" />
<rect x="279.54" y="433.12" width="8.12" height="6.30" fill="#ecec20" />
<rect x="287.16" y="433.12" width="8.12" height="6.30" fill="#303089" />
<rect x="294.78" y="433.12" width="8.12" height="6.30" fill="#a0a0a0" />
<rect x="302.40" y="433.12" width="8.12" height="6.30" fill="#606093" />
<rect x="310.02" y="433.12" width="8.12" height="6.30" fill="#a0a0a0" />
<rect x="317.64" y="433.12" width="8.12" height="6.30" fill="#ecec20" />
<rect x="325.26" y="433.12" width="8.12" height="6.30" fill="#606093" />
<rect x="332.88" y="433.12" width="8.12" height="6.30" fill="#787898" />
<rect x="340.50" y="433.12" width="8.12" height="6.30" fill="#707096" />
<rect x="348.12" y="433.12" width="8.12" height="6.30" fill="#a0a0a0" />
<rect x="355.74" y="433.12" width="8.12" height="6.30" fill="#d9d940" />
<rect x="363.36" y="433.12" width="8.12" height="6.30" fill="#a0a0a0" />
<rect x="370.98" y="433.12" width="8.12" height="6.30" fill="#c6c660" />
<rect x="378.60" y="433.12" width="8.12" height="6.30" fill="#cfcf50" />
<rect x="386.22" y="433.12" width="8.12" height="6.30" fill="#a0a0a0" />
<rect x="393.84" y="433.12" width="8.12" height="6.30" fill="#b7b778" />
<rect x="401.46" y="433.12" width="8.12" height="6.30" fill="#b3b380" />
<rect x="409.08" y="433.12" width="8.12" height="6.30" fill="#aeae88" />
<rect x="264.30" y="438.92" width="8.12" height="6.30" fill="#101083" />
<rect x="271.92" y="438.92" width="8.12" height="6.30" fill="#787898" />
<rect x="279.54" y="438.92" width="8.12" height="6.30" fill="#90909c" />
<rect x="287.16" y="438.92" width="8.12" height="6.30" fill="#505090" />
<rect x="294.78" y="438.92" width="8.12" height="6.30" fill="#a0a0a0" />
<rect x="302.40" y="438.92" width="8.12" height="6.30" fill="#88889b" />
<rect x="310.02" y="438.92" width="8.12" height="6.30" fill="#cfcf50" />
<rect x="317.64" y="438.92" width="8.12" height="6.30" fill="#a0a0a0" />
<rect x="325.26" y="438.92" width="8.12" height="6.30" fill="#101083" />
<rect x="332.88" y="438.92" width="8.12" height="6.30" fill="#40408c" />
<rect x="340.50" y="438.92" width="8.12" height="6.30" fill="#bcbc70" />
<rect x="348.12" y="438.92" width="8.12" height="6.30" fill="#dddd38" />
<rect x="355.74" y="438.92" width="8.12" height="6.30" fill="#bcbc70" />
<rect x="363.36" y="438.92" width="8.12" height="6.30" fill="#606093" />
<rect x="370.98" y="438.92" width="8.12" height="6.30" fill="#707096" />
<rect x="378.60" y="438.92" width="8.12" height="6.30" fill="#aeae88" />
<rect x="386.22" y="438.92" width="8.12" height="6.30" fill="#e7e728" />
<rect x="393.84" y="438.92" width="8.12" height="6.30" fill="#c6c660" />
<rect x="401.46" y="438.92" width="8.12" height="6.30" fill="#cfcf50" />
<rect x="409.08" y="438.92" width="8.12" height="6.30" fill="#cfcf50" />
<rect x="264.30" y="444.71" width="8.12" height="6.30" fill="#505090" />
<rect x="271.92" y="444.71" width="8.12" height="6.30" fill="#ecec20" />
<rect x="279.54" y="444.71" width="8.12" height="6.30" fill="#000080" />
<rect x="287.16" y="444.71" width="8.12" height="6.30" fill="#b7b778" />
<rect x="294.78" y="444.71" width="8.12" height="6.30" fill="#b3b380" />
<rect x="302.40" y="444.71" width="8.12" height="6.30" fill="#e7e728" />
<rect x="310.02" y="444.71" width="8.12" height="6.30" fill="#88889b" />
<rect x="317.64" y="444.71" width="8.12" height="6.30" fill="#b3b380" />
<rect x="325.26" y="444.71" width="8.12" height="6.30" fill="#40408c" />
<rect x="332.88" y="444.71" width="8.12" height="6.30" fill="#a0a0a0" />
<rect x="340.50" y="444.71" width="8.12" height="6.30" fill="#88889b" />
<rect x="348.12" y="444.71" width="8.12" height="6.30" fill="#606093" />
<rect x="355.74" y="444.71" width="8.12" height="6.30" fill="#a0a0a0" />
<rect x="363.36" y="444.71" width="8.12" height="6.30" fill="#88889b" />
<rect x="370.98" y="444.71" width="8.12" height="6.30" fill="#101083" />
<rect x="378.60" y="444.71" width="8.12" height="6.30" fill="#b7b778" />
<rect x="386.22" y="444.71" width="8.12" height="6.30" fill="#b3b380" />
<rect x="393.84" y="444.71" width="8.12" height="6.30" fill="#585891" />
<rect x="401.46" y="444.71" width="8.12" height="6.30" fill="#a4a498" />
<rect x="409.08" y="444.71" width="8.12" height="6.30" fill="#b7b778" />
<rect x="264.30" y="450.51" width="8.12" height="6.30" fill="#ecec20" />
<rect x="271.92" y="450.51" width="8.12" height="6.30" fill="#ecec20" />
<rect x="279.54" y="450.51" width="8.12" height="6.30" fill="#606093" />
<rect x="287.16" y="450.51" width="8.12" height="6.30" fill="#505090" />
<rect x="294.78" y="450.51" width="8.12" height="6.30" fill="#a9a990" />
<rect x="302.40" y="450.51" width="8.12" height="6.30" fill="#88889b" />
<rect x="310.02" y="450.51" width="8.12" height="6.30" fill="#202086" />
<rect x="317.64" y="450.51" width="8.12" height="6.30" fill="#ecec20" />
<rect x="325.26" y="450.51" width="8.12" height="6.30" fill="#282888" />
<rect x="332.88" y="450.51" width="8.12" height="6.30" fill="#787898" />
<rect x="340.50" y="450.51" width="8.12" height="6.30" fill="#787898" />
<rect x="348.12" y="450.51" width="8.12" height="6.30" fill="#585891" />
<rect x="355.74" y="450.51" width="8.12" height="6.30" fill="#cfcf50" />
<rect x="363.36" y="450.51" width="8.12" height="6.30" fill="#a9a990" />
<rect x="370.98" y="450.51" width="8.12" height="6.30" fill="#808099" />
<rect x="378.60" y="450.51" width="8.12" height="6.30" fill="#b3b380" />
<rect x="386.22" y="450.51" width="8.12" height="6.30" fill="#90909c" />
<rect x="393.84" y="450.51" width="8.12" height="6.30" fill="#40408c" />
<rect x="401.46" y="450.51" width="8.12" height="6.30" fill="#aeae88" />
<rect x="409.08" y="450.51" width="8.12" height="6.30" fill="#b7b778" />
<rect x="264.30" y="456.30" width="8.12" height="6.30" fill="#f5f510" />
<rect x="271.92" y="456.30" width="8.12" height="6.30" fill="#f5f510" />
<rect x="279.54" y="456.30" width="8.12" height="6.30" fill="#90909c" />
<rect x="287.16" y="456.30" width="8.12" height="6.30" fill="#000080" />
<rect x="294.78" y="456.30" width="8.12" height="6.30" fill="#a0a0a0" />
<rect x="302.40" y="456.30" width="8.12" height="6.30" fill="#606093" />
<rect x="310.02" y="456.30" width="8.12" height="6.30" fill="#a9a990" />
<rect x="317.64" y="456.30" width="8.12" height="6.30" fill="#aeae88" />
<rect x="325.26" y="456.30" width="8.12" height="6.30" fill="#505090" />
<rect x="332.88" y="456.30" width="8.12" height="6.30" fill="#787898" />
<rect x="340.50" y="456.30" width="8.12" height="6.30" fill="#787898" />
<rect x="348.12" y="456.30" width="8.12" height="6.30" fill="#505090" />
<rect x="355.74" y="456.30" width="8.12" height="6.30" fill="#aeae88" />
<rect x="363.36" y="456.30" width="8.12" height="6.30" fill="#aeae88" />
<rect x="370.98" y="456.30" width="8.12" height="6.30" fill="#505090" />
<rect x="378.60" y="456.30" width="8.12" height="6.30" fill="#d9d940" />
<rect x="386.22" y="456.30" width="8.12" height="6.30" fill="#c1c168" />
<rect x="393.84" y="456.30" width="8.12" height="6.30" fill="#a0a0a0" />
<rect x="401.46" y="456.30" width="8.12" height="6.30" fill="#a0a0a0" />
<rect x="409.08" y="456.30" width="8.12" height="6.30" fill="#aeae88" />
<rect x="264.30" y="462.10" width="8.12" height="6.30" fill="#f5f510" />
<rect x="271.92" y="462.10" width="8.12" height="6.30" fill="#ecec20" />
<rect x="279.54" y="462.10" width="8.12" height="6.30" fill="#aeae88" />
<rect x="287.16" y="462.10" width="8.12" height="6.30" fill="#787898" />
<rect x="294.78" y="462.10" width="8.12" height="6.30" fill="#282888" />
<rect x="302.40" y="462.10" width="8.12" height="6.30" fill="#505090" />
<rect x="310.02" y="462.10" width="8.12" height="6.30" fill="#585891" />
<rect x="317.64" y="462.10" width="8.12" height="6.30" fill="#a9a990" />
<rect x="325.26" y="462.10" width="8.12" height="6.30" fill="#787898" />
<rect x="332.88" y="462.10" width="8.12" height="6.30" fill="#787898" />
<rect x="340.50" y="462.10" width="8.12" height="6.30" fill="#a4a498" />
<rect x="348.12" y="462.10" width="8.12" height="6.30" fill="#b7b778" />
<rect x="355.74" y="462.10" width="8.12" height="6.30" fill="#505090" />
<rect x="363.36" y="462.10" width="8.12" height="6.30" fill="#707096" />
<rect x="370.98" y="462.10" width="8.12" height="6.30" fill="#707096" />
<rect x="378.60" y="462.10" width="8.12" height="6.30" fill="#e7e728" />
<rect x="386.22" y="462.10" width="8.12" height="6.30" fill="#707096" />
<rect x="393.84" y="462.10" width="8.12" height="6.30" fill="#dddd38" />
<rect x="401.46" y="462.10" width="8.12" height="6.30" fill="#a4a498" />
<rect x="409.08" y="462.10" width="8.12" height="6.30" fill="#707096" />
<rect x="264.30" y="467.89" width="8.12" height="6.30" fill="#b3b380" />
<rect x="271.92" y="467.89" width="8.12" height="6.30" fill="#bcbc70" />
<rect x="279.54" y="467.89" width="8.12" height="6.30" fill="#f5f510" />
<rect x="287.16" y="467.89" width="8.12" height="6.30" fill="#aeae88" />
<rect x="294.78" y="467.89" width="8.12" height="6.30" fill="#505090" />
<rect x="302.40" y="467.89" width="8.12" height="6.30" fill="#b3b380" />
<rect x="310.02" y="467.89" width="8.12" height="6.30" fill="#787898" />
<rect x="317.64" y="467.89" width="8.12" height="6.30" fill="#aeae88" />
<rect x="325.26" y="467.89" width="8.12" height="6.30" fill="#a0a0a0" />
<rect x="332.88" y="467.89" width="8.12" height="6.30" fill="#bcbc70" />
<rect x="340.50" y="467.89" width="8.12" height="6.30" fill="#ecec20" />
<rect x="348.12" y="467.89" width="8.12" height="6.30" fill="#a0a0a0" />
<rect x="355.74" y="467.89" width="8.12" height="6.30" fill="#cfcf50" />
<rect x="363.36" y="467.89" width="8.12" height="6.30" fill="#a4a498" />
<rect x="370.98" y="467.89" width="8.12" height="6.30" fill="#101083" />
<rect x="378.60" y="467.89" width="8.12" height="6.30" fill="#202086" />
<rect x="386.22" y="467.89" width="8.12" height="6.30" fill="#000080" />
<rect x="393.84" y="467.89" width="8.12" height="6.30" fill="#90909c" />
<rect x="401.46" y="467.89" width="8.12" height="6.30" fill="#b3b380" />
<rect x="409.08" y="467.89" width="8.12" height="6.30" fill="#505090" />
<rect x="264.30" y="473.69" width="8.12" height="6.30" fill="#b3b380" />
<rect x="271.92" y="473.69" width="8.12" height="6.30" fill="#bcbc70" />
<rect x="279.54" y="473.69" width="8.12" height="6.30" fill="#e7e728" />
<rect x="287.16" y="473.69" width="8.12" height="6.30" fill="#b7b778" />
<rect x="294.78" y="473.69" width="8.12" height="6.30" fill="#000080" />
<rect x="302.40" y="473.69" width="8.12" height="6.30" fill="#90909c" />
<rect x="310.02" y="473.69" width="8.12" height="6.30" fill="#c6c660" />
<rect x="317.64" y="473.69" width="8.12" height="6.30" fill="#40408c" />
<rect x="325.26" y="473.69" width="8.12" height="6.30" fill="#aeae88" />
<rect x="332.88" y="473.69" width="8.12" height="6.30" fill="#c6c660" />
<rect x="340.50" y="473.69" width="8.12" height="6.30" fill="#d9d940" />
<rect x="348.12" y="473.69" width="8.12" height="6.30" fill="#cfcf50" />
<rect x="355.74" y="473.69" width="8.12" height="6.30" fill="#88889b" />
<rect x="363.36" y="473.69" width="8.12" height="6.30" fill="#505090" />
<rect x="370.98" y="473.69" width="8.12" height="6.30" fill="#000080" />
<rect x="378.60" y="473.69" width="8.12" height="6.30" fill="#202086" />
<rect x="386.22" y="473.69" width="8.12" height="6.30" fill="#bcbc70" />
<rect x="393.84" y="473.69" width="8.12" height="6.30" fill="#a0a0a0" />
<rect x="401.46" y="473.69" width="8.12" height="6.30" fill="#cfcf50" />
<rect x="409.08" y="473.69" width="8.12" height="6.30" fill="#bcbc70" />
<rect x="264.30" y="479.48" width="8.12" height="6.30" fill="#d9d940" />
<rect x="271.92" y="479.48" width="8.12" height="6.30" fill="#b7b778" />
<rect x="279.54" y="479.48" width="8.12" height="6.30" fill="#dddd38" />
<rect x="287.16" y="479.48" width="8.12" height="6.30" fill="#585891" />
<rect x="294.78" y="479.48" width="8.12" height="6.30" fill="#101083" />
<rect x="302.40" y="479.48" width="8.12" height="6.30" fill="#b7b778" />
<rect x="310.02" y="479.48" width="8.12" height="6.30" fill="#d9d940" />
<rect x="317.64" y="479.48" width="8.12" height="6.30" fill="#a9a990" />
<rect x="325.26" y="479.48" width="8.12" height="6.30" fill="#bcbc70" />
<rect x="332.88" y="479.48" width="8.12" height="6.30" fill="#b3b380" />
<rect x="340.50" y="479.48" width="8.12" height="6.30" fill="#dddd38" />
<rect x="348.12" y="479.48" width="8.12" height="6.30" fill="#bcbc70" />
<rect x="355.74" y="479.48" width="8.12" height="6.30" fill="#000080" />
<rect x="363.36" y="479.48" width="8.12" height="6.30" fill="#40408c" />
<rect x="370.98" y="479.48" width="8.12" height="6.30" fill="#606093" />
<rect x="378.60" y="479.48" width="8.12" height="6.30" fill="#303089" />
<rect x="386.22" y="479.48" width="8.12" height="6.30" fill="#bcbc70" />
<rect x="393.84" y="479.48" width="8.12" height="6.30" fill="#a9a990" />
<rect x="401.46" y="479.48" width="8.12" height="6.30" fill="#bcbc70" />
<rect x="409.08" y="479.48" width="8.12" height="6.30" fill="#686894" />
<rect x="264.30" y="485.28" width="8.12" height="6.30" fill="#d9d940" />
<rect x="271.92" y="485.28" width="8.12" height="6.30" fill="#cfcf50" />
<rect x="279.54" y="485.28" width="8.12" height="6.30" fill="#e7e728" />
<rect x="287.16" y="485.28" width="8.12" height="6.30" fill="#aeae88" />
<rect x="294.78" y="485.28" width="8.12" height="6.30" fill="#282888" />
<rect x="302.40" y="485.28" width="8.12" height="6.30" fill="#707096" />
<rect x="310.02" y="485.28" width="8.12" height="6.30" fill="#48488e" />
<rect x="317.64" y="485.28" width="8.12" height="6.30" fill="#303089" />
<rect x="325.26" y="485.28" width="8.12" height="6.30" fill="#bcbc70" />
<rect x="332.88" y="485.28" width="8.12" height="6.30" fill="#101083" />
<rect x="340.50" y="485.28" width="8.12" height="6.30" fill="#bcbc70" />
<rect x="348.12" y="485.28" width="8.12" height="6.30" fill="#000080" />
<rect x="355.74" y="485.28" width="8.12" height="6.30" fill="#dddd38" />
<rect x="363.36" y="485.28" width="8.12" height="6.30" fill="#a0a0a0" />
<rect x="370.98" y="485.28" width="8.12" height="6.30" fill="#787898" />
<rect x="378.60" y="485.28" width="8.12" height="6.30" fill="#b7b778" />
<rect x="386.22" y="485.28" width="8.12" height="6.30" fill="#bcbc70" />
<rect x="393.84" y="485.28" width="8.12" height="6.30" fill="#d4d448" />
<rect x="401.46" y="485.28" width="8.12" height="6.30" fill="#808099" />
<rect x="409.08" y="485.28" width="8.12" height="6.30" fill="#a0a0a0" />
<rect x="264.30" y="491.07" width="8.12" height="6.30" fill="#bcbc70" />
<rect x="271.92" y="491.07" width="8.12" height="6.30" fill="#cfcf50" />
<rect x="279.54" y="491.07" width="8.12" height="6.30" fill="#ecec20" />
<rect x="287.16" y="491.07" width="8.12" height="6.30" fill="#c6c660" />
<rect x="294.78" y="491.07" width="8.12" height="6.30" fill="#000080" />
<rect x="302.40" y="491.07" width="8.12" height="6.30" fill="#a4a498" />
<rect x="310.02" y="491.07" width="8.12" height="6.30" fill="#606093" />
<rect x="317.64" y="491.07" width="8.12" height="6.30" fill="#dddd38" />
<rect x="325.26" y="491.07" width="8.12" height="6.30" fill="#c6c660" />
<rect x="332.88" y="491.07" width="8.12" height="6.30" fill="#b7b778" />
<rect x="340.50" y="491.07" width="8.12" height="6.30" fill="#505090" />
<rect x="348.12" y="491.07" width="8.12" height="6.30" fill="#bcbc70" />
<rect x="355.74" y="491.07" width="8.12" height="6.30" fill="#bcbc70" />
<rect x="363.36" y="491.07" width="8.12" height="6.30" fill="#606093" />
<rect x="370.98" y="491.07" width="8.12" height="6.30" fill="#aeae88" />
<rect x="378.60" y="491.07" width="8.12" height="6.30" fill="#101083" />
<rect x="386.22" y="491.07" width="8.12" height="6.30" fill="#a4a498" />
<rect x="393.84" y="491.07" width="8.12" height="6.30" fill="#787898" />
<rect x="401.46" y="491.07" width="8.12" height="6.30" fill="#787898" />
<rect x="409.08" y="491.07" width="8.12" height="6.30" fill="#90909c" />
<rect x="264.30" y="496.87" width="8.12" height="6.30" fill="#b3b380" />
<rect x="271.92" y="496.87" width="8.12" height="6.30" fill="#a0a0a0" />
<rect x="279.54" y="496.87" width="8.12" height="6.30" fill="#f5f510" />
<rect x="287.16" y="496.87" width="8.12" height="6.30" fill="#cfcf50" />
<rect x="294.78" y="496.87" width="8.12" height="6.30" fill="#202086" />
<rect x="302.40" y="496.87" width="8.12" height="6.30" fill="#808099" />
<rect x="310.02" y="496.87" width="8.12" height="6.30" fill="#aeae88" />
<rect x="317.64" y="496.87" width="8.12" height="6.30" fill="#a4a498" />
<rect x="325.26" y="496.87" width="8.12" height="6.30" fill="#b7b778" />
<rect x="332.88" y="496.87" width="8.12" height="6.30" fill="#dddd38" />
<rect x="340.50" y="496.87" width="8.12" height="6.30" fill="#e2e230" />
<rect x="348.12" y="496.87" width="8.12" height="6.30" fill="#d9d940" />
<rect x="355.74" y="496.87" width="8.12" height="6.30" fill="#505090" />
<rect x="363.36" y="496.87" width="8.12" height="6.30" fill="#a0a0a0" />
<rect x="370.98" y="496.87" width="8.12" height="6.30" fill="#b3b380" />
<rect x="378.60" y="496.87" width="8.12" height="6.30" fill="#40408c" />
<rect x="386.22" y="496.87" width="8.12" height="6.30" fill="#a0a0a0" />
<rect x="393.84" y="496.87" width="8.12" height="6.30" fill="#505090" />
<rect x="401.46" y="496.87" width="8.12" height="6.30" fill="#505090" />
<rect x="409.08" y="496.87" width="8.12" height="6.30" fill="#606093" />
<rect x="264.30" y="502.67" width="8.12" height="6.30" fill="#d9d940" />
<rect x="271.92" y="502.67" width="8.12" height="6.30" fill="#cfcf50" />
<rect x="279.54" y="502.67" width="8.12" height="6.30" fill="#f5f510" />
<rect x="287.16" y="502.67" width="8.12" height="6.30" fill="#a0a0a0" />
<rect x="294.78" y="502.67" width="8.12" height="6.30" fill="#000080" />
<rect x="302.40" y="502.67" width="8.12" height="6.30" fill="#a4a498" />
<rect x="310.02" y="502.67" width="8.12" height="6.30" fill="#bcbc70" />
<rect x="317.64" y="502.67" width="8.12" height="6.30" fill="#90909c" />
<rect x="325.26" y="502.67" width="8.12" height="6.30" fill="#bcbc70" />
<rect x="332.88" y="502.67" width="8.12" height="6.30" fill="#cfcf50" />
<rect x="340.50" y="502.67" width="8.12" height="6.30" fill="#b7b778" />
<rect x="348.12" y="502.67" width="8.12" height="6.30" fill="#b7b778" />
<rect x="355.74" y="502.67" width="8.12" height="6.30" fill="#88889b" />
<rect x="363.36" y="502.67" width="8.12" height="6.30" fill="#88889b" />
<rect x="370.98" y="502.67" width="8.12" height="6.30" fill="#a0a0a0" />
<rect x="378.60" y="502.67" width="8.12" height="6.30" fill="#40408c" />
<rect x="386.22" y="502.67" width="8.12" height="6.30" fill="#202086" />
<rect x="393.84" y="502.67" width="8.12" height="6.30" fill="#a0a0a0" />
<rect x="401.46" y="502.67" width="8.12" height="6.30" fill="#88889b" />
<rect x="409.08" y="502.67" width="8.12" height="6.30" fill="#606093" />
<rect x="264.30" y="508.46" width="8.12" height="6.30" fill="#c6c660" />
<rect x="271.92" y="508.46" width="8.12" height="6.30" fill="#c6c660" />
<rect x="279.54" y="508.46" width="8.12" height="6.30" fill="#e7e728" />
<rect x="287.16" y="508.46" width="8.12" height="6.30" fill="#f5f510" />
<rect x="294.78" y="508.46" width="8.12" height="6.30" fill="#606093" />
<rect x="302.40" y="508.46" width="8.12" height="6.30" fill="#d9d940" />
<rect x="310.02" y="508.46" width="8.12" height="6.30" fill="#90909c" />
<rect x="317.64" y="508.46" width="8.12" height="6.30" fill="#a0a0a0" />
<rect x="325.26" y="508.46" width="8.12" height="6.30" fill="#d9d940" />
<rect x="332.88" y="508.46" width="8.12" height="6.30" fill="#bcbc70" />
<rect x="340.50" y="508.46" width="8.12" height="6.30" fill="#a0a0a0" />
<rect x="348.12" y="508.46" width="8.12" height="6.30" fill="#90909c" />
<rect x="355.74" y="508.46" width="8.12" height="6.30" fill="#505090" />
<rect x="363.36" y="508.46" width="8.12" height="6.30" fill="#b3b380" />
<rect x="370.98" y="508.46" width="8.12" height="6.30" fill="#a0a0a0" />
<rect x="378.60" y="508.46" width="8.12" height="6.30" fill="#40408c" />
<rect x="386.22" y="508.46" width="8.12" height="6.30" fill="#505090" />
<rect x="393.84" y="508.46" width="8.12" height="6.30" fill="#303089" />
<rect x="401.46" y="508.46" width="8.12" height="6.30" fill="#40408c" />
<rect x="409.08" y="508.46" width="8.12" height="6.30" fill="#505090" />
<rect x="264.30" y="514.26" width="8.12" height="6.30" fill="#f5f510" />
<rect x="271.92" y="514.26" width="8.12" height="6.30" fill="#e2e230" />
<rect x="279.54" y="514.26" width="8.12" height="6.30" fill="#f5f510" />
<rect x="287.16" y="514.26" width="8.12" height="6.30" fill="#c1c168" />
<rect x="294.78" y="514.26" width="8.12" height="6.30" fill="#a0a0a0" />
<rect x="302.40" y="514.26" width="8.12" height="6.30" fill="#a0a0a0" />
<rect x="310.02" y="514.26" width="8.12" height="6.30" fill="#a0a0a0" />
<rect x="317.64" y="514.26" width="8.12" height="6.30" fill="#a0a0a0" />
<rect x="325.26" y="514.26" width="8.12" height="6.30" fill="#88889b" />
<rect x="332.88" y="514.26" width="8.12" height="6.30" fill="#88889b" />
<rect x="340.50" y="514.26" width="8.12" height="6.30" fill="#787898" />
<rect x="348.12" y="514.26" width="8.12" height="6.30" fill="#a0a0a0" />
<rect x="355.74" y="514.26" width="8.12" height="6.30" fill="#787898" />
<rect x="363.36" y="514.26" width="8.12" height="6.30" fill="#88889b" />
<rect x="370.98" y="514.26" width="8.12" height="6.30" fill="#bcbc70" />
<rect x="378.60" y="514.26" width="8.12" height="6.30" fill="#505090" />
<rect x="386.22" y="514.26" width="8.12" height="6.30" fill="#606093" />
<rect x="393.84" y="514.26" width="8.12" height="6.30" fill="#303089" />
<rect x="401.46" y="514.26" width="8.12" height="6.30" fill="#282888" />
<rect x="409.08" y="514.26" width="8.12" height="6.30" fill="#505090" />
<rect x="264.30" y="520.05" width="8.12" height="6.30" fill="#bcbc70" />
<rect x="271.92" y="520.05" width="8.12" height="6.30" fill="#e2e230" />
<rect x="279.54" y="520.05" width="8.12" height="6.30" fill="#f5f510" />
<rect x="287.16" y="520.05" width="8.12" height="6.30" fill="#c6c660" />
<rect x="294.78" y="520.05" width="8.12" height="6.30" fill="#202086" />
<rect x="302.40" y="520.05" width="8.12" height="6.30" fill="#d9d940" />
<rect x="310.02" y="520.05" width="8.12" height="6.30" fill="#bcbc70" />
<rect x="317.64" y="520.05" width="8.12" height="6.30" fill="#a0a0a0" />
<rect x="325.26" y="520.05" width="8.12" height="6.30" fill="#bcbc70" />
<rect x="332.88" y="520.05" width="8.12" height="6.30" fill="#bcbc70" />
<rect x="340.50" y="520.05" width="8.12" height="6.30" fill="#88889b" />
<rect x="348.12" y="520.05" width="8.12" height="6.30" fill="#505090" />
<rect x="355.74" y="520.05" width="8.12" height="6.30" fill="#90909c" />
<rect x="363.36" y="520.05" width="8.12" height="6.30" fill="#90909c" />
<rect x="370.98" y="520.05" width="8.12" height="6.30" fill="#a0a0a0" />
<rect x="378.60" y="520.05" width="8.12" height="6.30" fill="#282888" />
<rect x="386.22" y="520.05" width="8.12" height="6.30" fill="#90909c" />
<rect x="393.84" y="520.05" width="8.12" height="6.30" fill="#101083" />
<rect x="401.46" y="520.05" width="8.12" height="6.30" fill="#282888" />
<rect x="409.08" y="520.05" width="8.12" height="6.30" fill="#40408c" />
<rect x="264.30" y="525.85" width="8.12" height="6.30" fill="#e7e728" />
<rect x="271.92" y="525.85" width="8.12" height="6.30" fill="#bcbc70" />
<rect x="279.54" y="525.85" width="8.12" height="6.30" fill="#ecec20" />
<rect x="287.16" y="525.85" width="8.12" height="6.30" fill="#e2e230" />
<rect x="294.78" y="525.85" width="8.12" height="6.30" fill="#101083" />
<rect x="302.40" y="525.85" width="8.12" height="6.30" fill="#e2e230" />
<rect x="310.02" y="525.85" width="8.12" height="6.30" fill="#bcbc70" />
<rect x="317.64" y="525.85" width="8.12" height="6.30" fill="#b7b778" />
<rect x="325.26" y="525.85" width="8.12" height="6.30" fill="#808099" />
<rect x="332.88" y="525.85" width="8.12" height="6.30" fill="#88889b" />
<rect x="340.50" y="525.85" width="8.12" height="6.30" fill="#808099" />
<rect x="348.12" y="525.85" width="8.12" height="6.30" fill="#808099" />
<rect x="355.74" y="525.85" width="8.12" height="6.30" fill="#a0a0a0" />
<rect x="363.36" y="525.85" width="8.12" height="6.30" fill="#a0a0a0" />
<rect x="370.98" y="525.85" width="8.12" height="6.30" fill="#98989e" />
<rect x="378.60" y="525.85" width="8.12" height="6.30" fill="#707096" />
<rect x="386.22" y="525.85" width="8.12" height="6.30" fill="#606093" />
<rect x="393.84" y="525.85" width="8.12" height="6.30" fill="#505090" />
<rect x="401.46" y="525.85" width="8.12" height="6.30" fill="#40408c" />
<rect x="409.08" y="525.85" width="8.12" height="6.30" fill="#101083" />
<rect x="264.30" y="531.64" width="8.12" height="6.30" fill="#d9d940" />
<rect x="271.92" y="531.64" width="8.12" height="6.30" fill="#e7e728" />
<rect x="279.54" y="531.64" width="8.12" height="6.30" fill="#ffff00" />
<rect x="287.16" y="531.64" width="8.12" height="6.30" fill="#bcbc70" />
<rect x="294.78" y="531.64" width="8.12" height="6.30" fill="#101083" />
<rect x="302.40" y="531.64" width="8.12" height="6.30" fill="#dddd38" />
<rect x="310.02" y="531.64" width="8.12" height="6.30" fill="#c6c660" />
<rect x="317.64" y="531.64" width="8.12" height="6.30" fill="#c6c660" />
<rect x="325.26" y="531.64" width="8.12" height="6.30" fill="#787898" />
<rect x="332.88" y="531.64" width="8.12" height="6.30" fill="#a0a0a0" />
<rect x="340.50" y="531.64" width="8.12" height="6.30" fill="#808099" />
<rect x="348.12" y="531.64" width="8.12" height="6.30" fill="#808099" />
<rect x="355.74" y="531.64" width="8.12" height="6.30" fill="#a0a0a0" />
<rect x="363.36" y="531.64" width="8.12" height="6.30" fill="#a0a0a0" />
<rect x="370.98" y="531.64" width="8.12" height="6.30" fill="#505090" />
<rect x="378.60" y="531.64" width="8.12" height="6.30" fill="#505090" />
<rect x="386.22" y="531.64" width="8.12" height="6.30" fill="#707096" />
<rect x="393.84" y="531.64" width="8.12" height="6.30" fill="#303089" />
<rect x="401.46" y="531.64" width="8.12" height="6.30" fill="#606093" />
<rect x="409.08" y="531.64" width="8.12" height="6.30" fill="#303089" />
<rect x="264.30" y="537.44" width="8.12" height="6.30" fill="#cfcf50" />
<rect x="271.92" y="537.44" width="8.12" height="6.30" fill="#e7e728" />
<rect x="279.54" y="537.44" width="8.12" height="6.30" fill="#ffff00" />
<rect x="287.16" y="537.44" width="8.12" height="6.30" fill="#505090" />
<rect x="294.78" y="537.44" width="8.12" height="6.30" fill="#000080" />
<rect x="302.40" y="537.44" width="8.12" height="6.30" fill="#a0a0a0" />
<rect x="310.02" y="537.44" width="8.12" height="6.30" fill="#aeae88" />
<rect x="317.64" y="537.44" width="8.12" height="6.30" fill="#aeae88" />
<rect x="325.26" y="537.44" width="8.12" height="6.30" fill="#a0a0a0" />
<rect x="332.88" y="537.44" width="8.12" height="6.30" fill="#505090" />
<rect x="340.50" y="537.44" width="8.12" height="6.30" fill="#aeae88" />
<rect x="348.12" y="537.44" width="8.12" height="6.30" fill="#606093" />
<rect x="355.74" y="537.44" width="8.12" height="6.30" fill="#a0a0a0" />
<rect x="363.36" y="537.44" width="8.12" height="6.30" fill="#a0a0a0" />
<rect x="370.98" y="537.44" width="8.12" height="6.30" fill="#e7e728" />
<rect x="378.60" y="537.44" width="8.12" height="6.30" fill="#88889b" />
<rect x="386.22" y="537.44" width="8.12" height="6.30" fill="#000080" />
<rect x="393.84" y="537.44" width="8.12" height="6.30" fill="#40408c" />
<rect x="401.46" y="537.44" width="8.12" height="6.30" fill="#b7b778" />
<rect x="409.08" y="537.44" width="8.12" height="6.30" fill="#808099" />
<rect x="264.30" y="543.23" width="8.12" height="6.30" fill="#d9d940" />
<rect x="271.92" y="543.23" width="8.12" height="6.30" fill="#e7e728" />
<rect x="279.54" y="543.23" width="8.12" height="6.30" fill="#f5f510" />
<rect x="287.16" y="543.23" width="8.12" height="6.30" fill="#40408c" />
<rect x="294.78" y="543.23" width="8.12" height="6.30" fill="#202086" />
<rect x="302.40" y="543.23" width="8.12" height="6.30" fill="#c6c660" />
<rect x="310.02" y="543.23" width="8.12" height="6.30" fill="#d9d940" />
<rect x="317.64" y="543.23" width="8.12" height="6.30" fill="#aeae88" />
<rect x="325.26" y="543.23" width="8.12" height="6.30" fill="#88889b" />
<rect x="332.88" y="543.23" width="8.12" height="6.30" fill="#202086" />
<rect x="340.50" y="543.23" width="8.12" height="6.30" fill="#cfcf50" />
<rect x="348.12" y="543.23" width="8.12" height="6.30" fill="#cfcf50" />
<rect x="355.74" y="543.23" width="8.12" height="6.30" fill="#b3b380" />
<rect x="363.36" y="543.23" width="8.12" height="6.30" fill="#707096" />
<rect x="370.98" y="543.23" width="8.12" height="6.30" fill="#606093" />
<rect x="378.60" y="543.23" width="8.12" height="6.30" fill="#505090" />
<rect x="386.22" y="543.23" width="8.12" height="6.30" fill="#40408c" />
<rect x="393.84" y="543.23" width="8.12" height="6.30" fill="#707096" />
<rect x="401.46" y="543.23" width="8.12" height="6.30" fill="#707096" />
<rect x="409.08" y="543.23" width="8.12" height="6.30" fill="#606093" />
<rect x="264.30" y="549.03" width="8.12" height="6.30" fill="#e2e230" />
<rect x="271.92" y="549.03" width="8.12" height="6.30" fill="#e2e230" />
<rect x="279.54" y="549.03" width="8.12" height="6.30" fill="#ecec20" />
<rect x="287.16" y="549.03" width="8.12" height="6.30" fill="#202086" />
<rect x="294.78" y="549.03" width="8.12" height="6.30" fill="#000080" />
<rect x="302.40" y="549.03" width="8.12" height="6.30" fill="#b3b380" />
<rect x="310.02" y="549.03" width="8.12" height="6.30" fill="#f5f510" />
<rect x="317.64" y="549.03" width="8.12" height="6.30" fill="#b7b778" />
<rect x="325.26" y="549.03" width="8.12" height="6.30" fill="#bcbc70" />
<rect x="332.88" y="549.03" width="8.12" height="6.30" fill="#bcbc70" />
<rect x="340.50" y="549.03" width="8.12" height="6.30" fill="#707096" />
<rect x="348.12" y="549.03" width="8.12" height="6.30" fill="#808099" />
<rect x="355.74" y="549.03" width="8.12" height="6.30" fill="#90909c" />
<rect x="363.36" y="549.03" width="8.12" height="6.30" fill="#808099" />
<rect x="370.98" y="549.03" width="8.12" height="6.30" fill="#787898" />
<rect x="378.60" y="549.03" width="8.12" height="6.30" fill="#40408c" />
<rect x="386.22" y="549.03" width="8.12" height="6.30" fill="#b3b380" />
<rect x="393.84" y="549.03" width="8.12" height="6.30" fill="#202086" />
<rect x="401.46" y="549.03" width="8.12" height="6.30" fill="#90909c" />
<rect x="409.08" y="549.03" width="8.12" height="6.30" fill="#808099" />
<rect x="264.30" y="554.82" width="8.12" height="6.30" fill="#f5f510" />
<rect x="271.92" y="554.82" width="8.12" height="6.30" fill="#e7e728" />
<rect x="279.54" y="554.82" width="8.12" height="6.30" fill="#ecec20" />
<rect x="287.16" y="554.82" width="8.12" height="6.30" fill="#88889b" />
<rect x="294.78" y="554.82" width="8.12" height="6.30" fill="#000080" />
<rect x="302.40" y="554.82" width="8.12" height="6.30" fill="#a0a0a0" />
<rect x="310.02" y="554.82" width="8.12" height="6.30" fill="#a0a0a0" />
<rect x="317.64" y="554.82" width="8.12" height="6.30" fill="#808099" />
<rect x="325.26" y="554.82" width="8.12" height="6.30" fill="#90909c" />
<rect x="332.88" y="554.82" width="8.12" height="6.30" fill="#aeae88" />
<rect x="340.50" y="554.82" width="8.12" height="6.30" fill="#aeae88" />
<rect x="348.12" y="554.82" width="8.12" height="6.30" fill="#c6c660" />
<rect x="355.74" y="554.82" width="8.12" height="6.30" fill="#787898" />
<rect x="363.36" y="554.82" width="8.12" height="6.30" fill="#c6c660" />
<rect x="370.98" y="554.82" width="8.12" height="6.30" fill="#b7b778" />
<rect x="378.60" y="554.82" width="8.12" height="6.30" fill="#787898" />
<rect x="386.22" y="554.82" width="8.12" height="6.30" fill="#bcbc70" />
<rect x="393.84" y="554.82" width="8.12" height="6.30" fill="#282888" />
<rect x="401.46" y="554.82" width="8.12" height="6.30" fill="#88889b" />
<rect x="409.08" y="554.82" width="8.12" height="6.30" fill="#000080" />
<rect x="264.30" y="560.62" width="8.12" height="6.30" fill="#cfcf50" />
<rect x="271.92" y="560.62" width="8.12" height="6.30" fill="#e7e728" />
<rect x="279.54" y="560.62" width="8.12" height="6.30" fill="#e7e728" />
<rect x="287.16" y="560.62" width="8.12" height="6.30" fill="#505090" />
<rect x="294.78" y="560.62" width="8.12" height="6.30" fill="#202086" />
<rect x="302.40" y="560.62" width="8.12" height="6.30" fill="#cfcf50" />
<rect x="310.02" y="560.62" width="8.12" height="6.30" fill="#cfcf50" />
<rect x="317.64" y="560.62" width="8.12" height="6.30" fill="#c6c660" />
<rect x="325.26" y="560.62" width="8.12" height="6.30" fill="#aeae88" />
<rect x="332.88" y="560.62" width="8.12" height="6.30" fill="#686894" />
<rect x="340.50" y="560.62" width="8.12" height="6.30" fill="#a0a0a0" />
<rect x="348.12" y="560.62" width="8.12" height="6.30" fill="#606093" />
<rect x="355.74" y="560.62" width="8.12" height="6.30" fill="#a0a0a0" />
<rect x="363.36" y="560.62" width="8.12" height="6.30" fill="#aeae88" />
<rect x="370.98" y="560.62" width="8.12" height="6.30" fill="#e7e728" />
<rect x="378.60" y="560.62" width="8.12" height="6.30" fill="#787898" />
<rect x="386.22" y="560.62" width="8.12" height="6.30" fill="#88889b" />
<rect x="393.84" y="560.62" width="8.12" height="6.30" fill="#90909c" />
<rect x="401.46" y="560.62" width="8.12" height="6.30" fill="#101083" />
<rect x="409.08" y="560.62" width="8.12" height="6.30" fill="#101083" />
<rect x="264.30" y="566.41" width="8.12" height="6.30" fill="#e2e230" />
<rect x="271.92" y="566.41" width="8.12" height="6.30" fill="#f5f510" />
<rect x="279.54" y="566.41" width="8.12" height="6.30" fill="#ecec20" />
<rect x="287.16" y="566.41" width="8.12" height="6.30" fill="#505090" />
<rect x="294.78" y="566.41" width="8.12" height="6.30" fill="#808099" />
<rect x="302.40" y="566.41" width="8.12" height="6.30" fill="#88889b" />
<rect x="310.02" y="566.41" width="8.12" height="6.30" fill="#d9d940" />
<rect x="317.64" y="566.41" width="8.12" height="6.30" fill="#bcbc70" />
<rect x="325.26" y="566.41" width="8.12" height="6.30" fill="#a0a0a0" />
<rect x="332.88" y="566.41" width="8.12" height="6.30" fill="#707096" />
<rect x="340.50" y="566.41" width="8.12" height="6.30" fill="#bcbc70" />
<rect x="348.12" y="566.41" width="8.12" height="6.30" fill="#40408c" />
<rect x="355.74" y="566.41" width="8.12" height="6.30" fill="#a9a990" />
<rect x="363.36" y="566.41" width="8.12" height="6.30" fill="#a9a990" />
<rect x="370.98" y="566.41" width="8.12" height="6.30" fill="#88889b" />
<rect x="378.60" y="566.41" width="8.12" height="6.30" fill="#505090" />
<rect x="386.22" y="566.41" width="8.12" height="6.30" fill="#606093" />
<rect x="393.84" y="566.41" width="8.12" height="6.30" fill="#88889b" />
<rect x="401.46" y="566.41" width="8.12" height="6.30" fill="#40408c" />
<rect x="409.08" y="566.41" width="8.12" height="6.30" fill="#101083" />
<rect x="264.30" y="572.21" width="8.12" height="6.30" fill="#e2e230" />
<rect x="271.92" y="572.21" width="8.12" height="6.30" fill="#e7e728" />
<rect x="279.54" y="572.21" width="8.12" height="6.30" fill="#f5f510" />
<rect x="287.16" y="572.21" width="8.12" height="6.30" fill="#40408c" />
<rect x="294.78" y="572.21" width="8.12" height="6.30" fill="#202086" />
<rect x="302.40" y="572.21" width="8.12" height="6.30" fill="#aeae88" />
<rect x="310.02" y="572.21" width="8.12" height="6.30" fill="#bcbc70" />
<rect x="317.64" y="572.21" width="8.12" height="6.30" fill="#cfcf50" />
<rect x="325.26" y="572.21" width="8.12" height="6.30" fill="#b7b778" />
<rect x="332.88" y="572.21" width="8.12" height="6.30" fill="#303089" />
<rect x="340.50" y="572.21" width="8.12" height="6.30" fill="#707096" />
<rect x="348.12" y="572.21" width="8.12" height="6.30" fill="#90909c" />
<rect x="355.74" y="572.21" width="8.12" height="6.30" fill="#b3b380" />
<rect x="363.36" y="572.21" width="8.12" height="6.30" fill="#a0a0a0" />
<rect x="370.98" y="572.21" width="8.12" height="6.30" fill="#606093" />
<rect x="378.60" y="572.21" width="8.12" height="6.30" fill="#aeae88" />
<rect x="386.22" y="572.21" width="8.12" height="6.30" fill="#98989e" />
<rect x="393.84" y="572.21" width="8.12" height="6.30" fill="#787898" />
<rect x="401.46" y="572.21" width="8.12" height="6.30" fill="#606093" />
<rect x="409.08" y="572.21" width="8.12" height="6.30" fill="#40408c" />
<rect x="264.30" y="578.00" width="8.12" height="6.30" fill="#f5f510" />
<rect x="271.92" y="578.00" width="8.12" height="6.30" fill="#e7e728" />
<rect x="279.54" y="578.00" width="8.12" height="6.30" fill="#f5f510" />
<rect x="287.16" y="578.00" width="8.12" height="6.30" fill="#40408c" />
<rect x="294.78" y="578.00" width="8.12" height="6.30" fill="#40408c" />
<rect x="302.40" y="578.00" width="8.12" height="6.30" fill="#a0a0a0" />
<rect x="310.02" y="578.00" width="8.12" height="6.30" fill="#aeae88" />
<rect x="317.64" y="578.00" width="8.12" height="6.30" fill="#bcbc70" />
<rect x="325.26" y="578.00" width="8.12" height="6.30" fill="#a0a0a0" />
<rect x="332.88" y="578.00" width="8.12" height="6.30" fill="#787898" />
<rect x="340.50" y="578.00" width="8.12" height="6.30" fill="#808099" />
<rect x="348.12" y="578.00" width="8.12" height="6.30" fill="#000080" />
<rect x="355.74" y="578.00" width="8.12" height="6.30" fill="#a9a990" />
<rect x="363.36" y="578.00" width="8.12" height="6.30" fill="#a9a990" />
<rect x="370.98" y="578.00" width="8.12" height="6.30" fill="#505090" />
<rect x="378.60" y="578.00" width="8.12" height="6.30" fill="#a9a990" />
<rect x="386.22" y="578.00" width="8.12" height="6.30" fill="#a9a990" />
<rect x="393.84" y="578.00" width="8.12" height="6.30" fill="#a9a990" />
<rect x="401.46" y="578.00" width="8.12" height="6.30" fill="#606093" />
<rect x="409.08" y="578.00" width="8.12" height="6.30" fill="#40408c" />
</g>
<text x="419.90" y="339.38" font-size="5.3" text-anchor="start" fill="#222" font-style="italic">PDCD1LG2(PD-L2)</text>
<text x="419.90" y="345.17" font-size="5.3" text-anchor="start" fill="#222" font-style="italic">TNFSF4</text>
<text x="419.90" y="350.97" font-size="5.3" text-anchor="start" fill="#222" font-style="italic">VTCN1</text>
<text x="419.90" y="356.77" font-size="5.3" text-anchor="start" fill="#222" font-style="italic">SLAMF1</text>
<text x="419.90" y="362.56" font-size="5.3" text-anchor="start" fill="#222" font-style="italic">CD86</text>
<text x="419.90" y="368.36" font-size="5.3" text-anchor="start" fill="#222" font-style="italic">HAVCR2(TIM-3)</text>
<text x="419.90" y="374.15" font-size="5.3" text-anchor="start" fill="#222" font-style="italic">TNFRSF9</text>
<text x="419.90" y="379.95" font-size="5.3" text-anchor="start" fill="#222" font-style="italic">TIGIT</text>
<text x="419.90" y="385.74" font-size="5.3" text-anchor="start" fill="#222" font-style="italic">CD80</text>
<text x="419.90" y="391.54" font-size="5.3" text-anchor="start" fill="#222" font-style="italic">CEACAM1</text>
<text x="419.90" y="397.33" font-size="5.3" text-anchor="start" fill="#222" font-style="italic">LGALS3(Galectin-3)</text>
<text x="419.90" y="403.13" font-size="5.3" text-anchor="start" fill="#222" font-style="italic">KIR3DL1</text>
<text x="419.90" y="408.92" font-size="5.3" text-anchor="start" fill="#222" font-style="italic">CD200</text>
<text x="419.90" y="414.72" font-size="5.3" text-anchor="start" fill="#222" font-style="italic">CD274(PD-L1)</text>
<text x="419.90" y="420.51" font-size="5.3" text-anchor="start" fill="#222" font-style="italic">CD200R1</text>
<text x="419.90" y="426.31" font-size="5.3" text-anchor="start" fill="#222" font-style="italic">CD40LG</text>
<text x="419.90" y="432.10" font-size="5.3" text-anchor="start" fill="#222" font-style="italic">IDO1</text>
<text x="419.90" y="437.90" font-size="5.3" text-anchor="start" fill="#222" font-style="italic">ICOS</text>
<text x="419.90" y="443.70" font-size="5.3" text-anchor="start" fill="#222" font-style="italic">HAVCR1</text>
<text x="419.90" y="449.49" font-size="5.3" text-anchor="start" fill="#222" font-style="italic">CD28</text>
<text x="419.90" y="455.29" font-size="5.3" text-anchor="start" fill="#222" font-style="italic">BTLA</text>
<text x="419.90" y="461.08" font-size="5.3" text-anchor="start" fill="#222" font-style="italic">TNFSF18</text>
<text x="419.90" y="466.88" font-size="5.3" text-anchor="start" fill="#222" font-style="italic">CTLA4</text>
<text x="419.90" y="472.67" font-size="5.3" text-anchor="start" fill="#222" font-style="italic">CD40</text>
<text x="419.90" y="478.47" font-size="5.3" text-anchor="start" fill="#222" font-style="italic">PVR</text>
<text x="419.90" y="484.26" font-size="5.3" text-anchor="start" fill="#222" font-style="italic">TNFSF9</text>
<text x="419.90" y="490.06" font-size="5.3" text-anchor="start" fill="#222" font-style="italic">ADORA2A</text>
<text x="419.90" y="495.85" font-size="5.3" text-anchor="start" fill="#222" font-style="italic">CD27</text>
<text x="419.90" y="501.65" font-size="5.3" text-anchor="start" fill="#222" font-style="italic">TNFSF14</text>
<text x="419.90" y="507.44" font-size="5.3" text-anchor="start" fill="#222" font-style="italic">PVRL2</text>
<text x="419.90" y="513.24" font-size="5.3" text-anchor="start" fill="#222" font-style="italic">IL2RB</text>
<text x="419.90" y="519.03" font-size="5.3" text-anchor="start" fill="#222" font-style="italic">LAG3</text>
<text x="419.90" y="524.83" font-size="5.3" text-anchor="start" fill="#222" font-style="italic">C10orf54(VISTA)</text>
<text x="419.90" y="530.63" font-size="5.3" text-anchor="start" fill="#222" font-style="italic">TNFRSF25</text>
<text x="419.90" y="536.42" font-size="5.3" text-anchor="start" fill="#222" font-style="italic">TNFRSF14</text>
<text x="419.90" y="542.22" font-size="5.3" text-anchor="start" fill="#222" font-style="italic">TNFRSF12A</text>
<text x="419.90" y="548.01" font-size="5.3" text-anchor="start" fill="#222" font-style="italic">CD276</text>
<text x="419.90" y="553.81" font-size="5.3" text-anchor="start" fill="#222" font-style="italic">CD70</text>
<text x="419.90" y="559.60" font-size="5.3" text-anchor="start" fill="#222" font-style="italic">LAIR1</text>
<text x="419.90" y="565.40" font-size="5.3" text-anchor="start" fill="#222" font-style="italic">TNFRSF18</text>
<text x="419.90" y="571.19" font-size="5.3" text-anchor="start" fill="#222" font-style="italic">TNFRSF4</text>
<text x="419.90" y="576.99" font-size="5.3" text-anchor="start" fill="#222" font-style="italic">ICOSLG</text>
<text x="419.90" y="582.78" font-size="5.3" text-anchor="start" fill="#222" font-style="italic">PDCD1(PD-1)</text>
<g class="ce">
<rect x="256.80" y="334.60" width="4.90" height="6.30" fill="#70d8e0" />
<rect x="256.80" y="340.40" width="4.90" height="6.30" fill="#e070e0" />
<rect x="256.80" y="346.19" width="4.90" height="6.30" fill="#70d8e0" />
<rect x="256.80" y="351.99" width="4.90" height="6.30" fill="#e070e0" />
<rect x="256.80" y="357.78" width="4.90" height="6.30" fill="#70d8e0" />
<rect x="256.80" y="363.58" width="4.90" height="6.30" fill="#70d8e0" />
<rect x="256.80" y="369.37" width="4.90" height="6.30" fill="#e070e0" />
<rect x="256.80" y="375.17" width="4.90" height="6.30" fill="#70d8e0" />
<rect x="256.80" y="380.96" width="4.90" height="6.30" fill="#70d8e0" />
<rect x="256.80" y="386.76" width="4.90" height="6.30" fill="#70d8e0" />
<rect x="256.80" y="392.55" width="4.90" height="6.30" fill="#70d8e0" />
<rect x="256.80" y="398.35" width="4.90" height="6.30" fill="#70d8e0" />
<rect x="256.80" y="404.14" width="4.90" height="6.30" fill="#70d8e0" />
<rect x="256.80" y="409.94" width="4.90" height="6.30" fill="#70d8e0" />
<rect x="256.80" y="415.73" width="4.90" height="6.30" fill="#70d8e0" />
<rect x="256.80" y="421.53" width="4.90" height="6.30" fill="#e070e0" />
<rect x="256.80" y="427.33" width="4.90" height="6.30" fill="#70d8e0" />
<rect x="256.80" y="433.12" width="4.90" height="6.30" fill="#e070e0" />
<rect x="256.80" y="438.92" width="4.90" height="6.30" fill="#e070e0" />
<rect x="256.80" y="444.71" width="4.90" height="6.30" fill="#e070e0" />
<rect x="256.80" y="450.51" width="4.90" height="6.30" fill="#70d8e0" />
<rect x="256.80" y="456.30" width="4.90" height="6.30" fill="#e070e0" />
<rect x="256.80" y="462.10" width="4.90" height="6.30" fill="#70d8e0" />
<rect x="256.80" y="467.89" width="4.90" height="6.30" fill="#e070e0" />
<rect x="256.80" y="473.69" width="4.90" height="6.30" fill="#70d8e0" />
<rect x="256.80" y="479.48" width="4.90" height="6.30" fill="#e070e0" />
<rect x="256.80" y="485.28" width="4.90" height="6.30" fill="#70d8e0" />
<rect x="256.80" y="491.07" width="4.90" height="6.30" fill="#e070e0" />
<rect x="256.80" y="496.87" width="4.90" height="6.30" fill="#e070e0" />
<rect x="256.80" y="502.67" width="4.90" height="6.30" fill="#70d8e0" />
<rect x="256.80" y="508.46" width="4.90" height="6.30" fill="#e070e0" />
<rect x="256.80" y="514.26" width="4.90" height="6.30" fill="#70d8e0" />
<rect x="256.80" y="520.05" width="4.90" height="6.30" fill="#70d8e0" />
<rect x="256.80" y="525.85" width="4.90" height="6.30" fill="#e070e0" />
<rect x="256.80" y="531.64" width="4.90" height="6.30" fill="#e070e0" />
<rect x="256.80" y="537.44" width="4.90" height="6.30" fill="#e070e0" />
<rect x="256.80" y="543.23" width="4.90" height="6.30" fill="#70d8e0" />
<rect x="256.80" y="549.03" width="4.90" height="6.30" fill="#e070e0" />
<rect x="256.80" y="554.82" width="4.90" height="6.30" fill="#70d8e0" />
<rect x="256.80" y="560.62" width="4.90" height="6.30" fill="#e070e0" />
<rect x="256.80" y="566.41" width="4.90" height="6.30" fill="#e070e0" />
<rect x="256.80" y="572.21" width="4.90" height="6.30" fill="#e070e0" />
<rect x="256.80" y="578.00" width="4.90" height="6.30" fill="#70d8e0" />
<rect x="264.30" y="323.20" width="8.12" height="4.30" fill="#5aaae8" />
<rect x="264.30" y="328.30" width="8.12" height="5.00" fill="#e8a0d0" />
<rect x="271.92" y="323.20" width="8.12" height="4.30" fill="#d0d2d4" />
<rect x="271.92" y="328.30" width="8.12" height="5.00" fill="#e8a0d0" />
<rect x="279.54" y="323.20" width="8.12" height="4.30" fill="#d0d2d4" />
<rect x="279.54" y="328.30" width="8.12" height="5.00" fill="#e8a0d0" />
<rect x="287.16" y="323.20" width="8.12" height="4.30" fill="#e88a1a" />
<rect x="287.16" y="328.30" width="8.12" height="5.00" fill="#e8a0d0" />
<rect x="294.78" y="323.20" width="8.12" height="4.30" fill="#d0d2d4" />
<rect x="294.78" y="328.30" width="8.12" height="5.00" fill="#e8a0d0" />
<rect x="302.40" y="323.20" width="8.12" height="4.30" fill="#d0d2d4" />
<rect x="302.40" y="328.30" width="8.12" height="5.00" fill="#e8a0d0" />
<rect x="310.02" y="323.20" width="8.12" height="4.30" fill="#d0d2d4" />
<rect x="310.02" y="328.30" width="8.12" height="5.00" fill="#e8a0d0" />
<rect x="317.64" y="323.20" width="8.12" height="4.30" fill="#e88a1a" />
<rect x="317.64" y="328.30" width="8.12" height="5.00" fill="#7030a0" />
<rect x="325.26" y="323.20" width="8.12" height="4.30" fill="#d0d2d4" />
<rect x="325.26" y="328.30" width="8.12" height="5.00" fill="#7030a0" />
<rect x="332.88" y="323.20" width="8.12" height="4.30" fill="#d0d2d4" />
<rect x="332.88" y="328.30" width="8.12" height="5.00" fill="#e8a0d0" />
<rect x="340.50" y="323.20" width="8.12" height="4.30" fill="#d0d2d4" />
<rect x="340.50" y="328.30" width="8.12" height="5.00" fill="#7030a0" />
<rect x="348.12" y="323.20" width="8.12" height="4.30" fill="#d0d2d4" />
<rect x="348.12" y="328.30" width="8.12" height="5.00" fill="#7030a0" />
<rect x="355.74" y="323.20" width="8.12" height="4.30" fill="#d0d2d4" />
<rect x="355.74" y="328.30" width="8.12" height="5.00" fill="#7030a0" />
<rect x="363.36" y="323.20" width="8.12" height="4.30" fill="#5aaae8" />
<rect x="363.36" y="328.30" width="8.12" height="5.00" fill="#7030a0" />
<rect x="370.98" y="323.20" width="8.12" height="4.30" fill="#d0d2d4" />
<rect x="370.98" y="328.30" width="8.12" height="5.00" fill="#7030a0" />
<rect x="378.60" y="323.20" width="8.12" height="4.30" fill="#e88a1a" />
<rect x="378.60" y="328.30" width="8.12" height="5.00" fill="#e8a0d0" />
<rect x="386.22" y="323.20" width="8.12" height="4.30" fill="#d0d2d4" />
<rect x="386.22" y="328.30" width="8.12" height="5.00" fill="#7030a0" />
<rect x="393.84" y="323.20" width="8.12" height="4.30" fill="#d0d2d4" />
<rect x="393.84" y="328.30" width="8.12" height="5.00" fill="#e8a0d0" />
<rect x="401.46" y="323.20" width="8.12" height="4.30" fill="#d0d2d4" />
<rect x="401.46" y="328.30" width="8.12" height="5.00" fill="#7030a0" />
<rect x="409.08" y="323.20" width="8.12" height="4.30" fill="#d0d2d4" />
<rect x="409.08" y="328.30" width="8.12" height="5.00" fill="#7030a0" />
</g>
<text x="419.90" y="327.48" font-size="5.3" text-anchor="start" fill="#000" font-weight="bold">Patient response</text>
<text x="419.90" y="332.78" font-size="5.3" text-anchor="start" fill="#000" font-weight="bold">Treatment</text>
<text x="0" y="0" font-size="5.5" fill="#222" transform="translate(266.21,587.3) rotate(90)">3CA−Neg</text>
<text x="0" y="0" font-size="5.5" fill="#222" transform="translate(273.83,587.3) rotate(90)">8CA−Neg</text>
<text x="0" y="0" font-size="5.5" fill="#222" transform="translate(281.45,587.3) rotate(90)">2CA−Neg</text>
<text x="0" y="0" font-size="5.5" fill="#222" transform="translate(289.07,587.3) rotate(90)">7CA−Neg</text>
<text x="0" y="0" font-size="5.5" fill="#222" transform="translate(296.69,587.3) rotate(90)">5CA−Neg</text>
<text x="0" y="0" font-size="5.5" fill="#222" transform="translate(304.31,587.3) rotate(90)">12CA−Neg</text>
<text x="0" y="0" font-size="5.5" fill="#222" transform="translate(311.93,587.3) rotate(90)">1CA−Neg</text>
<text x="0" y="0" font-size="5.5" fill="#222" transform="translate(319.55,587.3) rotate(90)">6CB−Neg</text>
<text x="0" y="0" font-size="5.5" fill="#222" transform="translate(327.17,587.3) rotate(90)">11CB−Neg</text>
<text x="0" y="0" font-size="5.5" fill="#222" transform="translate(334.79,587.3) rotate(90)">11CA−Neg</text>
<text x="0" y="0" font-size="5.5" fill="#222" transform="translate(342.41,587.3) rotate(90)">12CB−Neg</text>
<text x="0" y="0" font-size="5.5" fill="#222" transform="translate(350.03,587.3) rotate(90)">8CB−Neg</text>
<text x="0" y="0" font-size="5.5" fill="#222" transform="translate(357.65,587.3) rotate(90)">15CA−Neg</text>
<text x="0" y="0" font-size="5.5" fill="#222" transform="translate(365.27,587.3) rotate(90)">3CB−Neg</text>
<text x="0" y="0" font-size="5.5" fill="#222" transform="translate(372.89,587.3) rotate(90)">15CB−Neg</text>
<text x="0" y="0" font-size="5.5" fill="#222" transform="translate(380.51,587.3) rotate(90)">6CA−Neg</text>
<text x="0" y="0" font-size="5.5" fill="#222" transform="translate(388.13,587.3) rotate(90)">1CB−Neg</text>
<text x="0" y="0" font-size="5.5" fill="#222" transform="translate(395.75,587.3) rotate(90)">10CA−Neg</text>
<text x="0" y="0" font-size="5.5" fill="#222" transform="translate(403.37,587.3) rotate(90)">4CB−Neg</text>
<text x="0" y="0" font-size="5.5" fill="#222" transform="translate(410.99,587.3) rotate(90)">5CB−Neg</text>
<text x="469.80" y="422.78" font-size="5.3" text-anchor="start" fill="#000" font-weight="bold">Treatment</text>
<rect x="470.30" y="425.90" width="3.60" height="3.60" fill="#8a1a5a" />
<text x="476.60" y="429.58" font-size="5.3" text-anchor="start" fill="#444">Before</text>
<rect x="470.30" y="431.80" width="3.60" height="3.60" fill="#e8a0d0" />
<text x="476.60" y="435.48" font-size="5.3" text-anchor="start" fill="#444">After</text>
<text x="469.80" y="444.38" font-size="5.3" text-anchor="start" fill="#000" font-weight="bold">Patient response</text>
<rect x="470.30" y="446.60" width="3.60" height="3.60" fill="#5aaae8" />
<text x="476.60" y="450.28" font-size="5.3" text-anchor="start" fill="#444">CR</text>
<rect x="470.30" y="452.70" width="3.60" height="3.60" fill="#e88a1a" />
<text x="476.60" y="456.38" font-size="5.3" text-anchor="start" fill="#444">PD</text>
<rect x="470.30" y="458.90" width="3.60" height="3.60" fill="#c8c8c8" />
<text x="476.60" y="462.58" font-size="5.3" text-anchor="start" fill="#444">SD</text>
<text x="469.80" y="471.88" font-size="5.3" text-anchor="start" fill="#000" font-weight="bold">Immune</text>
<text x="469.80" y="478.18" font-size="5.3" text-anchor="start" fill="#000" font-weight="bold">check-point gene</text>
<rect x="470.30" y="481.50" width="3.60" height="3.60" fill="#b060b0" />
<text x="476.60" y="485.18" font-size="5.3" text-anchor="start" fill="#444">Stimulatory</text>
<rect x="470.30" y="487.60" width="3.60" height="3.60" fill="#70c0e0" />
<text x="476.60" y="491.28" font-size="5.3" text-anchor="start" fill="#444">Inhibitory</text>
<text x="469.80" y="502.88" font-size="5.3" text-anchor="start" fill="#000" font-weight="bold">Z-score</text>
<defs><linearGradient id="gz" x1="0" y1="0" x2="0" y2="1"><stop offset="0" stop-color="#ffff00"/><stop offset="0.5" stop-color="#a0a0a0"/><stop offset="1" stop-color="#000080"/></linearGradient></defs>
<rect x="469.60" y="506.90" width="4.20" height="58.90" fill="url(#gz)" />
<text x="477.20" y="509.68" font-size="5.3" text-anchor="start" fill="#444">2</text>
<text x="477.20" y="523.68" font-size="5.3" text-anchor="start" fill="#444">1</text>
<text x="477.20" y="538.28" font-size="5.3" text-anchor="start" fill="#444">0</text>
<text x="477.20" y="553.28" font-size="5.3" text-anchor="start" fill="#444">-1</text>
<text x="477.20" y="567.88" font-size="5.3" text-anchor="start" fill="#444">-2</text>
<line x1="268.11" y1="315.40" x2="268.11" y2="321.60" stroke="#444" stroke-width="0.6" />
<line x1="275.73" y1="315.40" x2="275.73" y2="321.60" stroke="#444" stroke-width="0.6" />
<line x1="268.11" y1="315.40" x2="275.73" y2="315.40" stroke="#444" stroke-width="0.6" />
<line x1="271.92" y1="310.50" x2="271.92" y2="315.40" stroke="#444" stroke-width="0.6" />
<line x1="283.35" y1="310.50" x2="283.35" y2="321.60" stroke="#444" stroke-width="0.6" />
<line x1="271.92" y1="310.50" x2="283.35" y2="310.50" stroke="#444" stroke-width="0.6" />
<line x1="306.21" y1="314.60" x2="306.21" y2="321.60" stroke="#444" stroke-width="0.6" />
<line x1="313.83" y1="314.60" x2="313.83" y2="321.60" stroke="#444" stroke-width="0.6" />
<line x1="306.21" y1="314.60" x2="313.83" y2="314.60" stroke="#444" stroke-width="0.6" />
<line x1="310.02" y1="312.60" x2="310.02" y2="314.60" stroke="#444" stroke-width="0.6" />
<line x1="321.45" y1="312.60" x2="321.45" y2="321.60" stroke="#444" stroke-width="0.6" />
<line x1="310.02" y1="312.60" x2="321.45" y2="312.60" stroke="#444" stroke-width="0.6" />
<line x1="329.07" y1="316.50" x2="329.07" y2="321.60" stroke="#444" stroke-width="0.6" />
<line x1="336.69" y1="316.50" x2="336.69" y2="321.60" stroke="#444" stroke-width="0.6" />
<line x1="329.07" y1="316.50" x2="336.69" y2="316.50" stroke="#444" stroke-width="0.6" />
<line x1="344.31" y1="314.20" x2="344.31" y2="321.60" stroke="#444" stroke-width="0.6" />
<line x1="351.93" y1="314.20" x2="351.93" y2="321.60" stroke="#444" stroke-width="0.6" />
<line x1="344.31" y1="314.20" x2="351.93" y2="314.20" stroke="#444" stroke-width="0.6" />
<line x1="332.88" y1="313.40" x2="332.88" y2="316.50" stroke="#444" stroke-width="0.6" />
<line x1="348.12" y1="313.40" x2="348.12" y2="314.20" stroke="#444" stroke-width="0.6" />
<line x1="332.88" y1="313.40" x2="348.12" y2="313.40" stroke="#444" stroke-width="0.6" />
<line x1="367.17" y1="316.10" x2="367.17" y2="321.60" stroke="#444" stroke-width="0.6" />
<line x1="374.79" y1="316.10" x2="374.79" y2="321.60" stroke="#444" stroke-width="0.6" />
<line x1="367.17" y1="316.10" x2="374.79" y2="316.10" stroke="#444" stroke-width="0.6" />
<line x1="359.55" y1="313.70" x2="359.55" y2="321.60" stroke="#444" stroke-width="0.6" />
<line x1="370.98" y1="313.70" x2="370.98" y2="316.10" stroke="#444" stroke-width="0.6" />
<line x1="359.55" y1="313.70" x2="370.98" y2="313.70" stroke="#444" stroke-width="0.6" />
<line x1="382.41" y1="314.50" x2="382.41" y2="321.60" stroke="#444" stroke-width="0.6" />
<line x1="390.03" y1="314.50" x2="390.03" y2="321.60" stroke="#444" stroke-width="0.6" />
<line x1="382.41" y1="314.50" x2="390.03" y2="314.50" stroke="#444" stroke-width="0.6" />
<line x1="405.27" y1="315.70" x2="405.27" y2="321.60" stroke="#444" stroke-width="0.6" />
<line x1="412.89" y1="315.70" x2="412.89" y2="321.60" stroke="#444" stroke-width="0.6" />
<line x1="405.27" y1="315.70" x2="412.89" y2="315.70" stroke="#444" stroke-width="0.6" />
<line x1="397.65" y1="315.30" x2="397.65" y2="321.60" stroke="#444" stroke-width="0.6" />
<line x1="409.08" y1="315.30" x2="409.08" y2="315.70" stroke="#444" stroke-width="0.6" />
<line x1="397.65" y1="315.30" x2="409.08" y2="315.30" stroke="#444" stroke-width="0.6" />
<line x1="386.22" y1="313.50" x2="386.22" y2="314.50" stroke="#444" stroke-width="0.6" />
<line x1="403.37" y1="313.50" x2="403.37" y2="315.30" stroke="#444" stroke-width="0.6" />
<line x1="386.22" y1="313.50" x2="403.37" y2="313.50" stroke="#444" stroke-width="0.6" />
<line x1="365.26" y1="312.40" x2="365.26" y2="313.70" stroke="#444" stroke-width="0.6" />
<line x1="394.79" y1="312.40" x2="394.79" y2="313.50" stroke="#444" stroke-width="0.6" />
<line x1="365.26" y1="312.40" x2="394.79" y2="312.40" stroke="#444" stroke-width="0.6" />
<line x1="340.50" y1="311.20" x2="340.50" y2="313.40" stroke="#444" stroke-width="0.6" />
<line x1="380.03" y1="311.20" x2="380.03" y2="312.40" stroke="#444" stroke-width="0.6" />
<line x1="340.50" y1="311.20" x2="380.03" y2="311.20" stroke="#444" stroke-width="0.6" />
<line x1="315.74" y1="310.20" x2="315.74" y2="312.60" stroke="#444" stroke-width="0.6" />
<line x1="360.26" y1="310.20" x2="360.26" y2="311.20" stroke="#444" stroke-width="0.6" />
<line x1="315.74" y1="310.20" x2="360.26" y2="310.20" stroke="#444" stroke-width="0.6" />
<line x1="298.59" y1="308.50" x2="298.59" y2="321.60" stroke="#444" stroke-width="0.6" />
<line x1="338.00" y1="308.50" x2="338.00" y2="310.20" stroke="#444" stroke-width="0.6" />
<line x1="298.59" y1="308.50" x2="338.00" y2="308.50" stroke="#444" stroke-width="0.6" />
<line x1="290.97" y1="307.70" x2="290.97" y2="321.60" stroke="#444" stroke-width="0.6" />
<line x1="318.29" y1="307.70" x2="318.29" y2="308.50" stroke="#444" stroke-width="0.6" />
<line x1="290.97" y1="307.70" x2="318.29" y2="307.70" stroke="#444" stroke-width="0.6" />
<line x1="277.63" y1="300.30" x2="277.63" y2="310.50" stroke="#444" stroke-width="0.6" />
<line x1="304.63" y1="300.30" x2="304.63" y2="307.70" stroke="#444" stroke-width="0.6" />
<line x1="277.63" y1="300.30" x2="304.63" y2="300.30" stroke="#444" stroke-width="0.6" />
<path d="M255.60,337.50H254.42V343.29H255.60" fill="none" stroke="#333" stroke-width="0.55"/>
<path d="M254.42,340.40H253.20V349.09H255.60" fill="none" stroke="#333" stroke-width="0.55"/>
<path d="M255.60,360.68H254.93V366.47H255.60" fill="none" stroke="#333" stroke-width="0.55"/>
<path d="M255.60,354.88H253.94V363.58H254.93" fill="none" stroke="#333" stroke-width="0.55"/>
<path d="M253.94,359.23H252.62V372.27H255.60" fill="none" stroke="#333" stroke-width="0.55"/>
<path d="M252.62,365.75H251.83V378.07H255.60" fill="none" stroke="#333" stroke-width="0.55"/>
<path d="M251.83,371.91H250.64V383.86H255.60" fill="none" stroke="#333" stroke-width="0.55"/>
<path d="M253.20,344.74H249.81V377.88H250.64" fill="none" stroke="#333" stroke-width="0.55"/>
<path d="M249.81,361.31H248.68V389.66H255.60" fill="none" stroke="#333" stroke-width="0.55"/>
<path d="M255.60,401.25H254.62V407.04H255.60" fill="none" stroke="#333" stroke-width="0.55"/>
<path d="M255.60,412.84H254.24V418.63H255.60" fill="none" stroke="#333" stroke-width="0.55"/>
<path d="M254.62,404.14H253.70V415.73H254.24" fill="none" stroke="#333" stroke-width="0.55"/>
<path d="M255.60,395.45H252.94V409.94H253.70" fill="none" stroke="#333" stroke-width="0.55"/>
<path d="M252.94,402.70H252.50V424.43H255.60" fill="none" stroke="#333" stroke-width="0.55"/>
<path d="M248.68,375.48H247.79V413.56H252.50" fill="none" stroke="#333" stroke-width="0.55"/>
<path d="M255.60,436.02H254.94V441.81H255.60" fill="none" stroke="#333" stroke-width="0.55"/>
<path d="M254.94,438.92H253.87V447.61H255.60" fill="none" stroke="#333" stroke-width="0.55"/>
<path d="M255.60,430.22H252.69V443.26H253.87" fill="none" stroke="#333" stroke-width="0.55"/>
<path d="M255.60,453.40H254.34V459.20H255.60" fill="none" stroke="#333" stroke-width="0.55"/>
<path d="M255.60,465.00H254.78V470.79H255.60" fill="none" stroke="#333" stroke-width="0.55"/>
<path d="M254.34,456.30H253.11V467.89H254.78" fill="none" stroke="#333" stroke-width="0.55"/>
<path d="M253.11,462.10H252.14V476.59H255.60" fill="none" stroke="#333" stroke-width="0.55"/>
<path d="M252.69,436.74H251.20V469.34H252.14" fill="none" stroke="#333" stroke-width="0.55"/>
<path d="M255.60,482.38H254.79V488.18H255.60" fill="none" stroke="#333" stroke-width="0.55"/>
<path d="M255.60,499.77H254.97V505.56H255.60" fill="none" stroke="#333" stroke-width="0.55"/>
<path d="M255.60,493.97H254.23V502.67H254.97" fill="none" stroke="#333" stroke-width="0.55"/>
<path d="M254.79,485.28H252.92V498.32H254.23" fill="none" stroke="#333" stroke-width="0.55"/>
<path d="M255.60,534.54H255.17V540.33H255.60" fill="none" stroke="#333" stroke-width="0.55"/>
<path d="M255.60,528.74H254.49V537.44H255.17" fill="none" stroke="#333" stroke-width="0.55"/>
<path d="M255.60,522.95H253.49V533.09H254.49" fill="none" stroke="#333" stroke-width="0.55"/>
<path d="M255.60,517.15H252.39V528.02H253.49" fill="none" stroke="#333" stroke-width="0.55"/>
<path d="M255.60,511.36H251.29V522.59H252.39" fill="none" stroke="#333" stroke-width="0.55"/>
<path d="M251.29,516.97H250.57V546.13H255.60" fill="none" stroke="#333" stroke-width="0.55"/>
<path d="M255.60,551.93H254.66V557.72H255.60" fill="none" stroke="#333" stroke-width="0.55"/>
<path d="M250.57,531.55H249.59V554.82H254.66" fill="none" stroke="#333" stroke-width="0.55"/>
<path d="M255.60,563.52H255.10V569.31H255.60" fill="none" stroke="#333" stroke-width="0.55"/>
<path d="M255.60,575.11H254.54V580.90H255.60" fill="none" stroke="#333" stroke-width="0.55"/>
<path d="M255.10,566.41H253.51V578.00H254.54" fill="none" stroke="#333" stroke-width="0.55"/>
<path d="M249.59,543.19H248.21V572.21H253.51" fill="none" stroke="#333" stroke-width="0.55"/>
<path d="M252.92,491.80H247.54V557.70H248.21" fill="none" stroke="#333" stroke-width="0.55"/>
<path d="M251.20,453.04H247.01V524.75H247.54" fill="none" stroke="#333" stroke-width="0.55"/>
<path d="M247.79,394.52H246.13V488.90H247.01" fill="none" stroke="#333" stroke-width="0.55"/>
<rect x="0.5" y="0.5" width="519" height="660" fill="none" stroke="#000" stroke-width="1"/>
</svg></body></html>
